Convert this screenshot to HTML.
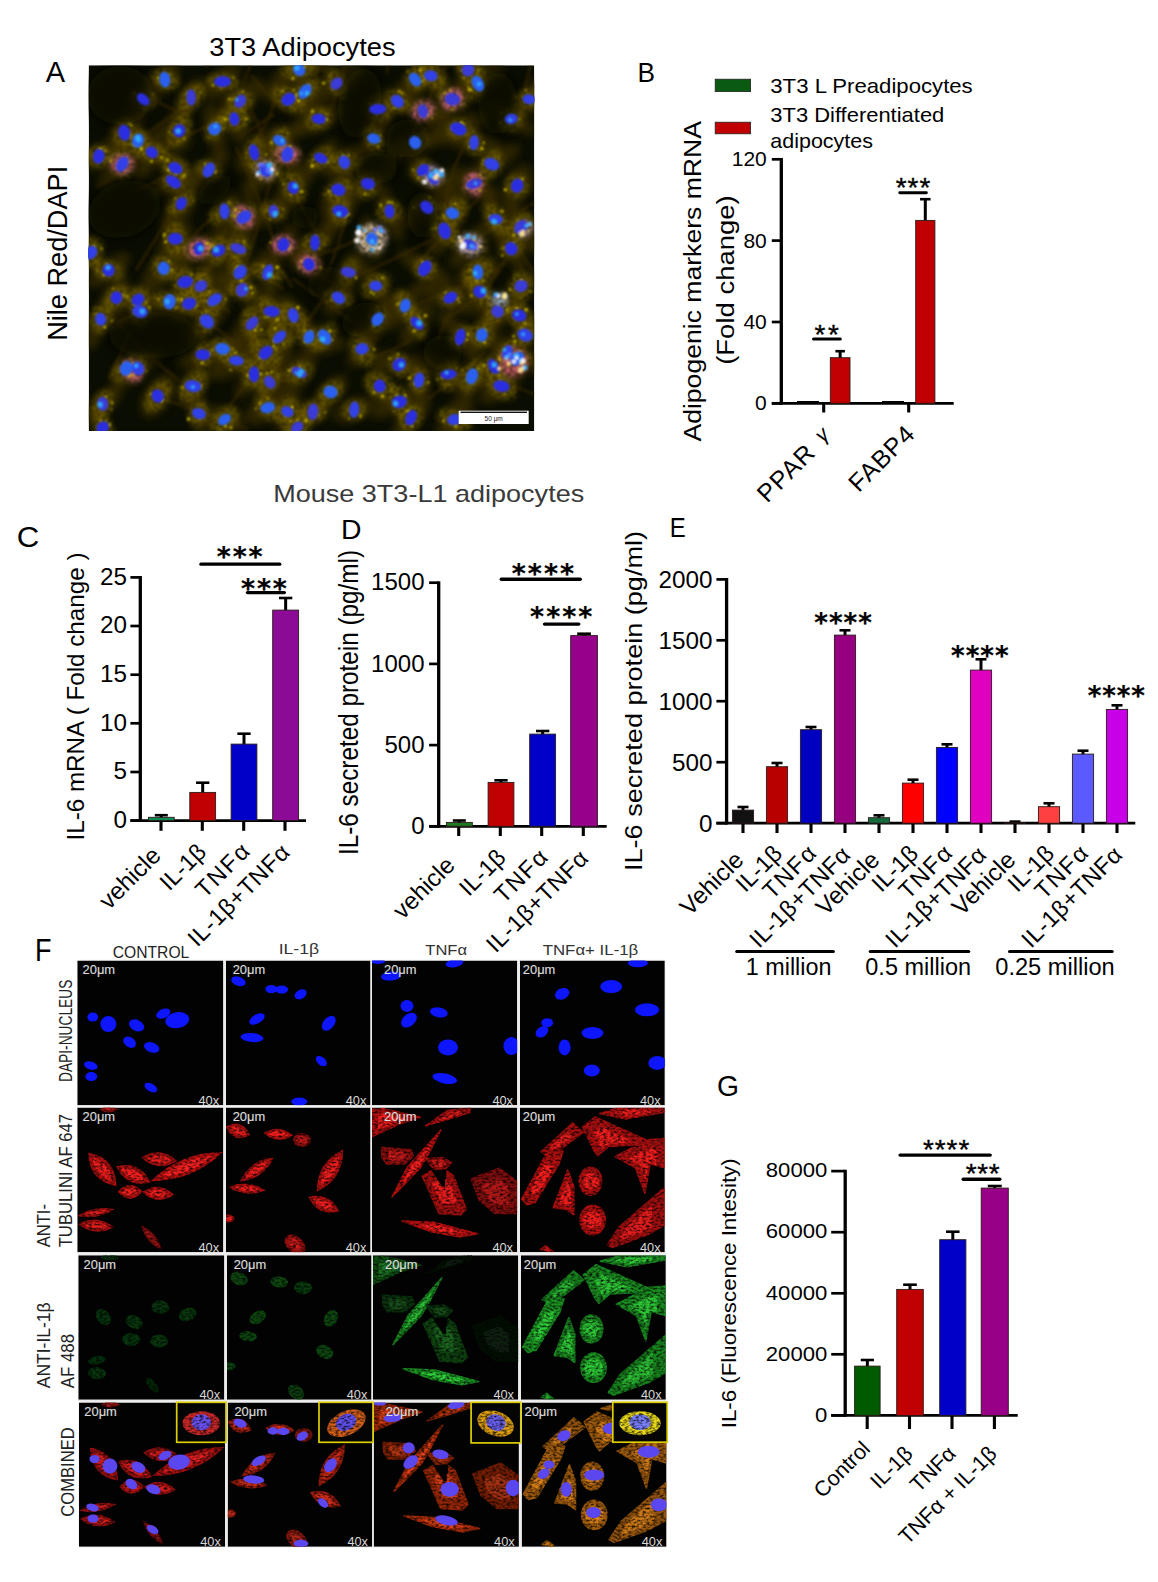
<!DOCTYPE html>
<html><head><meta charset="utf-8"><title>Figure</title>
<style>html,body{margin:0;padding:0;background:#fff}svg{display:block}text{font-family:'Liberation Sans', Arial, sans-serif}</style>
</head><body>
<svg width="1158" height="1582" viewBox="0 0 1158 1582">
<rect width="1158" height="1582" fill="#fff"/>
<text x="45.70" y="81.70" font-size="29">A</text>
<text x="209.30" y="55.70" font-size="26" textLength="186.3" lengthAdjust="spacingAndGlyphs">3T3 Adipocytes</text>
<text x="67.00" y="340.80" font-size="27" transform="rotate(-90 67.00 340.80)" textLength="175.0" lengthAdjust="spacingAndGlyphs">Nile Red/DAPI</text>
<defs><clipPath id="cpA"><rect x="88.7" y="65.3" width="445.59999999999997" height="365.7"/></clipPath><filter id="bA1" x="-20%" y="-20%" width="140%" height="140%"><feGaussianBlur stdDeviation="4"/></filter><filter id="bA5" x="-40%" y="-40%" width="180%" height="180%"><feGaussianBlur stdDeviation="7"/></filter><filter id="bA2" x="-20%" y="-20%" width="140%" height="140%"><feGaussianBlur stdDeviation="1.6"/></filter><filter id="bA4" x="-5%" y="-5%" width="110%" height="110%"><feGaussianBlur stdDeviation="2.4" result="b"/><feTurbulence type="fractalNoise" baseFrequency="0.3" numOctaves="2" seed="11" result="n"/><feColorMatrix in="n" type="matrix" values="0 0 0 0 0 0 0 0 0 0 0 0 0 0 0 2.4 0 0 0 -0.5" result="a"/><feComposite in="b" in2="a" operator="in"/><feGaussianBlur stdDeviation="1.0"/></filter><filter id="bA3" x="-20%" y="-20%" width="140%" height="140%"><feGaussianBlur stdDeviation="1.0"/></filter></defs>
<g clip-path="url(#cpA)">
<rect x="88.70" y="65.30" width="445.60" height="365.70" fill="#0a0d01"/>
<g stroke="#4a3006" stroke-width="2.2" fill="none" opacity="0.6" filter="url(#bA2)">
<path d="M233.0 120.5Q243.4 75.1 259.1 47.5"/>
<path d="M314.8 79.0Q321.0 63.7 330.3 35.3"/>
<path d="M143.9 146.9Q179.5 142.6 219.3 119.2"/>
<path d="M109.5 379.2Q115.4 363.5 128.9 335.1"/>
<path d="M169.2 278.0Q184.0 237.8 216.2 215.3"/>
<path d="M180.5 314.1Q201.9 276.4 225.2 246.6"/>
<path d="M442.7 320.9Q478.9 300.0 500.1 270.0"/>
<path d="M217.0 423.7Q239.6 387.6 276.1 352.0"/>
<path d="M106.2 309.7Q138.7 348.9 178.7 380.4"/>
<path d="M353.6 277.4Q400.6 257.1 448.6 230.2"/>
<path d="M115.7 321.8Q157.9 304.8 208.7 292.4"/>
<path d="M386.7 73.6Q388.1 57.1 407.1 29.9"/>
<path d="M146.3 155.9Q166.1 147.4 187.8 136.9"/>
<path d="M482.3 364.9Q510.2 388.5 543.7 396.7"/>
<path d="M515.5 120.5Q528.7 97.6 542.6 71.1"/>
<path d="M205.8 66.8Q238.6 38.7 253.3 2.9"/>
<path d="M318.4 291.2Q340.4 249.9 351.3 193.6"/>
<path d="M444.2 208.8Q450.9 160.9 475.1 130.2"/>
<path d="M181.7 124.7Q181.1 97.7 194.4 86.7"/>
<path d="M250.7 74.6Q263.1 89.9 285.3 111.3"/>
<path d="M251.0 110.2Q264.0 135.7 277.8 177.7"/>
<path d="M134.2 190.6Q147.6 188.0 179.9 167.3"/>
<path d="M324.1 118.9Q345.0 89.4 346.7 45.3"/>
<path d="M398.9 160.8Q419.5 123.8 438.8 75.6"/>
<path d="M235.6 146.9Q260.5 199.4 273.1 239.2"/>
<path d="M418.4 148.2Q421.3 126.8 443.0 114.2"/>
<path d="M204.2 318.6Q256.1 359.5 288.4 382.2"/>
<path d="M251.2 145.9Q265.9 129.7 275.7 97.4"/>
<path d="M463.2 240.6Q486.6 237.8 503.5 218.6"/>
<path d="M437.3 339.6Q454.6 302.7 478.7 253.8"/>
<path d="M521.7 210.1Q557.6 186.9 606.8 178.7"/>
<path d="M156.1 396.2Q211.7 416.0 248.1 429.4"/>
<path d="M244.8 265.9Q263.0 214.7 275.2 162.3"/>
<path d="M504.7 223.9Q513.9 243.2 533.1 270.8"/>
<path d="M195.9 279.8Q219.7 257.9 227.2 241.8"/>
<path d="M292.9 278.6Q335.3 309.6 377.7 339.3"/>
<path d="M322.0 72.1Q336.8 47.5 339.6 35.9"/>
<path d="M299.7 330.5Q322.2 304.6 342.6 267.4"/>
<path d="M136.0 270.2Q160.6 231.3 185.0 189.9"/>
<path d="M427.4 399.0Q456.7 378.9 485.6 351.2"/>
<path d="M290.3 260.3Q339.4 253.6 373.6 229.1"/>
<path d="M204.4 269.9Q209.4 290.1 229.5 312.7"/>
<path d="M121.0 153.3Q167.3 118.4 197.7 97.4"/>
<path d="M407.8 306.8Q451.4 294.0 506.3 263.1"/>
<path d="M266.2 243.5Q277.9 265.8 292.5 287.5"/>
<path d="M239.8 136.9Q258.2 124.4 274.5 114.3"/>
<path d="M96.8 186.5Q122.2 176.5 128.2 155.0"/>
<path d="M521.7 103.6Q531.5 51.2 550.6 13.6"/>
<path d="M276.9 398.6Q307.9 411.2 322.1 420.9"/>
<path d="M400.8 98.0Q420.8 86.7 457.9 57.9"/>
<path d="M371.4 358.5Q398.8 347.9 411.7 339.3"/>
<path d="M239.8 267.6Q262.3 273.4 283.6 289.7"/>
<path d="M137.5 124.3Q147.6 102.0 165.6 69.3"/>
<path d="M217.9 248.2Q224.9 221.7 241.8 214.5"/>
<path d="M415.4 266.8Q443.2 234.5 486.9 189.4"/>
<path d="M281.3 246.3Q316.3 277.1 343.9 288.5"/>
<path d="M241.4 369.7Q261.3 386.1 287.2 420.4"/>
<path d="M146.5 91.2Q161.3 109.3 192.7 113.8"/>
<path d="M476.6 310.5Q490.7 277.3 506.3 257.8"/>
<path d="M287.4 161.6Q297.4 207.0 317.7 233.7"/>
</g>
<g filter="url(#bA1)">
<ellipse cx="164.8" cy="79.6" rx="20.0" ry="9.9" transform="rotate(-52 164.8 79.6)" fill="#3a2d00" opacity="0.7"/>
<ellipse cx="222.5" cy="81.6" rx="22.8" ry="10.5" transform="rotate(-45 222.5 81.6)" fill="#3a2d00" opacity="0.7"/>
<ellipse cx="191.1" cy="97.3" rx="21.3" ry="10.0" transform="rotate(-57 191.1 97.3)" fill="#3a2d00" opacity="0.7"/>
<ellipse cx="143.2" cy="99.3" rx="24.3" ry="9.2" transform="rotate(-69 143.2 99.3)" fill="#3a2d00" opacity="0.7"/>
<ellipse cx="240.2" cy="101.3" rx="30.5" ry="11.3" transform="rotate(-44 240.2 101.3)" fill="#3a2d00" opacity="0.7"/>
<ellipse cx="234.3" cy="118.9" rx="25.5" ry="9.6" transform="rotate(72 234.3 118.9)" fill="#3a2d00" opacity="0.7"/>
<ellipse cx="288.5" cy="99.3" rx="30.1" ry="11.2" transform="rotate(20 288.5 99.3)" fill="#3a2d00" opacity="0.7"/>
<ellipse cx="299.1" cy="69.8" rx="32.5" ry="11.1" transform="rotate(-28 299.1 69.8)" fill="#3a2d00" opacity="0.7"/>
<ellipse cx="305.0" cy="91.4" rx="22.0" ry="10.6" transform="rotate(67 305.0 91.4)" fill="#3a2d00" opacity="0.7"/>
<ellipse cx="336.5" cy="83.6" rx="31.3" ry="12.1" transform="rotate(-28 336.5 83.6)" fill="#3a2d00" opacity="0.7"/>
<ellipse cx="318.8" cy="118.9" rx="29.6" ry="11.5" transform="rotate(-25 318.8 118.9)" fill="#3a2d00" opacity="0.7"/>
<ellipse cx="377.7" cy="109.1" rx="21.9" ry="9.8" transform="rotate(-68 377.7 109.1)" fill="#3a2d00" opacity="0.7"/>
<ellipse cx="397.4" cy="101.3" rx="27.8" ry="11.1" transform="rotate(-28 397.4 101.3)" fill="#3a2d00" opacity="0.7"/>
<ellipse cx="415.1" cy="79.6" rx="26.9" ry="8.0" transform="rotate(-36 415.1 79.6)" fill="#3a2d00" opacity="0.7"/>
<ellipse cx="430.8" cy="75.7" rx="27.0" ry="10.7" transform="rotate(62 430.8 75.7)" fill="#3a2d00" opacity="0.7"/>
<ellipse cx="422.9" cy="111.1" rx="30.3" ry="9.3" transform="rotate(15 422.9 111.1)" fill="#3a2d00" opacity="0.7"/>
<ellipse cx="452.4" cy="99.3" rx="30.2" ry="9.0" transform="rotate(-57 452.4 99.3)" fill="#3a2d00" opacity="0.7"/>
<ellipse cx="468.1" cy="69.8" rx="26.9" ry="9.9" transform="rotate(78 468.1 69.8)" fill="#3a2d00" opacity="0.7"/>
<ellipse cx="477.9" cy="83.6" rx="30.7" ry="11.1" transform="rotate(-36 477.9 83.6)" fill="#3a2d00" opacity="0.7"/>
<ellipse cx="529.0" cy="99.3" rx="22.1" ry="9.3" transform="rotate(-66 529.0 99.3)" fill="#3a2d00" opacity="0.7"/>
<ellipse cx="511.3" cy="118.9" rx="27.9" ry="8.1" transform="rotate(31 511.3 118.9)" fill="#3a2d00" opacity="0.7"/>
<ellipse cx="124.3" cy="132.7" rx="29.4" ry="11.5" transform="rotate(-57 124.3 132.7)" fill="#3a2d00" opacity="0.7"/>
<ellipse cx="138.0" cy="140.6" rx="27.2" ry="10.3" transform="rotate(30 138.0 140.6)" fill="#3a2d00" opacity="0.7"/>
<ellipse cx="151.8" cy="152.3" rx="32.5" ry="9.0" transform="rotate(-64 151.8 152.3)" fill="#3a2d00" opacity="0.7"/>
<ellipse cx="179.3" cy="130.7" rx="20.2" ry="10.3" transform="rotate(76 179.3 130.7)" fill="#3a2d00" opacity="0.7"/>
<ellipse cx="214.7" cy="128.8" rx="26.3" ry="9.3" transform="rotate(78 214.7 128.8)" fill="#3a2d00" opacity="0.7"/>
<ellipse cx="98.8" cy="156.3" rx="22.9" ry="10.9" transform="rotate(-23 98.8 156.3)" fill="#3a2d00" opacity="0.7"/>
<ellipse cx="122.3" cy="164.1" rx="33.3" ry="8.7" transform="rotate(-44 122.3 164.1)" fill="#3a2d00" opacity="0.7"/>
<ellipse cx="175.4" cy="168.1" rx="32.4" ry="11.5" transform="rotate(46 175.4 168.1)" fill="#3a2d00" opacity="0.7"/>
<ellipse cx="173.4" cy="181.8" rx="26.8" ry="8.1" transform="rotate(-25 173.4 181.8)" fill="#3a2d00" opacity="0.7"/>
<ellipse cx="208.8" cy="170.0" rx="26.3" ry="9.5" transform="rotate(-45 208.8 170.0)" fill="#3a2d00" opacity="0.7"/>
<ellipse cx="254.0" cy="152.3" rx="24.4" ry="12.2" transform="rotate(-53 254.0 152.3)" fill="#3a2d00" opacity="0.7"/>
<ellipse cx="279.5" cy="140.6" rx="31.7" ry="8.6" transform="rotate(-32 279.5 140.6)" fill="#3a2d00" opacity="0.7"/>
<ellipse cx="287.4" cy="154.3" rx="32.6" ry="9.4" transform="rotate(60 287.4 154.3)" fill="#3a2d00" opacity="0.7"/>
<ellipse cx="265.7" cy="170.0" rx="34.0" ry="10.9" transform="rotate(-50 265.7 170.0)" fill="#3a2d00" opacity="0.7"/>
<ellipse cx="320.8" cy="158.2" rx="23.9" ry="8.2" transform="rotate(-49 320.8 158.2)" fill="#3a2d00" opacity="0.7"/>
<ellipse cx="344.3" cy="162.2" rx="24.0" ry="12.7" transform="rotate(-28 344.3 162.2)" fill="#3a2d00" opacity="0.7"/>
<ellipse cx="373.8" cy="138.6" rx="27.2" ry="8.9" transform="rotate(-57 373.8 138.6)" fill="#3a2d00" opacity="0.7"/>
<ellipse cx="415.1" cy="142.5" rx="32.4" ry="12.1" transform="rotate(-22 415.1 142.5)" fill="#3a2d00" opacity="0.7"/>
<ellipse cx="458.3" cy="128.8" rx="33.2" ry="10.7" transform="rotate(-24 458.3 128.8)" fill="#3a2d00" opacity="0.7"/>
<ellipse cx="474.0" cy="142.5" rx="30.3" ry="10.3" transform="rotate(13 474.0 142.5)" fill="#3a2d00" opacity="0.7"/>
<ellipse cx="422.9" cy="170.0" rx="24.0" ry="8.2" transform="rotate(55 422.9 170.0)" fill="#3a2d00" opacity="0.7"/>
<ellipse cx="432.7" cy="177.9" rx="26.6" ry="9.7" transform="rotate(19 432.7 177.9)" fill="#3a2d00" opacity="0.7"/>
<ellipse cx="491.7" cy="164.1" rx="33.7" ry="9.3" transform="rotate(-33 491.7 164.1)" fill="#3a2d00" opacity="0.7"/>
<ellipse cx="474.0" cy="183.8" rx="27.8" ry="10.0" transform="rotate(31 474.0 183.8)" fill="#3a2d00" opacity="0.7"/>
<ellipse cx="517.2" cy="185.7" rx="22.9" ry="12.5" transform="rotate(-62 517.2 185.7)" fill="#3a2d00" opacity="0.7"/>
<ellipse cx="181.3" cy="203.4" rx="32.7" ry="13.0" transform="rotate(-59 181.3 203.4)" fill="#3a2d00" opacity="0.7"/>
<ellipse cx="224.5" cy="211.3" rx="22.7" ry="8.5" transform="rotate(-63 224.5 211.3)" fill="#3a2d00" opacity="0.7"/>
<ellipse cx="244.1" cy="217.2" rx="23.3" ry="9.3" transform="rotate(-65 244.1 217.2)" fill="#3a2d00" opacity="0.7"/>
<ellipse cx="273.6" cy="211.3" rx="30.5" ry="10.1" transform="rotate(-26 273.6 211.3)" fill="#3a2d00" opacity="0.7"/>
<ellipse cx="293.3" cy="187.7" rx="25.3" ry="9.7" transform="rotate(-44 293.3 187.7)" fill="#3a2d00" opacity="0.7"/>
<ellipse cx="338.4" cy="189.7" rx="33.5" ry="8.6" transform="rotate(-56 338.4 189.7)" fill="#3a2d00" opacity="0.7"/>
<ellipse cx="367.9" cy="183.8" rx="32.1" ry="9.1" transform="rotate(-39 367.9 183.8)" fill="#3a2d00" opacity="0.7"/>
<ellipse cx="340.4" cy="211.3" rx="25.6" ry="10.2" transform="rotate(-58 340.4 211.3)" fill="#3a2d00" opacity="0.7"/>
<ellipse cx="389.5" cy="211.3" rx="32.2" ry="8.1" transform="rotate(69 389.5 211.3)" fill="#3a2d00" opacity="0.7"/>
<ellipse cx="426.8" cy="207.3" rx="32.5" ry="10.4" transform="rotate(-35 426.8 207.3)" fill="#3a2d00" opacity="0.7"/>
<ellipse cx="452.4" cy="213.2" rx="25.5" ry="12.6" transform="rotate(-70 452.4 213.2)" fill="#3a2d00" opacity="0.7"/>
<ellipse cx="495.6" cy="219.1" rx="33.6" ry="9.2" transform="rotate(70 495.6 219.1)" fill="#3a2d00" opacity="0.7"/>
<ellipse cx="444.5" cy="230.9" rx="27.3" ry="11.4" transform="rotate(-62 444.5 230.9)" fill="#3a2d00" opacity="0.7"/>
<ellipse cx="521.1" cy="227.0" rx="29.1" ry="11.8" transform="rotate(61 521.1 227.0)" fill="#3a2d00" opacity="0.7"/>
<ellipse cx="175.4" cy="238.8" rx="20.6" ry="11.9" transform="rotate(-42 175.4 238.8)" fill="#3a2d00" opacity="0.7"/>
<ellipse cx="198.9" cy="248.6" rx="29.0" ry="9.5" transform="rotate(-24 198.9 248.6)" fill="#3a2d00" opacity="0.7"/>
<ellipse cx="218.6" cy="250.6" rx="28.9" ry="11.5" transform="rotate(-57 218.6 250.6)" fill="#3a2d00" opacity="0.7"/>
<ellipse cx="238.2" cy="248.6" rx="27.3" ry="10.9" transform="rotate(-66 238.2 248.6)" fill="#3a2d00" opacity="0.7"/>
<ellipse cx="283.4" cy="244.7" rx="28.4" ry="8.1" transform="rotate(-59 283.4 244.7)" fill="#3a2d00" opacity="0.7"/>
<ellipse cx="314.9" cy="242.7" rx="33.4" ry="11.2" transform="rotate(-47 314.9 242.7)" fill="#3a2d00" opacity="0.7"/>
<ellipse cx="309.0" cy="264.3" rx="23.3" ry="9.2" transform="rotate(43 309.0 264.3)" fill="#3a2d00" opacity="0.7"/>
<ellipse cx="90.9" cy="252.5" rx="24.3" ry="8.1" transform="rotate(59 90.9 252.5)" fill="#3a2d00" opacity="0.7"/>
<ellipse cx="108.6" cy="270.2" rx="25.9" ry="9.3" transform="rotate(-36 108.6 270.2)" fill="#3a2d00" opacity="0.7"/>
<ellipse cx="371.8" cy="238.8" rx="23.2" ry="8.2" transform="rotate(75 371.8 238.8)" fill="#3a2d00" opacity="0.7"/>
<ellipse cx="470.1" cy="244.7" rx="29.6" ry="9.0" transform="rotate(-49 470.1 244.7)" fill="#3a2d00" opacity="0.7"/>
<ellipse cx="511.3" cy="248.6" rx="27.1" ry="9.0" transform="rotate(62 511.3 248.6)" fill="#3a2d00" opacity="0.7"/>
<ellipse cx="424.9" cy="268.3" rx="31.5" ry="9.2" transform="rotate(32 424.9 268.3)" fill="#3a2d00" opacity="0.7"/>
<ellipse cx="477.9" cy="272.2" rx="24.1" ry="12.8" transform="rotate(-32 477.9 272.2)" fill="#3a2d00" opacity="0.7"/>
<ellipse cx="348.3" cy="272.2" rx="23.1" ry="10.1" transform="rotate(-61 348.3 272.2)" fill="#3a2d00" opacity="0.7"/>
<ellipse cx="267.7" cy="272.2" rx="22.0" ry="10.0" transform="rotate(76 267.7 272.2)" fill="#3a2d00" opacity="0.7"/>
<ellipse cx="240.2" cy="272.2" rx="22.0" ry="8.3" transform="rotate(-21 240.2 272.2)" fill="#3a2d00" opacity="0.7"/>
<ellipse cx="163.6" cy="268.3" rx="32.6" ry="12.4" transform="rotate(-50 163.6 268.3)" fill="#3a2d00" opacity="0.7"/>
<ellipse cx="185.2" cy="282.0" rx="33.0" ry="9.6" transform="rotate(80 185.2 282.0)" fill="#3a2d00" opacity="0.7"/>
<ellipse cx="200.9" cy="285.9" rx="30.4" ry="8.2" transform="rotate(-23 200.9 285.9)" fill="#3a2d00" opacity="0.7"/>
<ellipse cx="242.2" cy="289.9" rx="25.2" ry="9.7" transform="rotate(37 242.2 289.9)" fill="#3a2d00" opacity="0.7"/>
<ellipse cx="116.4" cy="297.7" rx="23.9" ry="9.8" transform="rotate(-70 116.4 297.7)" fill="#3a2d00" opacity="0.7"/>
<ellipse cx="138.0" cy="299.7" rx="33.5" ry="9.0" transform="rotate(19 138.0 299.7)" fill="#3a2d00" opacity="0.7"/>
<ellipse cx="169.5" cy="301.7" rx="31.5" ry="10.2" transform="rotate(-29 169.5 301.7)" fill="#3a2d00" opacity="0.7"/>
<ellipse cx="189.1" cy="303.6" rx="25.2" ry="12.6" transform="rotate(-46 189.1 303.6)" fill="#3a2d00" opacity="0.7"/>
<ellipse cx="214.7" cy="299.7" rx="32.6" ry="8.2" transform="rotate(-52 214.7 299.7)" fill="#3a2d00" opacity="0.7"/>
<ellipse cx="140.0" cy="311.5" rx="30.7" ry="8.2" transform="rotate(-29 140.0 311.5)" fill="#3a2d00" opacity="0.7"/>
<ellipse cx="100.7" cy="319.3" rx="32.9" ry="9.3" transform="rotate(-67 100.7 319.3)" fill="#3a2d00" opacity="0.7"/>
<ellipse cx="271.6" cy="311.5" rx="24.7" ry="9.4" transform="rotate(73 271.6 311.5)" fill="#3a2d00" opacity="0.7"/>
<ellipse cx="293.3" cy="315.4" rx="23.7" ry="11.6" transform="rotate(53 293.3 315.4)" fill="#3a2d00" opacity="0.7"/>
<ellipse cx="338.4" cy="297.7" rx="20.1" ry="11.8" transform="rotate(-56 338.4 297.7)" fill="#3a2d00" opacity="0.7"/>
<ellipse cx="375.8" cy="285.9" rx="33.2" ry="8.1" transform="rotate(54 375.8 285.9)" fill="#3a2d00" opacity="0.7"/>
<ellipse cx="377.7" cy="319.3" rx="33.4" ry="12.8" transform="rotate(-46 377.7 319.3)" fill="#3a2d00" opacity="0.7"/>
<ellipse cx="417.0" cy="323.3" rx="26.0" ry="10.5" transform="rotate(-57 417.0 323.3)" fill="#3a2d00" opacity="0.7"/>
<ellipse cx="450.4" cy="297.7" rx="31.2" ry="11.7" transform="rotate(23 450.4 297.7)" fill="#3a2d00" opacity="0.7"/>
<ellipse cx="479.9" cy="291.8" rx="28.5" ry="9.6" transform="rotate(64 479.9 291.8)" fill="#3a2d00" opacity="0.7"/>
<ellipse cx="405.2" cy="305.6" rx="31.0" ry="8.4" transform="rotate(-52 405.2 305.6)" fill="#3a2d00" opacity="0.7"/>
<ellipse cx="521.1" cy="285.9" rx="23.5" ry="8.3" transform="rotate(-32 521.1 285.9)" fill="#3a2d00" opacity="0.7"/>
<ellipse cx="497.6" cy="311.5" rx="24.6" ry="12.9" transform="rotate(-42 497.6 311.5)" fill="#3a2d00" opacity="0.7"/>
<ellipse cx="519.2" cy="315.4" rx="23.7" ry="8.4" transform="rotate(79 519.2 315.4)" fill="#3a2d00" opacity="0.7"/>
<ellipse cx="206.8" cy="321.3" rx="29.9" ry="10.2" transform="rotate(-45 206.8 321.3)" fill="#3a2d00" opacity="0.7"/>
<ellipse cx="252.0" cy="323.3" rx="28.7" ry="11.4" transform="rotate(-49 252.0 323.3)" fill="#3a2d00" opacity="0.7"/>
<ellipse cx="279.5" cy="337.0" rx="29.3" ry="8.6" transform="rotate(69 279.5 337.0)" fill="#3a2d00" opacity="0.7"/>
<ellipse cx="309.0" cy="337.0" rx="27.9" ry="9.9" transform="rotate(31 309.0 337.0)" fill="#3a2d00" opacity="0.7"/>
<ellipse cx="324.7" cy="337.0" rx="23.5" ry="9.2" transform="rotate(24 324.7 337.0)" fill="#3a2d00" opacity="0.7"/>
<ellipse cx="222.5" cy="348.8" rx="28.1" ry="9.6" transform="rotate(-26 222.5 348.8)" fill="#3a2d00" opacity="0.7"/>
<ellipse cx="202.9" cy="354.7" rx="27.1" ry="9.2" transform="rotate(-20 202.9 354.7)" fill="#3a2d00" opacity="0.7"/>
<ellipse cx="265.7" cy="352.7" rx="33.9" ry="8.5" transform="rotate(56 265.7 352.7)" fill="#3a2d00" opacity="0.7"/>
<ellipse cx="236.3" cy="360.6" rx="31.8" ry="12.6" transform="rotate(-29 236.3 360.6)" fill="#3a2d00" opacity="0.7"/>
<ellipse cx="362.0" cy="348.8" rx="21.7" ry="8.9" transform="rotate(-55 362.0 348.8)" fill="#3a2d00" opacity="0.7"/>
<ellipse cx="460.2" cy="337.0" rx="33.0" ry="9.9" transform="rotate(51 460.2 337.0)" fill="#3a2d00" opacity="0.7"/>
<ellipse cx="507.4" cy="352.7" rx="23.6" ry="11.9" transform="rotate(41 507.4 352.7)" fill="#3a2d00" opacity="0.7"/>
<ellipse cx="399.3" cy="364.5" rx="28.3" ry="11.1" transform="rotate(17 399.3 364.5)" fill="#3a2d00" opacity="0.7"/>
<ellipse cx="126.3" cy="368.4" rx="22.0" ry="9.0" transform="rotate(-52 126.3 368.4)" fill="#3a2d00" opacity="0.7"/>
<ellipse cx="138.0" cy="368.4" rx="29.1" ry="9.0" transform="rotate(-40 138.0 368.4)" fill="#3a2d00" opacity="0.7"/>
<ellipse cx="254.0" cy="374.3" rx="29.5" ry="8.9" transform="rotate(-54 254.0 374.3)" fill="#3a2d00" opacity="0.7"/>
<ellipse cx="299.1" cy="372.4" rx="31.1" ry="10.7" transform="rotate(-60 299.1 372.4)" fill="#3a2d00" opacity="0.7"/>
<ellipse cx="269.7" cy="382.2" rx="25.5" ry="10.8" transform="rotate(-65 269.7 382.2)" fill="#3a2d00" opacity="0.7"/>
<ellipse cx="193.1" cy="386.1" rx="22.3" ry="11.5" transform="rotate(-65 193.1 386.1)" fill="#3a2d00" opacity="0.7"/>
<ellipse cx="157.7" cy="396.0" rx="24.3" ry="12.8" transform="rotate(-56 157.7 396.0)" fill="#3a2d00" opacity="0.7"/>
<ellipse cx="102.7" cy="403.8" rx="25.0" ry="10.1" transform="rotate(-42 102.7 403.8)" fill="#3a2d00" opacity="0.7"/>
<ellipse cx="198.9" cy="413.6" rx="25.1" ry="9.0" transform="rotate(80 198.9 413.6)" fill="#3a2d00" opacity="0.7"/>
<ellipse cx="224.5" cy="419.5" rx="20.1" ry="12.5" transform="rotate(24 224.5 419.5)" fill="#3a2d00" opacity="0.7"/>
<ellipse cx="267.7" cy="407.7" rx="25.7" ry="12.4" transform="rotate(-29 267.7 407.7)" fill="#3a2d00" opacity="0.7"/>
<ellipse cx="287.4" cy="411.7" rx="20.2" ry="10.8" transform="rotate(-62 287.4 411.7)" fill="#3a2d00" opacity="0.7"/>
<ellipse cx="312.9" cy="411.7" rx="21.2" ry="11.1" transform="rotate(-25 312.9 411.7)" fill="#3a2d00" opacity="0.7"/>
<ellipse cx="330.6" cy="392.0" rx="22.0" ry="9.4" transform="rotate(-45 330.6 392.0)" fill="#3a2d00" opacity="0.7"/>
<ellipse cx="354.2" cy="409.7" rx="21.5" ry="10.5" transform="rotate(-24 354.2 409.7)" fill="#3a2d00" opacity="0.7"/>
<ellipse cx="379.7" cy="386.1" rx="22.8" ry="8.6" transform="rotate(78 379.7 386.1)" fill="#3a2d00" opacity="0.7"/>
<ellipse cx="419.0" cy="380.2" rx="26.8" ry="8.3" transform="rotate(78 419.0 380.2)" fill="#3a2d00" opacity="0.7"/>
<ellipse cx="448.5" cy="374.3" rx="32.7" ry="11.1" transform="rotate(37 448.5 374.3)" fill="#3a2d00" opacity="0.7"/>
<ellipse cx="472.0" cy="376.3" rx="31.0" ry="9.1" transform="rotate(21 472.0 376.3)" fill="#3a2d00" opacity="0.7"/>
<ellipse cx="399.3" cy="401.8" rx="31.6" ry="8.9" transform="rotate(-28 399.3 401.8)" fill="#3a2d00" opacity="0.7"/>
<ellipse cx="411.1" cy="417.6" rx="27.3" ry="9.9" transform="rotate(-50 411.1 417.6)" fill="#3a2d00" opacity="0.7"/>
<ellipse cx="454.4" cy="419.5" rx="30.1" ry="12.5" transform="rotate(-58 454.4 419.5)" fill="#3a2d00" opacity="0.7"/>
<ellipse cx="493.6" cy="366.5" rx="30.6" ry="8.2" transform="rotate(-42 493.6 366.5)" fill="#3a2d00" opacity="0.7"/>
<ellipse cx="517.2" cy="358.6" rx="28.4" ry="10.8" transform="rotate(18 517.2 358.6)" fill="#3a2d00" opacity="0.7"/>
<ellipse cx="525.1" cy="335.0" rx="25.9" ry="10.9" transform="rotate(-55 525.1 335.0)" fill="#3a2d00" opacity="0.7"/>
<ellipse cx="501.5" cy="386.1" rx="26.3" ry="10.2" transform="rotate(-37 501.5 386.1)" fill="#3a2d00" opacity="0.7"/>
<ellipse cx="481.9" cy="335.0" rx="26.9" ry="9.2" transform="rotate(-39 481.9 335.0)" fill="#3a2d00" opacity="0.7"/>
<ellipse cx="102.7" cy="427.4" rx="26.4" ry="8.9" transform="rotate(65 102.7 427.4)" fill="#3a2d00" opacity="0.7"/>
<ellipse cx="297.2" cy="427.4" rx="21.8" ry="10.2" transform="rotate(-65 297.2 427.4)" fill="#3a2d00" opacity="0.7"/>
</g>
<g filter="url(#bA4)">
<ellipse cx="164.8" cy="79.6" rx="15.1" ry="10.0" transform="rotate(17 164.8 79.6)" fill="#8a7400" opacity="0.6"/>
<ellipse cx="222.5" cy="81.6" rx="16.5" ry="8.3" transform="rotate(7 222.5 81.6)" fill="#8a7400" opacity="0.6"/>
<ellipse cx="191.1" cy="97.3" rx="17.4" ry="10.0" transform="rotate(132 191.1 97.3)" fill="#8a7400" opacity="0.6"/>
<ellipse cx="143.2" cy="99.3" rx="15.5" ry="9.5" transform="rotate(10 143.2 99.3)" fill="#8a7400" opacity="0.6"/>
<ellipse cx="240.2" cy="101.3" rx="13.0" ry="11.4" transform="rotate(171 240.2 101.3)" fill="#8a7400" opacity="0.6"/>
<ellipse cx="234.3" cy="118.9" rx="17.1" ry="11.3" transform="rotate(179 234.3 118.9)" fill="#8a7400" opacity="0.6"/>
<ellipse cx="288.5" cy="99.3" rx="18.9" ry="10.0" transform="rotate(35 288.5 99.3)" fill="#8a7400" opacity="0.6"/>
<ellipse cx="299.1" cy="69.8" rx="18.4" ry="8.7" transform="rotate(172 299.1 69.8)" fill="#8a7400" opacity="0.6"/>
<ellipse cx="305.0" cy="91.4" rx="18.5" ry="8.3" transform="rotate(142 305.0 91.4)" fill="#8a7400" opacity="0.6"/>
<ellipse cx="336.5" cy="83.6" rx="17.3" ry="8.6" transform="rotate(63 336.5 83.6)" fill="#8a7400" opacity="0.6"/>
<ellipse cx="318.8" cy="118.9" rx="13.9" ry="11.3" transform="rotate(161 318.8 118.9)" fill="#8a7400" opacity="0.6"/>
<ellipse cx="377.7" cy="109.1" rx="15.5" ry="11.7" transform="rotate(26 377.7 109.1)" fill="#8a7400" opacity="0.6"/>
<ellipse cx="397.4" cy="101.3" rx="13.8" ry="10.0" transform="rotate(37 397.4 101.3)" fill="#8a7400" opacity="0.6"/>
<ellipse cx="415.1" cy="79.6" rx="12.3" ry="8.7" transform="rotate(57 415.1 79.6)" fill="#8a7400" opacity="0.6"/>
<ellipse cx="430.8" cy="75.7" rx="18.6" ry="10.7" transform="rotate(29 430.8 75.7)" fill="#8a7400" opacity="0.6"/>
<ellipse cx="422.9" cy="111.1" rx="13.2" ry="11.1" transform="rotate(161 422.9 111.1)" fill="#8a7400" opacity="0.6"/>
<ellipse cx="452.4" cy="99.3" rx="15.7" ry="10.5" transform="rotate(21 452.4 99.3)" fill="#8a7400" opacity="0.6"/>
<ellipse cx="468.1" cy="69.8" rx="18.1" ry="10.2" transform="rotate(65 468.1 69.8)" fill="#8a7400" opacity="0.6"/>
<ellipse cx="477.9" cy="83.6" rx="18.2" ry="8.4" transform="rotate(104 477.9 83.6)" fill="#8a7400" opacity="0.6"/>
<ellipse cx="529.0" cy="99.3" rx="16.4" ry="9.6" transform="rotate(179 529.0 99.3)" fill="#8a7400" opacity="0.6"/>
<ellipse cx="511.3" cy="118.9" rx="13.9" ry="12.0" transform="rotate(144 511.3 118.9)" fill="#8a7400" opacity="0.6"/>
<ellipse cx="124.3" cy="132.7" rx="14.5" ry="11.1" transform="rotate(104 124.3 132.7)" fill="#8a7400" opacity="0.6"/>
<ellipse cx="138.0" cy="140.6" rx="13.2" ry="11.0" transform="rotate(80 138.0 140.6)" fill="#8a7400" opacity="0.6"/>
<ellipse cx="151.8" cy="152.3" rx="17.7" ry="9.0" transform="rotate(9 151.8 152.3)" fill="#8a7400" opacity="0.6"/>
<ellipse cx="179.3" cy="130.7" rx="18.9" ry="10.3" transform="rotate(115 179.3 130.7)" fill="#8a7400" opacity="0.6"/>
<ellipse cx="214.7" cy="128.8" rx="14.2" ry="8.0" transform="rotate(119 214.7 128.8)" fill="#8a7400" opacity="0.6"/>
<ellipse cx="98.8" cy="156.3" rx="13.0" ry="10.5" transform="rotate(6 98.8 156.3)" fill="#8a7400" opacity="0.6"/>
<ellipse cx="122.3" cy="164.1" rx="15.6" ry="11.6" transform="rotate(78 122.3 164.1)" fill="#8a7400" opacity="0.6"/>
<ellipse cx="175.4" cy="168.1" rx="13.6" ry="10.6" transform="rotate(24 175.4 168.1)" fill="#8a7400" opacity="0.6"/>
<ellipse cx="173.4" cy="181.8" rx="12.0" ry="9.4" transform="rotate(4 173.4 181.8)" fill="#8a7400" opacity="0.6"/>
<ellipse cx="208.8" cy="170.0" rx="14.5" ry="8.9" transform="rotate(19 208.8 170.0)" fill="#8a7400" opacity="0.6"/>
<ellipse cx="254.0" cy="152.3" rx="16.1" ry="8.8" transform="rotate(105 254.0 152.3)" fill="#8a7400" opacity="0.6"/>
<ellipse cx="279.5" cy="140.6" rx="15.3" ry="8.5" transform="rotate(112 279.5 140.6)" fill="#8a7400" opacity="0.6"/>
<ellipse cx="287.4" cy="154.3" rx="13.7" ry="8.6" transform="rotate(169 287.4 154.3)" fill="#8a7400" opacity="0.6"/>
<ellipse cx="265.7" cy="170.0" rx="16.5" ry="11.5" transform="rotate(17 265.7 170.0)" fill="#8a7400" opacity="0.6"/>
<ellipse cx="320.8" cy="158.2" rx="14.8" ry="9.1" transform="rotate(141 320.8 158.2)" fill="#8a7400" opacity="0.6"/>
<ellipse cx="344.3" cy="162.2" rx="16.5" ry="10.2" transform="rotate(2 344.3 162.2)" fill="#8a7400" opacity="0.6"/>
<ellipse cx="373.8" cy="138.6" rx="16.5" ry="9.8" transform="rotate(63 373.8 138.6)" fill="#8a7400" opacity="0.6"/>
<ellipse cx="415.1" cy="142.5" rx="17.1" ry="9.0" transform="rotate(169 415.1 142.5)" fill="#8a7400" opacity="0.6"/>
<ellipse cx="458.3" cy="128.8" rx="12.3" ry="10.1" transform="rotate(163 458.3 128.8)" fill="#8a7400" opacity="0.6"/>
<ellipse cx="474.0" cy="142.5" rx="13.7" ry="8.2" transform="rotate(73 474.0 142.5)" fill="#8a7400" opacity="0.6"/>
<ellipse cx="422.9" cy="170.0" rx="12.1" ry="10.2" transform="rotate(140 422.9 170.0)" fill="#8a7400" opacity="0.6"/>
<ellipse cx="432.7" cy="177.9" rx="13.0" ry="8.8" transform="rotate(169 432.7 177.9)" fill="#8a7400" opacity="0.6"/>
<ellipse cx="491.7" cy="164.1" rx="15.5" ry="10.6" transform="rotate(109 491.7 164.1)" fill="#8a7400" opacity="0.6"/>
<ellipse cx="474.0" cy="183.8" rx="13.2" ry="9.2" transform="rotate(146 474.0 183.8)" fill="#8a7400" opacity="0.6"/>
<ellipse cx="517.2" cy="185.7" rx="12.3" ry="11.6" transform="rotate(54 517.2 185.7)" fill="#8a7400" opacity="0.6"/>
<ellipse cx="181.3" cy="203.4" rx="17.0" ry="8.0" transform="rotate(141 181.3 203.4)" fill="#8a7400" opacity="0.6"/>
<ellipse cx="224.5" cy="211.3" rx="17.2" ry="9.9" transform="rotate(152 224.5 211.3)" fill="#8a7400" opacity="0.6"/>
<ellipse cx="244.1" cy="217.2" rx="15.2" ry="8.9" transform="rotate(134 244.1 217.2)" fill="#8a7400" opacity="0.6"/>
<ellipse cx="273.6" cy="211.3" rx="13.6" ry="8.2" transform="rotate(19 273.6 211.3)" fill="#8a7400" opacity="0.6"/>
<ellipse cx="293.3" cy="187.7" rx="17.2" ry="10.8" transform="rotate(60 293.3 187.7)" fill="#8a7400" opacity="0.6"/>
<ellipse cx="338.4" cy="189.7" rx="17.0" ry="9.1" transform="rotate(152 338.4 189.7)" fill="#8a7400" opacity="0.6"/>
<ellipse cx="367.9" cy="183.8" rx="15.1" ry="11.2" transform="rotate(100 367.9 183.8)" fill="#8a7400" opacity="0.6"/>
<ellipse cx="340.4" cy="211.3" rx="13.9" ry="10.6" transform="rotate(94 340.4 211.3)" fill="#8a7400" opacity="0.6"/>
<ellipse cx="389.5" cy="211.3" rx="13.5" ry="11.5" transform="rotate(174 389.5 211.3)" fill="#8a7400" opacity="0.6"/>
<ellipse cx="426.8" cy="207.3" rx="13.8" ry="8.9" transform="rotate(3 426.8 207.3)" fill="#8a7400" opacity="0.6"/>
<ellipse cx="452.4" cy="213.2" rx="18.6" ry="11.0" transform="rotate(134 452.4 213.2)" fill="#8a7400" opacity="0.6"/>
<ellipse cx="495.6" cy="219.1" rx="18.2" ry="9.3" transform="rotate(59 495.6 219.1)" fill="#8a7400" opacity="0.6"/>
<ellipse cx="444.5" cy="230.9" rx="18.4" ry="10.5" transform="rotate(43 444.5 230.9)" fill="#8a7400" opacity="0.6"/>
<ellipse cx="521.1" cy="227.0" rx="16.7" ry="11.9" transform="rotate(125 521.1 227.0)" fill="#8a7400" opacity="0.6"/>
<ellipse cx="175.4" cy="238.8" rx="17.9" ry="10.8" transform="rotate(85 175.4 238.8)" fill="#8a7400" opacity="0.6"/>
<ellipse cx="198.9" cy="248.6" rx="15.1" ry="10.9" transform="rotate(154 198.9 248.6)" fill="#8a7400" opacity="0.6"/>
<ellipse cx="218.6" cy="250.6" rx="14.2" ry="8.8" transform="rotate(103 218.6 250.6)" fill="#8a7400" opacity="0.6"/>
<ellipse cx="238.2" cy="248.6" rx="12.5" ry="11.6" transform="rotate(112 238.2 248.6)" fill="#8a7400" opacity="0.6"/>
<ellipse cx="283.4" cy="244.7" rx="12.2" ry="8.4" transform="rotate(26 283.4 244.7)" fill="#8a7400" opacity="0.6"/>
<ellipse cx="314.9" cy="242.7" rx="14.4" ry="8.6" transform="rotate(167 314.9 242.7)" fill="#8a7400" opacity="0.6"/>
<ellipse cx="309.0" cy="264.3" rx="12.3" ry="10.8" transform="rotate(5 309.0 264.3)" fill="#8a7400" opacity="0.6"/>
<ellipse cx="90.9" cy="252.5" rx="16.9" ry="10.9" transform="rotate(114 90.9 252.5)" fill="#8a7400" opacity="0.6"/>
<ellipse cx="108.6" cy="270.2" rx="16.1" ry="9.5" transform="rotate(12 108.6 270.2)" fill="#8a7400" opacity="0.6"/>
<ellipse cx="371.8" cy="238.8" rx="17.7" ry="11.6" transform="rotate(147 371.8 238.8)" fill="#8a7400" opacity="0.6"/>
<ellipse cx="470.1" cy="244.7" rx="18.1" ry="11.7" transform="rotate(12 470.1 244.7)" fill="#8a7400" opacity="0.6"/>
<ellipse cx="511.3" cy="248.6" rx="12.7" ry="8.8" transform="rotate(170 511.3 248.6)" fill="#8a7400" opacity="0.6"/>
<ellipse cx="424.9" cy="268.3" rx="12.2" ry="11.4" transform="rotate(20 424.9 268.3)" fill="#8a7400" opacity="0.6"/>
<ellipse cx="477.9" cy="272.2" rx="16.4" ry="11.3" transform="rotate(146 477.9 272.2)" fill="#8a7400" opacity="0.6"/>
<ellipse cx="348.3" cy="272.2" rx="14.0" ry="8.4" transform="rotate(114 348.3 272.2)" fill="#8a7400" opacity="0.6"/>
<ellipse cx="267.7" cy="272.2" rx="17.3" ry="8.8" transform="rotate(18 267.7 272.2)" fill="#8a7400" opacity="0.6"/>
<ellipse cx="240.2" cy="272.2" rx="15.0" ry="8.1" transform="rotate(57 240.2 272.2)" fill="#8a7400" opacity="0.6"/>
<ellipse cx="163.6" cy="268.3" rx="14.0" ry="10.9" transform="rotate(46 163.6 268.3)" fill="#8a7400" opacity="0.6"/>
<ellipse cx="185.2" cy="282.0" rx="14.2" ry="11.9" transform="rotate(66 185.2 282.0)" fill="#8a7400" opacity="0.6"/>
<ellipse cx="200.9" cy="285.9" rx="18.0" ry="10.5" transform="rotate(91 200.9 285.9)" fill="#8a7400" opacity="0.6"/>
<ellipse cx="242.2" cy="289.9" rx="14.9" ry="9.7" transform="rotate(6 242.2 289.9)" fill="#8a7400" opacity="0.6"/>
<ellipse cx="116.4" cy="297.7" rx="14.4" ry="10.8" transform="rotate(139 116.4 297.7)" fill="#8a7400" opacity="0.6"/>
<ellipse cx="138.0" cy="299.7" rx="13.5" ry="11.4" transform="rotate(97 138.0 299.7)" fill="#8a7400" opacity="0.6"/>
<ellipse cx="169.5" cy="301.7" rx="17.7" ry="8.7" transform="rotate(16 169.5 301.7)" fill="#8a7400" opacity="0.6"/>
<ellipse cx="189.1" cy="303.6" rx="13.4" ry="11.0" transform="rotate(0 189.1 303.6)" fill="#8a7400" opacity="0.6"/>
<ellipse cx="214.7" cy="299.7" rx="12.0" ry="10.0" transform="rotate(176 214.7 299.7)" fill="#8a7400" opacity="0.6"/>
<ellipse cx="140.0" cy="311.5" rx="17.6" ry="8.7" transform="rotate(88 140.0 311.5)" fill="#8a7400" opacity="0.6"/>
<ellipse cx="100.7" cy="319.3" rx="14.4" ry="11.3" transform="rotate(89 100.7 319.3)" fill="#8a7400" opacity="0.6"/>
<ellipse cx="271.6" cy="311.5" rx="18.6" ry="9.1" transform="rotate(47 271.6 311.5)" fill="#8a7400" opacity="0.6"/>
<ellipse cx="293.3" cy="315.4" rx="16.9" ry="10.0" transform="rotate(39 293.3 315.4)" fill="#8a7400" opacity="0.6"/>
<ellipse cx="338.4" cy="297.7" rx="16.5" ry="8.3" transform="rotate(20 338.4 297.7)" fill="#8a7400" opacity="0.6"/>
<ellipse cx="375.8" cy="285.9" rx="16.9" ry="11.1" transform="rotate(142 375.8 285.9)" fill="#8a7400" opacity="0.6"/>
<ellipse cx="377.7" cy="319.3" rx="14.5" ry="9.6" transform="rotate(113 377.7 319.3)" fill="#8a7400" opacity="0.6"/>
<ellipse cx="417.0" cy="323.3" rx="18.2" ry="8.3" transform="rotate(71 417.0 323.3)" fill="#8a7400" opacity="0.6"/>
<ellipse cx="450.4" cy="297.7" rx="12.2" ry="8.8" transform="rotate(160 450.4 297.7)" fill="#8a7400" opacity="0.6"/>
<ellipse cx="479.9" cy="291.8" rx="18.3" ry="10.0" transform="rotate(47 479.9 291.8)" fill="#8a7400" opacity="0.6"/>
<ellipse cx="405.2" cy="305.6" rx="18.2" ry="8.9" transform="rotate(68 405.2 305.6)" fill="#8a7400" opacity="0.6"/>
<ellipse cx="521.1" cy="285.9" rx="15.7" ry="11.0" transform="rotate(83 521.1 285.9)" fill="#8a7400" opacity="0.6"/>
<ellipse cx="497.6" cy="311.5" rx="16.5" ry="9.4" transform="rotate(136 497.6 311.5)" fill="#8a7400" opacity="0.6"/>
<ellipse cx="519.2" cy="315.4" rx="13.1" ry="11.4" transform="rotate(59 519.2 315.4)" fill="#8a7400" opacity="0.6"/>
<ellipse cx="206.8" cy="321.3" rx="17.2" ry="8.7" transform="rotate(119 206.8 321.3)" fill="#8a7400" opacity="0.6"/>
<ellipse cx="252.0" cy="323.3" rx="17.4" ry="10.3" transform="rotate(79 252.0 323.3)" fill="#8a7400" opacity="0.6"/>
<ellipse cx="279.5" cy="337.0" rx="15.2" ry="11.5" transform="rotate(23 279.5 337.0)" fill="#8a7400" opacity="0.6"/>
<ellipse cx="309.0" cy="337.0" rx="13.3" ry="9.2" transform="rotate(43 309.0 337.0)" fill="#8a7400" opacity="0.6"/>
<ellipse cx="324.7" cy="337.0" rx="17.9" ry="8.6" transform="rotate(127 324.7 337.0)" fill="#8a7400" opacity="0.6"/>
<ellipse cx="222.5" cy="348.8" rx="13.7" ry="9.3" transform="rotate(28 222.5 348.8)" fill="#8a7400" opacity="0.6"/>
<ellipse cx="202.9" cy="354.7" rx="13.1" ry="9.3" transform="rotate(94 202.9 354.7)" fill="#8a7400" opacity="0.6"/>
<ellipse cx="265.7" cy="352.7" rx="18.8" ry="10.9" transform="rotate(34 265.7 352.7)" fill="#8a7400" opacity="0.6"/>
<ellipse cx="236.3" cy="360.6" rx="18.7" ry="8.4" transform="rotate(18 236.3 360.6)" fill="#8a7400" opacity="0.6"/>
<ellipse cx="362.0" cy="348.8" rx="18.9" ry="11.2" transform="rotate(69 362.0 348.8)" fill="#8a7400" opacity="0.6"/>
<ellipse cx="460.2" cy="337.0" rx="15.0" ry="8.8" transform="rotate(132 460.2 337.0)" fill="#8a7400" opacity="0.6"/>
<ellipse cx="507.4" cy="352.7" rx="12.7" ry="8.8" transform="rotate(115 507.4 352.7)" fill="#8a7400" opacity="0.6"/>
<ellipse cx="399.3" cy="364.5" rx="12.2" ry="9.6" transform="rotate(70 399.3 364.5)" fill="#8a7400" opacity="0.6"/>
<ellipse cx="126.3" cy="368.4" rx="16.9" ry="10.0" transform="rotate(142 126.3 368.4)" fill="#8a7400" opacity="0.6"/>
<ellipse cx="138.0" cy="368.4" rx="15.2" ry="8.6" transform="rotate(114 138.0 368.4)" fill="#8a7400" opacity="0.6"/>
<ellipse cx="254.0" cy="374.3" rx="14.8" ry="11.0" transform="rotate(109 254.0 374.3)" fill="#8a7400" opacity="0.6"/>
<ellipse cx="299.1" cy="372.4" rx="15.0" ry="10.3" transform="rotate(163 299.1 372.4)" fill="#8a7400" opacity="0.6"/>
<ellipse cx="269.7" cy="382.2" rx="14.9" ry="8.9" transform="rotate(135 269.7 382.2)" fill="#8a7400" opacity="0.6"/>
<ellipse cx="193.1" cy="386.1" rx="18.2" ry="11.1" transform="rotate(130 193.1 386.1)" fill="#8a7400" opacity="0.6"/>
<ellipse cx="157.7" cy="396.0" rx="18.0" ry="10.7" transform="rotate(126 157.7 396.0)" fill="#8a7400" opacity="0.6"/>
<ellipse cx="102.7" cy="403.8" rx="15.2" ry="9.3" transform="rotate(115 102.7 403.8)" fill="#8a7400" opacity="0.6"/>
<ellipse cx="198.9" cy="413.6" rx="12.7" ry="9.7" transform="rotate(113 198.9 413.6)" fill="#8a7400" opacity="0.6"/>
<ellipse cx="224.5" cy="419.5" rx="17.0" ry="10.5" transform="rotate(141 224.5 419.5)" fill="#8a7400" opacity="0.6"/>
<ellipse cx="267.7" cy="407.7" rx="15.0" ry="9.8" transform="rotate(45 267.7 407.7)" fill="#8a7400" opacity="0.6"/>
<ellipse cx="287.4" cy="411.7" rx="14.9" ry="10.7" transform="rotate(112 287.4 411.7)" fill="#8a7400" opacity="0.6"/>
<ellipse cx="312.9" cy="411.7" rx="13.3" ry="10.6" transform="rotate(167 312.9 411.7)" fill="#8a7400" opacity="0.6"/>
<ellipse cx="330.6" cy="392.0" rx="14.7" ry="10.0" transform="rotate(140 330.6 392.0)" fill="#8a7400" opacity="0.6"/>
<ellipse cx="354.2" cy="409.7" rx="12.3" ry="10.2" transform="rotate(175 354.2 409.7)" fill="#8a7400" opacity="0.6"/>
<ellipse cx="379.7" cy="386.1" rx="17.5" ry="11.8" transform="rotate(29 379.7 386.1)" fill="#8a7400" opacity="0.6"/>
<ellipse cx="419.0" cy="380.2" rx="12.7" ry="10.3" transform="rotate(93 419.0 380.2)" fill="#8a7400" opacity="0.6"/>
<ellipse cx="448.5" cy="374.3" rx="17.0" ry="10.0" transform="rotate(97 448.5 374.3)" fill="#8a7400" opacity="0.6"/>
<ellipse cx="472.0" cy="376.3" rx="17.8" ry="10.1" transform="rotate(115 472.0 376.3)" fill="#8a7400" opacity="0.6"/>
<ellipse cx="399.3" cy="401.8" rx="18.6" ry="8.8" transform="rotate(74 399.3 401.8)" fill="#8a7400" opacity="0.6"/>
<ellipse cx="411.1" cy="417.6" rx="14.7" ry="11.1" transform="rotate(123 411.1 417.6)" fill="#8a7400" opacity="0.6"/>
<ellipse cx="454.4" cy="419.5" rx="18.9" ry="9.4" transform="rotate(22 454.4 419.5)" fill="#8a7400" opacity="0.6"/>
<ellipse cx="493.6" cy="366.5" rx="13.9" ry="9.6" transform="rotate(10 493.6 366.5)" fill="#8a7400" opacity="0.6"/>
<ellipse cx="517.2" cy="358.6" rx="14.9" ry="9.7" transform="rotate(2 517.2 358.6)" fill="#8a7400" opacity="0.6"/>
<ellipse cx="525.1" cy="335.0" rx="14.5" ry="9.1" transform="rotate(126 525.1 335.0)" fill="#8a7400" opacity="0.6"/>
<ellipse cx="501.5" cy="386.1" rx="17.2" ry="11.8" transform="rotate(40 501.5 386.1)" fill="#8a7400" opacity="0.6"/>
<ellipse cx="481.9" cy="335.0" rx="13.5" ry="11.2" transform="rotate(95 481.9 335.0)" fill="#8a7400" opacity="0.6"/>
<ellipse cx="102.7" cy="427.4" rx="13.5" ry="8.5" transform="rotate(71 102.7 427.4)" fill="#8a7400" opacity="0.6"/>
<ellipse cx="297.2" cy="427.4" rx="17.7" ry="10.5" transform="rotate(140 297.2 427.4)" fill="#8a7400" opacity="0.6"/>
<ellipse cx="122.3" cy="164.1" rx="9" ry="12" transform="rotate(84 122.3 164.1)" fill="#d86a88" opacity="0.95"/>
<ellipse cx="287.4" cy="154.3" rx="9" ry="12" transform="rotate(101 287.4 154.3)" fill="#d86a88" opacity="0.95"/>
<ellipse cx="452.4" cy="99.3" rx="9" ry="12" transform="rotate(41 452.4 99.3)" fill="#d86a88" opacity="0.95"/>
<ellipse cx="474.0" cy="183.8" rx="9" ry="12" transform="rotate(173 474.0 183.8)" fill="#d86a88" opacity="0.95"/>
<ellipse cx="198.9" cy="248.6" rx="9" ry="12" transform="rotate(64 198.9 248.6)" fill="#d86a88" opacity="0.95"/>
<ellipse cx="309.0" cy="264.3" rx="9" ry="12" transform="rotate(115 309.0 264.3)" fill="#d86a88" opacity="0.95"/>
<ellipse cx="132.2" cy="370.4" rx="9" ry="12" transform="rotate(147 132.2 370.4)" fill="#d86a88" opacity="0.95"/>
<ellipse cx="244.1" cy="217.2" rx="9" ry="12" transform="rotate(147 244.1 217.2)" fill="#d86a88" opacity="0.95"/>
<ellipse cx="283.4" cy="244.7" rx="9" ry="12" transform="rotate(84 283.4 244.7)" fill="#d86a88" opacity="0.95"/>
<ellipse cx="422.9" cy="111.1" rx="9" ry="12" transform="rotate(53 422.9 111.1)" fill="#d86a88" opacity="0.95"/>
<circle cx="371.8" cy="238.8" r="15" fill="#f4d8c8" opacity="0.85"/>
<circle cx="470.1" cy="244.7" r="11" fill="#c8b0e0" opacity="0.85"/>
<circle cx="513.3" cy="362.6" r="14" fill="#e06080" opacity="0.85"/>
<circle cx="432.7" cy="175.9" r="10" fill="#c0a0d8" opacity="0.85"/>
<circle cx="265.7" cy="170.0" r="9" fill="#e0b0d0" opacity="0.85"/>
<circle cx="525.1" cy="229.0" r="7" fill="#c8a8e0" opacity="0.85"/>
<circle cx="499.5" cy="299.7" r="7" fill="#a0c0f0" opacity="0.85"/>
</g>
<g filter="url(#bA3)">
<circle cx="158.2" cy="78.0" r="1.6" fill="#e8d400" opacity="0.66"/>
<circle cx="169.4" cy="74.6" r="1.1" fill="#e8d400" opacity="0.61"/>
<circle cx="158.2" cy="82.3" r="0.8" fill="#e8d400" opacity="0.82"/>
<circle cx="221.0" cy="87.7" r="1.1" fill="#e8d400" opacity="0.72"/>
<circle cx="213.1" cy="85.2" r="1.4" fill="#e8d400" opacity="0.66"/>
<circle cx="233.3" cy="77.5" r="0.9" fill="#e8d400" opacity="0.87"/>
<circle cx="200.6" cy="92.2" r="0.9" fill="#e8d400" opacity="0.87"/>
<circle cx="187.0" cy="93.7" r="0.8" fill="#e8d400" opacity="0.93"/>
<circle cx="186.8" cy="92.2" r="0.9" fill="#e8d400" opacity="0.56"/>
<circle cx="144.3" cy="108.4" r="1.1" fill="#e8d400" opacity="0.57"/>
<circle cx="152.7" cy="94.1" r="1.0" fill="#e8d400" opacity="0.90"/>
<circle cx="134.2" cy="93.5" r="1.4" fill="#e8d400" opacity="0.90"/>
<circle cx="243.0" cy="92.0" r="1.0" fill="#e8d400" opacity="0.81"/>
<circle cx="229.2" cy="99.5" r="1.2" fill="#e8d400" opacity="0.90"/>
<circle cx="232.8" cy="99.1" r="1.0" fill="#e8d400" opacity="0.56"/>
<circle cx="227.9" cy="119.2" r="1.2" fill="#e8d400" opacity="0.56"/>
<circle cx="224.8" cy="119.4" r="1.3" fill="#e8d400" opacity="0.89"/>
<circle cx="246.2" cy="119.3" r="1.2" fill="#e8d400" opacity="0.75"/>
<circle cx="282.5" cy="91.1" r="1.1" fill="#e8d400" opacity="0.69"/>
<circle cx="294.9" cy="98.0" r="1.4" fill="#e8d400" opacity="0.79"/>
<circle cx="298.6" cy="100.8" r="1.4" fill="#e8d400" opacity="0.92"/>
<circle cx="292.9" cy="78.8" r="1.3" fill="#e8d400" opacity="0.72"/>
<circle cx="304.1" cy="66.8" r="1.4" fill="#e8d400" opacity="0.78"/>
<circle cx="292.8" cy="78.0" r="1.1" fill="#e8d400" opacity="0.71"/>
<circle cx="293.8" cy="90.0" r="1.0" fill="#e8d400" opacity="0.70"/>
<circle cx="296.3" cy="95.1" r="1.5" fill="#e8d400" opacity="0.63"/>
<circle cx="309.2" cy="85.2" r="1.3" fill="#e8d400" opacity="0.62"/>
<circle cx="323.7" cy="83.2" r="1.4" fill="#e8d400" opacity="0.86"/>
<circle cx="332.5" cy="89.3" r="1.1" fill="#e8d400" opacity="0.76"/>
<circle cx="328.9" cy="76.7" r="0.8" fill="#e8d400" opacity="0.83"/>
<circle cx="326.2" cy="113.8" r="0.8" fill="#e8d400" opacity="0.64"/>
<circle cx="326.1" cy="119.2" r="1.6" fill="#e8d400" opacity="0.77"/>
<circle cx="312.5" cy="111.2" r="1.6" fill="#e8d400" opacity="0.78"/>
<circle cx="370.0" cy="103.6" r="1.4" fill="#e8d400" opacity="0.77"/>
<circle cx="374.6" cy="103.7" r="1.4" fill="#e8d400" opacity="0.71"/>
<circle cx="378.3" cy="103.8" r="1.0" fill="#e8d400" opacity="0.52"/>
<circle cx="399.3" cy="91.5" r="1.4" fill="#e8d400" opacity="0.67"/>
<circle cx="402.4" cy="93.0" r="1.3" fill="#e8d400" opacity="0.62"/>
<circle cx="394.5" cy="108.0" r="1.1" fill="#e8d400" opacity="0.69"/>
<circle cx="407.2" cy="71.8" r="0.8" fill="#e8d400" opacity="0.76"/>
<circle cx="421.7" cy="81.0" r="1.5" fill="#e8d400" opacity="0.76"/>
<circle cx="423.0" cy="76.1" r="0.8" fill="#e8d400" opacity="0.67"/>
<circle cx="420.3" cy="70.2" r="1.7" fill="#e8d400" opacity="0.71"/>
<circle cx="425.1" cy="78.5" r="1.4" fill="#e8d400" opacity="0.60"/>
<circle cx="434.3" cy="79.7" r="0.8" fill="#e8d400" opacity="0.81"/>
<circle cx="432.1" cy="118.1" r="0.9" fill="#e8d400" opacity="0.89"/>
<circle cx="427.1" cy="114.6" r="1.4" fill="#e8d400" opacity="0.61"/>
<circle cx="422.2" cy="105.3" r="0.8" fill="#e8d400" opacity="0.85"/>
<circle cx="449.7" cy="90.0" r="1.5" fill="#e8d400" opacity="0.54"/>
<circle cx="444.8" cy="93.0" r="1.2" fill="#e8d400" opacity="0.92"/>
<circle cx="452.1" cy="109.5" r="1.4" fill="#e8d400" opacity="0.51"/>
<circle cx="478.6" cy="70.6" r="1.5" fill="#e8d400" opacity="0.54"/>
<circle cx="463.9" cy="78.1" r="0.9" fill="#e8d400" opacity="0.89"/>
<circle cx="461.7" cy="70.3" r="1.1" fill="#e8d400" opacity="0.76"/>
<circle cx="468.0" cy="86.8" r="0.9" fill="#e8d400" opacity="0.86"/>
<circle cx="471.1" cy="89.9" r="1.4" fill="#e8d400" opacity="0.69"/>
<circle cx="469.3" cy="89.6" r="1.7" fill="#e8d400" opacity="0.85"/>
<circle cx="521.7" cy="96.7" r="0.9" fill="#e8d400" opacity="0.94"/>
<circle cx="525.6" cy="90.3" r="1.1" fill="#e8d400" opacity="0.77"/>
<circle cx="540.7" cy="98.0" r="1.3" fill="#e8d400" opacity="0.64"/>
<circle cx="500.3" cy="123.2" r="1.1" fill="#e8d400" opacity="0.81"/>
<circle cx="501.5" cy="113.1" r="1.5" fill="#e8d400" opacity="0.63"/>
<circle cx="519.2" cy="119.0" r="1.2" fill="#e8d400" opacity="0.76"/>
<circle cx="129.2" cy="123.7" r="0.8" fill="#e8d400" opacity="0.87"/>
<circle cx="128.9" cy="123.8" r="1.3" fill="#e8d400" opacity="0.62"/>
<circle cx="131.2" cy="125.2" r="1.4" fill="#e8d400" opacity="0.91"/>
<circle cx="134.3" cy="144.9" r="1.3" fill="#e8d400" opacity="0.86"/>
<circle cx="141.5" cy="149.1" r="1.6" fill="#e8d400" opacity="0.61"/>
<circle cx="129.6" cy="135.2" r="1.2" fill="#e8d400" opacity="0.59"/>
<circle cx="151.5" cy="161.3" r="1.5" fill="#e8d400" opacity="0.71"/>
<circle cx="161.7" cy="157.2" r="1.5" fill="#e8d400" opacity="0.60"/>
<circle cx="141.0" cy="147.6" r="1.6" fill="#e8d400" opacity="0.73"/>
<circle cx="169.3" cy="131.9" r="1.0" fill="#e8d400" opacity="0.59"/>
<circle cx="183.9" cy="138.6" r="1.1" fill="#e8d400" opacity="0.75"/>
<circle cx="171.4" cy="135.2" r="0.9" fill="#e8d400" opacity="0.52"/>
<circle cx="223.3" cy="128.6" r="0.9" fill="#e8d400" opacity="0.78"/>
<circle cx="216.3" cy="123.2" r="1.3" fill="#e8d400" opacity="0.66"/>
<circle cx="208.6" cy="128.2" r="0.8" fill="#e8d400" opacity="0.95"/>
<circle cx="105.0" cy="150.7" r="1.3" fill="#e8d400" opacity="0.62"/>
<circle cx="100.4" cy="149.2" r="1.7" fill="#e8d400" opacity="0.85"/>
<circle cx="104.1" cy="147.0" r="1.0" fill="#e8d400" opacity="0.52"/>
<circle cx="124.5" cy="169.7" r="0.9" fill="#e8d400" opacity="0.52"/>
<circle cx="111.0" cy="160.7" r="1.2" fill="#e8d400" opacity="0.93"/>
<circle cx="127.8" cy="161.4" r="1.3" fill="#e8d400" opacity="0.68"/>
<circle cx="184.6" cy="175.0" r="1.0" fill="#e8d400" opacity="0.75"/>
<circle cx="167.3" cy="160.2" r="1.4" fill="#e8d400" opacity="0.68"/>
<circle cx="168.6" cy="169.9" r="1.7" fill="#e8d400" opacity="0.95"/>
<circle cx="174.5" cy="186.7" r="1.0" fill="#e8d400" opacity="0.66"/>
<circle cx="183.5" cy="176.1" r="1.6" fill="#e8d400" opacity="0.52"/>
<circle cx="175.9" cy="173.3" r="1.4" fill="#e8d400" opacity="0.94"/>
<circle cx="215.4" cy="171.9" r="1.5" fill="#e8d400" opacity="0.92"/>
<circle cx="205.2" cy="164.2" r="1.3" fill="#e8d400" opacity="0.84"/>
<circle cx="215.3" cy="174.1" r="1.0" fill="#e8d400" opacity="0.56"/>
<circle cx="246.8" cy="153.0" r="1.0" fill="#e8d400" opacity="0.56"/>
<circle cx="251.3" cy="148.0" r="1.4" fill="#e8d400" opacity="0.59"/>
<circle cx="266.1" cy="154.6" r="1.0" fill="#e8d400" opacity="0.92"/>
<circle cx="287.7" cy="133.3" r="0.9" fill="#e8d400" opacity="0.70"/>
<circle cx="289.8" cy="146.3" r="1.6" fill="#e8d400" opacity="0.78"/>
<circle cx="271.5" cy="142.5" r="1.5" fill="#e8d400" opacity="0.71"/>
<circle cx="282.5" cy="150.3" r="1.0" fill="#e8d400" opacity="0.53"/>
<circle cx="285.1" cy="146.6" r="0.9" fill="#e8d400" opacity="0.89"/>
<circle cx="286.4" cy="161.4" r="0.9" fill="#e8d400" opacity="0.62"/>
<circle cx="270.2" cy="164.4" r="1.0" fill="#e8d400" opacity="0.72"/>
<circle cx="260.6" cy="179.0" r="0.9" fill="#e8d400" opacity="0.94"/>
<circle cx="277.2" cy="173.5" r="1.4" fill="#e8d400" opacity="0.60"/>
<circle cx="312.8" cy="159.1" r="1.0" fill="#e8d400" opacity="0.59"/>
<circle cx="312.2" cy="166.0" r="1.7" fill="#e8d400" opacity="0.92"/>
<circle cx="327.3" cy="161.9" r="1.6" fill="#e8d400" opacity="0.53"/>
<circle cx="343.1" cy="155.8" r="1.7" fill="#e8d400" opacity="0.51"/>
<circle cx="347.3" cy="155.9" r="0.9" fill="#e8d400" opacity="0.50"/>
<circle cx="349.1" cy="155.4" r="1.0" fill="#e8d400" opacity="0.70"/>
<circle cx="380.2" cy="135.4" r="1.3" fill="#e8d400" opacity="0.56"/>
<circle cx="378.6" cy="146.8" r="1.4" fill="#e8d400" opacity="0.59"/>
<circle cx="379.6" cy="141.1" r="1.3" fill="#e8d400" opacity="0.72"/>
<circle cx="413.9" cy="148.4" r="1.4" fill="#e8d400" opacity="0.82"/>
<circle cx="418.9" cy="135.0" r="1.0" fill="#e8d400" opacity="0.53"/>
<circle cx="414.1" cy="135.5" r="1.4" fill="#e8d400" opacity="0.52"/>
<circle cx="461.4" cy="122.6" r="1.6" fill="#e8d400" opacity="0.89"/>
<circle cx="452.2" cy="129.0" r="1.6" fill="#e8d400" opacity="0.71"/>
<circle cx="463.7" cy="124.2" r="1.0" fill="#e8d400" opacity="0.87"/>
<circle cx="469.2" cy="146.8" r="1.1" fill="#e8d400" opacity="0.77"/>
<circle cx="483.6" cy="142.7" r="1.2" fill="#e8d400" opacity="0.73"/>
<circle cx="482.0" cy="148.6" r="1.5" fill="#e8d400" opacity="0.89"/>
<circle cx="418.2" cy="177.9" r="1.1" fill="#e8d400" opacity="0.84"/>
<circle cx="434.1" cy="173.7" r="1.7" fill="#e8d400" opacity="0.72"/>
<circle cx="413.2" cy="169.4" r="1.3" fill="#e8d400" opacity="0.51"/>
<circle cx="440.1" cy="176.6" r="1.0" fill="#e8d400" opacity="0.55"/>
<circle cx="432.7" cy="187.3" r="0.8" fill="#e8d400" opacity="0.54"/>
<circle cx="430.4" cy="172.3" r="0.8" fill="#e8d400" opacity="0.77"/>
<circle cx="483.1" cy="160.6" r="1.4" fill="#e8d400" opacity="0.55"/>
<circle cx="499.2" cy="157.7" r="0.8" fill="#e8d400" opacity="0.56"/>
<circle cx="482.2" cy="164.4" r="1.1" fill="#e8d400" opacity="0.55"/>
<circle cx="468.2" cy="186.9" r="1.3" fill="#e8d400" opacity="0.89"/>
<circle cx="480.0" cy="190.2" r="1.5" fill="#e8d400" opacity="0.57"/>
<circle cx="479.8" cy="174.8" r="1.1" fill="#e8d400" opacity="0.69"/>
<circle cx="522.4" cy="179.2" r="1.2" fill="#e8d400" opacity="0.92"/>
<circle cx="518.6" cy="179.1" r="1.0" fill="#e8d400" opacity="0.65"/>
<circle cx="505.4" cy="189.8" r="1.5" fill="#e8d400" opacity="0.91"/>
<circle cx="186.0" cy="194.7" r="0.8" fill="#e8d400" opacity="0.73"/>
<circle cx="193.4" cy="200.8" r="1.0" fill="#e8d400" opacity="0.69"/>
<circle cx="175.5" cy="198.4" r="1.3" fill="#e8d400" opacity="0.53"/>
<circle cx="215.8" cy="214.4" r="0.8" fill="#e8d400" opacity="0.56"/>
<circle cx="235.7" cy="209.5" r="1.6" fill="#e8d400" opacity="0.78"/>
<circle cx="228.9" cy="202.2" r="1.6" fill="#e8d400" opacity="0.52"/>
<circle cx="239.2" cy="212.3" r="1.4" fill="#e8d400" opacity="0.62"/>
<circle cx="232.1" cy="214.6" r="1.4" fill="#e8d400" opacity="0.61"/>
<circle cx="235.2" cy="216.3" r="1.7" fill="#e8d400" opacity="0.63"/>
<circle cx="270.0" cy="219.2" r="0.9" fill="#e8d400" opacity="0.77"/>
<circle cx="282.8" cy="209.2" r="1.0" fill="#e8d400" opacity="0.71"/>
<circle cx="266.7" cy="210.1" r="0.9" fill="#e8d400" opacity="0.56"/>
<circle cx="290.9" cy="194.5" r="1.1" fill="#e8d400" opacity="0.61"/>
<circle cx="301.6" cy="191.8" r="1.6" fill="#e8d400" opacity="0.77"/>
<circle cx="283.7" cy="184.1" r="1.0" fill="#e8d400" opacity="0.82"/>
<circle cx="328.9" cy="191.6" r="1.4" fill="#e8d400" opacity="0.71"/>
<circle cx="335.6" cy="195.4" r="1.0" fill="#e8d400" opacity="0.73"/>
<circle cx="330.9" cy="195.1" r="0.8" fill="#e8d400" opacity="0.66"/>
<circle cx="372.9" cy="179.1" r="1.3" fill="#e8d400" opacity="0.72"/>
<circle cx="365.1" cy="193.9" r="1.1" fill="#e8d400" opacity="0.85"/>
<circle cx="371.4" cy="188.1" r="1.6" fill="#e8d400" opacity="0.70"/>
<circle cx="348.5" cy="213.9" r="1.2" fill="#e8d400" opacity="0.83"/>
<circle cx="346.3" cy="215.1" r="1.7" fill="#e8d400" opacity="0.83"/>
<circle cx="345.1" cy="216.8" r="1.1" fill="#e8d400" opacity="0.80"/>
<circle cx="380.6" cy="204.9" r="1.5" fill="#e8d400" opacity="0.73"/>
<circle cx="388.7" cy="202.3" r="1.5" fill="#e8d400" opacity="0.71"/>
<circle cx="391.9" cy="202.7" r="1.6" fill="#e8d400" opacity="0.56"/>
<circle cx="431.0" cy="203.8" r="1.5" fill="#e8d400" opacity="0.76"/>
<circle cx="414.1" cy="207.5" r="1.3" fill="#e8d400" opacity="0.69"/>
<circle cx="429.4" cy="197.9" r="1.3" fill="#e8d400" opacity="0.67"/>
<circle cx="443.6" cy="215.4" r="1.5" fill="#e8d400" opacity="0.63"/>
<circle cx="444.7" cy="218.3" r="1.1" fill="#e8d400" opacity="0.64"/>
<circle cx="455.1" cy="203.9" r="1.2" fill="#e8d400" opacity="0.70"/>
<circle cx="498.9" cy="225.1" r="0.9" fill="#e8d400" opacity="0.76"/>
<circle cx="489.8" cy="216.5" r="1.6" fill="#e8d400" opacity="0.65"/>
<circle cx="502.2" cy="211.2" r="1.7" fill="#e8d400" opacity="0.59"/>
<circle cx="433.5" cy="235.3" r="0.8" fill="#e8d400" opacity="0.52"/>
<circle cx="435.8" cy="227.9" r="1.6" fill="#e8d400" opacity="0.85"/>
<circle cx="431.9" cy="228.4" r="1.3" fill="#e8d400" opacity="0.73"/>
<circle cx="517.7" cy="220.6" r="1.1" fill="#e8d400" opacity="0.77"/>
<circle cx="513.7" cy="235.1" r="1.4" fill="#e8d400" opacity="0.74"/>
<circle cx="528.2" cy="231.0" r="1.2" fill="#e8d400" opacity="0.75"/>
<circle cx="164.5" cy="234.4" r="1.7" fill="#e8d400" opacity="0.72"/>
<circle cx="165.7" cy="241.8" r="1.7" fill="#e8d400" opacity="0.65"/>
<circle cx="163.9" cy="237.0" r="1.0" fill="#e8d400" opacity="0.64"/>
<circle cx="210.6" cy="247.3" r="1.3" fill="#e8d400" opacity="0.55"/>
<circle cx="207.5" cy="243.3" r="1.5" fill="#e8d400" opacity="0.95"/>
<circle cx="205.8" cy="244.0" r="0.9" fill="#e8d400" opacity="0.63"/>
<circle cx="209.1" cy="250.0" r="1.0" fill="#e8d400" opacity="0.58"/>
<circle cx="211.6" cy="244.6" r="1.1" fill="#e8d400" opacity="0.95"/>
<circle cx="214.5" cy="246.8" r="1.2" fill="#e8d400" opacity="0.85"/>
<circle cx="234.5" cy="256.7" r="0.8" fill="#e8d400" opacity="0.64"/>
<circle cx="243.8" cy="241.8" r="1.4" fill="#e8d400" opacity="0.59"/>
<circle cx="228.4" cy="248.7" r="1.0" fill="#e8d400" opacity="0.79"/>
<circle cx="270.7" cy="242.6" r="1.3" fill="#e8d400" opacity="0.68"/>
<circle cx="288.6" cy="248.6" r="1.5" fill="#e8d400" opacity="0.55"/>
<circle cx="289.2" cy="248.1" r="1.3" fill="#e8d400" opacity="0.87"/>
<circle cx="306.0" cy="236.6" r="0.9" fill="#e8d400" opacity="0.51"/>
<circle cx="315.9" cy="236.2" r="1.4" fill="#e8d400" opacity="0.66"/>
<circle cx="318.7" cy="248.2" r="0.9" fill="#e8d400" opacity="0.91"/>
<circle cx="301.6" cy="261.0" r="1.2" fill="#e8d400" opacity="0.67"/>
<circle cx="320.5" cy="267.6" r="1.3" fill="#e8d400" opacity="0.93"/>
<circle cx="299.4" cy="267.4" r="1.0" fill="#e8d400" opacity="0.52"/>
<circle cx="101.8" cy="248.5" r="1.1" fill="#e8d400" opacity="0.90"/>
<circle cx="94.2" cy="246.6" r="1.3" fill="#e8d400" opacity="0.93"/>
<circle cx="78.3" cy="252.8" r="1.0" fill="#e8d400" opacity="0.68"/>
<circle cx="107.1" cy="264.3" r="1.1" fill="#e8d400" opacity="0.89"/>
<circle cx="97.1" cy="271.1" r="1.0" fill="#e8d400" opacity="0.58"/>
<circle cx="104.0" cy="274.8" r="1.7" fill="#e8d400" opacity="0.63"/>
<circle cx="365.5" cy="236.7" r="1.3" fill="#e8d400" opacity="0.67"/>
<circle cx="366.5" cy="241.7" r="0.9" fill="#e8d400" opacity="0.87"/>
<circle cx="367.3" cy="243.7" r="1.0" fill="#e8d400" opacity="0.63"/>
<circle cx="470.6" cy="249.7" r="1.4" fill="#e8d400" opacity="0.65"/>
<circle cx="476.2" cy="251.9" r="0.9" fill="#e8d400" opacity="0.62"/>
<circle cx="473.6" cy="239.9" r="1.2" fill="#e8d400" opacity="0.88"/>
<circle cx="513.7" cy="243.2" r="1.1" fill="#e8d400" opacity="0.83"/>
<circle cx="502.2" cy="255.7" r="1.0" fill="#e8d400" opacity="0.93"/>
<circle cx="503.7" cy="248.4" r="1.2" fill="#e8d400" opacity="0.56"/>
<circle cx="422.8" cy="262.2" r="1.6" fill="#e8d400" opacity="0.76"/>
<circle cx="419.7" cy="272.8" r="1.3" fill="#e8d400" opacity="0.60"/>
<circle cx="429.7" cy="264.3" r="1.3" fill="#e8d400" opacity="0.74"/>
<circle cx="476.5" cy="281.2" r="1.1" fill="#e8d400" opacity="0.80"/>
<circle cx="470.5" cy="269.5" r="1.2" fill="#e8d400" opacity="0.54"/>
<circle cx="483.2" cy="280.8" r="1.1" fill="#e8d400" opacity="0.80"/>
<circle cx="356.0" cy="277.2" r="1.1" fill="#e8d400" opacity="0.73"/>
<circle cx="346.4" cy="277.1" r="1.1" fill="#e8d400" opacity="0.60"/>
<circle cx="356.0" cy="278.5" r="1.1" fill="#e8d400" opacity="0.68"/>
<circle cx="277.3" cy="267.2" r="1.6" fill="#e8d400" opacity="0.89"/>
<circle cx="273.1" cy="276.9" r="0.8" fill="#e8d400" opacity="0.81"/>
<circle cx="263.3" cy="266.4" r="1.2" fill="#e8d400" opacity="0.80"/>
<circle cx="237.8" cy="266.3" r="1.6" fill="#e8d400" opacity="0.66"/>
<circle cx="235.2" cy="268.0" r="0.9" fill="#e8d400" opacity="0.91"/>
<circle cx="239.1" cy="263.4" r="0.8" fill="#e8d400" opacity="0.52"/>
<circle cx="167.5" cy="273.3" r="1.1" fill="#e8d400" opacity="0.67"/>
<circle cx="171.5" cy="269.8" r="1.4" fill="#e8d400" opacity="0.58"/>
<circle cx="168.9" cy="261.5" r="1.4" fill="#e8d400" opacity="0.61"/>
<circle cx="175.3" cy="285.4" r="1.1" fill="#e8d400" opacity="0.50"/>
<circle cx="191.0" cy="274.1" r="1.1" fill="#e8d400" opacity="0.52"/>
<circle cx="191.4" cy="275.5" r="0.8" fill="#e8d400" opacity="0.61"/>
<circle cx="209.8" cy="291.9" r="1.0" fill="#e8d400" opacity="0.91"/>
<circle cx="200.9" cy="280.7" r="1.4" fill="#e8d400" opacity="0.68"/>
<circle cx="200.7" cy="276.5" r="1.1" fill="#e8d400" opacity="0.54"/>
<circle cx="250.6" cy="287.5" r="1.6" fill="#e8d400" opacity="0.81"/>
<circle cx="241.3" cy="280.4" r="1.4" fill="#e8d400" opacity="0.70"/>
<circle cx="252.4" cy="292.8" r="1.2" fill="#e8d400" opacity="0.73"/>
<circle cx="122.6" cy="295.3" r="1.5" fill="#e8d400" opacity="0.52"/>
<circle cx="113.0" cy="288.8" r="1.0" fill="#e8d400" opacity="0.75"/>
<circle cx="126.7" cy="296.1" r="1.3" fill="#e8d400" opacity="0.61"/>
<circle cx="146.0" cy="302.2" r="1.2" fill="#e8d400" opacity="0.59"/>
<circle cx="135.5" cy="304.9" r="1.4" fill="#e8d400" opacity="0.80"/>
<circle cx="138.6" cy="305.8" r="1.3" fill="#e8d400" opacity="0.70"/>
<circle cx="177.3" cy="299.0" r="1.1" fill="#e8d400" opacity="0.90"/>
<circle cx="175.7" cy="307.8" r="1.1" fill="#e8d400" opacity="0.87"/>
<circle cx="158.7" cy="298.9" r="1.0" fill="#e8d400" opacity="0.80"/>
<circle cx="181.6" cy="299.3" r="1.5" fill="#e8d400" opacity="0.87"/>
<circle cx="195.2" cy="307.8" r="1.1" fill="#e8d400" opacity="0.59"/>
<circle cx="196.5" cy="306.0" r="1.0" fill="#e8d400" opacity="0.82"/>
<circle cx="208.2" cy="301.4" r="1.1" fill="#e8d400" opacity="0.71"/>
<circle cx="210.0" cy="304.0" r="0.9" fill="#e8d400" opacity="0.50"/>
<circle cx="225.9" cy="299.2" r="0.9" fill="#e8d400" opacity="0.82"/>
<circle cx="149.9" cy="310.5" r="0.9" fill="#e8d400" opacity="0.72"/>
<circle cx="133.3" cy="313.8" r="1.3" fill="#e8d400" opacity="0.50"/>
<circle cx="149.2" cy="307.4" r="1.4" fill="#e8d400" opacity="0.92"/>
<circle cx="96.3" cy="314.3" r="1.0" fill="#e8d400" opacity="0.56"/>
<circle cx="112.0" cy="320.9" r="1.6" fill="#e8d400" opacity="0.63"/>
<circle cx="104.8" cy="327.0" r="1.6" fill="#e8d400" opacity="0.92"/>
<circle cx="277.3" cy="319.5" r="1.5" fill="#e8d400" opacity="0.83"/>
<circle cx="268.3" cy="316.6" r="1.5" fill="#e8d400" opacity="0.64"/>
<circle cx="265.0" cy="317.3" r="1.1" fill="#e8d400" opacity="0.87"/>
<circle cx="293.7" cy="320.4" r="1.3" fill="#e8d400" opacity="0.78"/>
<circle cx="297.9" cy="307.5" r="1.6" fill="#e8d400" opacity="0.93"/>
<circle cx="283.8" cy="315.7" r="0.9" fill="#e8d400" opacity="0.63"/>
<circle cx="332.7" cy="295.2" r="1.4" fill="#e8d400" opacity="0.57"/>
<circle cx="326.5" cy="301.3" r="0.9" fill="#e8d400" opacity="0.52"/>
<circle cx="331.6" cy="299.9" r="1.5" fill="#e8d400" opacity="0.50"/>
<circle cx="382.2" cy="277.9" r="1.5" fill="#e8d400" opacity="0.69"/>
<circle cx="373.6" cy="294.3" r="1.3" fill="#e8d400" opacity="0.69"/>
<circle cx="371.0" cy="292.1" r="1.4" fill="#e8d400" opacity="0.87"/>
<circle cx="383.6" cy="316.1" r="1.1" fill="#e8d400" opacity="0.70"/>
<circle cx="370.0" cy="316.7" r="1.0" fill="#e8d400" opacity="0.54"/>
<circle cx="373.6" cy="325.9" r="1.7" fill="#e8d400" opacity="0.91"/>
<circle cx="425.5" cy="315.6" r="1.7" fill="#e8d400" opacity="0.78"/>
<circle cx="419.4" cy="318.5" r="1.4" fill="#e8d400" opacity="0.77"/>
<circle cx="414.1" cy="330.9" r="1.7" fill="#e8d400" opacity="0.72"/>
<circle cx="445.6" cy="292.5" r="1.1" fill="#e8d400" opacity="0.90"/>
<circle cx="457.6" cy="298.7" r="1.4" fill="#e8d400" opacity="0.70"/>
<circle cx="459.6" cy="302.1" r="1.1" fill="#e8d400" opacity="0.76"/>
<circle cx="471.5" cy="295.7" r="1.3" fill="#e8d400" opacity="0.68"/>
<circle cx="485.4" cy="295.6" r="1.6" fill="#e8d400" opacity="0.75"/>
<circle cx="489.1" cy="298.1" r="1.0" fill="#e8d400" opacity="0.54"/>
<circle cx="397.6" cy="304.4" r="1.2" fill="#e8d400" opacity="0.75"/>
<circle cx="406.7" cy="313.5" r="0.9" fill="#e8d400" opacity="0.73"/>
<circle cx="399.7" cy="302.8" r="1.2" fill="#e8d400" opacity="0.53"/>
<circle cx="510.0" cy="289.5" r="1.3" fill="#e8d400" opacity="0.82"/>
<circle cx="521.4" cy="280.5" r="1.7" fill="#e8d400" opacity="0.82"/>
<circle cx="530.6" cy="291.6" r="1.2" fill="#e8d400" opacity="0.58"/>
<circle cx="507.2" cy="309.5" r="1.5" fill="#e8d400" opacity="0.56"/>
<circle cx="498.6" cy="306.4" r="1.0" fill="#e8d400" opacity="0.67"/>
<circle cx="507.7" cy="312.2" r="1.0" fill="#e8d400" opacity="0.63"/>
<circle cx="516.8" cy="308.5" r="1.6" fill="#e8d400" opacity="0.78"/>
<circle cx="526.1" cy="309.7" r="1.6" fill="#e8d400" opacity="0.89"/>
<circle cx="524.7" cy="323.2" r="1.1" fill="#e8d400" opacity="0.84"/>
<circle cx="201.8" cy="312.8" r="0.9" fill="#e8d400" opacity="0.67"/>
<circle cx="205.8" cy="311.2" r="1.4" fill="#e8d400" opacity="0.52"/>
<circle cx="201.5" cy="318.0" r="1.3" fill="#e8d400" opacity="0.86"/>
<circle cx="261.5" cy="329.8" r="1.4" fill="#e8d400" opacity="0.61"/>
<circle cx="255.2" cy="330.1" r="1.6" fill="#e8d400" opacity="0.76"/>
<circle cx="256.6" cy="326.5" r="0.9" fill="#e8d400" opacity="0.86"/>
<circle cx="283.4" cy="344.3" r="1.1" fill="#e8d400" opacity="0.81"/>
<circle cx="274.4" cy="340.8" r="1.6" fill="#e8d400" opacity="0.74"/>
<circle cx="275.2" cy="328.4" r="1.7" fill="#e8d400" opacity="0.51"/>
<circle cx="305.1" cy="341.7" r="1.3" fill="#e8d400" opacity="0.89"/>
<circle cx="310.9" cy="332.3" r="1.0" fill="#e8d400" opacity="0.87"/>
<circle cx="305.2" cy="330.7" r="1.2" fill="#e8d400" opacity="0.57"/>
<circle cx="329.6" cy="331.2" r="1.6" fill="#e8d400" opacity="0.77"/>
<circle cx="332.1" cy="340.1" r="1.0" fill="#e8d400" opacity="0.90"/>
<circle cx="319.3" cy="334.3" r="1.0" fill="#e8d400" opacity="0.66"/>
<circle cx="212.7" cy="350.4" r="1.1" fill="#e8d400" opacity="0.66"/>
<circle cx="232.6" cy="349.1" r="1.1" fill="#e8d400" opacity="0.51"/>
<circle cx="210.0" cy="351.4" r="0.8" fill="#e8d400" opacity="0.57"/>
<circle cx="199.1" cy="349.1" r="1.0" fill="#e8d400" opacity="0.73"/>
<circle cx="202.1" cy="362.7" r="1.3" fill="#e8d400" opacity="0.93"/>
<circle cx="209.1" cy="354.4" r="1.3" fill="#e8d400" opacity="0.85"/>
<circle cx="273.7" cy="346.2" r="1.4" fill="#e8d400" opacity="0.79"/>
<circle cx="260.6" cy="357.6" r="1.5" fill="#e8d400" opacity="0.89"/>
<circle cx="275.7" cy="349.5" r="1.1" fill="#e8d400" opacity="0.84"/>
<circle cx="235.6" cy="353.0" r="1.4" fill="#e8d400" opacity="0.66"/>
<circle cx="227.9" cy="358.4" r="0.9" fill="#e8d400" opacity="0.65"/>
<circle cx="230.5" cy="369.9" r="1.2" fill="#e8d400" opacity="0.67"/>
<circle cx="362.3" cy="354.9" r="1.1" fill="#e8d400" opacity="0.56"/>
<circle cx="374.1" cy="349.2" r="1.2" fill="#e8d400" opacity="0.70"/>
<circle cx="354.6" cy="346.1" r="1.0" fill="#e8d400" opacity="0.53"/>
<circle cx="457.7" cy="343.2" r="1.5" fill="#e8d400" opacity="0.75"/>
<circle cx="468.0" cy="334.4" r="1.6" fill="#e8d400" opacity="0.76"/>
<circle cx="466.6" cy="339.8" r="1.3" fill="#e8d400" opacity="0.94"/>
<circle cx="500.3" cy="359.9" r="1.2" fill="#e8d400" opacity="0.89"/>
<circle cx="516.0" cy="355.8" r="1.6" fill="#e8d400" opacity="0.62"/>
<circle cx="507.1" cy="357.7" r="0.9" fill="#e8d400" opacity="0.62"/>
<circle cx="397.2" cy="358.7" r="1.2" fill="#e8d400" opacity="0.59"/>
<circle cx="389.7" cy="358.7" r="1.4" fill="#e8d400" opacity="0.59"/>
<circle cx="398.1" cy="354.4" r="1.3" fill="#e8d400" opacity="0.54"/>
<circle cx="130.7" cy="359.4" r="1.1" fill="#e8d400" opacity="0.56"/>
<circle cx="130.0" cy="375.7" r="1.6" fill="#e8d400" opacity="0.79"/>
<circle cx="132.9" cy="365.7" r="1.1" fill="#e8d400" opacity="0.84"/>
<circle cx="132.8" cy="362.8" r="1.4" fill="#e8d400" opacity="0.65"/>
<circle cx="146.4" cy="371.0" r="0.8" fill="#e8d400" opacity="0.78"/>
<circle cx="133.3" cy="375.0" r="1.3" fill="#e8d400" opacity="0.62"/>
<circle cx="248.0" cy="375.5" r="1.6" fill="#e8d400" opacity="0.75"/>
<circle cx="260.3" cy="373.9" r="1.4" fill="#e8d400" opacity="0.83"/>
<circle cx="250.8" cy="379.0" r="0.9" fill="#e8d400" opacity="0.56"/>
<circle cx="299.9" cy="367.1" r="1.5" fill="#e8d400" opacity="0.69"/>
<circle cx="289.3" cy="370.4" r="1.3" fill="#e8d400" opacity="0.80"/>
<circle cx="292.5" cy="368.4" r="1.5" fill="#e8d400" opacity="0.62"/>
<circle cx="267.0" cy="373.4" r="1.5" fill="#e8d400" opacity="0.64"/>
<circle cx="271.5" cy="372.0" r="1.2" fill="#e8d400" opacity="0.63"/>
<circle cx="257.2" cy="380.7" r="0.9" fill="#e8d400" opacity="0.50"/>
<circle cx="182.6" cy="387.4" r="1.5" fill="#e8d400" opacity="0.66"/>
<circle cx="200.6" cy="385.7" r="1.5" fill="#e8d400" opacity="0.54"/>
<circle cx="199.9" cy="387.1" r="0.9" fill="#e8d400" opacity="0.73"/>
<circle cx="150.9" cy="394.0" r="1.6" fill="#e8d400" opacity="0.66"/>
<circle cx="162.0" cy="400.6" r="1.5" fill="#e8d400" opacity="0.91"/>
<circle cx="160.9" cy="400.2" r="1.5" fill="#e8d400" opacity="0.61"/>
<circle cx="112.1" cy="403.0" r="1.4" fill="#e8d400" opacity="0.65"/>
<circle cx="105.6" cy="396.8" r="1.1" fill="#e8d400" opacity="0.91"/>
<circle cx="111.4" cy="409.4" r="0.9" fill="#e8d400" opacity="0.79"/>
<circle cx="189.1" cy="419.2" r="0.9" fill="#e8d400" opacity="0.75"/>
<circle cx="188.5" cy="419.0" r="1.7" fill="#e8d400" opacity="0.78"/>
<circle cx="200.2" cy="419.8" r="1.0" fill="#e8d400" opacity="0.70"/>
<circle cx="225.4" cy="425.4" r="1.5" fill="#e8d400" opacity="0.79"/>
<circle cx="220.6" cy="429.4" r="1.0" fill="#e8d400" opacity="0.76"/>
<circle cx="231.1" cy="427.6" r="1.6" fill="#e8d400" opacity="0.62"/>
<circle cx="267.8" cy="398.3" r="1.1" fill="#e8d400" opacity="0.65"/>
<circle cx="255.5" cy="408.6" r="0.9" fill="#e8d400" opacity="0.81"/>
<circle cx="260.2" cy="403.5" r="1.3" fill="#e8d400" opacity="0.90"/>
<circle cx="290.4" cy="421.1" r="1.1" fill="#e8d400" opacity="0.85"/>
<circle cx="292.1" cy="407.3" r="1.6" fill="#e8d400" opacity="0.95"/>
<circle cx="285.5" cy="416.4" r="0.9" fill="#e8d400" opacity="0.94"/>
<circle cx="325.3" cy="412.3" r="0.9" fill="#e8d400" opacity="0.83"/>
<circle cx="318.8" cy="415.0" r="1.4" fill="#e8d400" opacity="0.54"/>
<circle cx="306.3" cy="420.1" r="1.4" fill="#e8d400" opacity="0.90"/>
<circle cx="336.8" cy="391.4" r="1.0" fill="#e8d400" opacity="0.86"/>
<circle cx="328.3" cy="387.4" r="1.3" fill="#e8d400" opacity="0.60"/>
<circle cx="324.5" cy="394.3" r="0.8" fill="#e8d400" opacity="0.95"/>
<circle cx="349.2" cy="418.6" r="0.9" fill="#e8d400" opacity="0.72"/>
<circle cx="360.1" cy="415.1" r="1.0" fill="#e8d400" opacity="0.81"/>
<circle cx="360.8" cy="416.9" r="1.3" fill="#e8d400" opacity="0.55"/>
<circle cx="374.0" cy="392.2" r="1.6" fill="#e8d400" opacity="0.66"/>
<circle cx="382.5" cy="396.1" r="1.6" fill="#e8d400" opacity="0.83"/>
<circle cx="378.7" cy="391.9" r="1.0" fill="#e8d400" opacity="0.53"/>
<circle cx="428.2" cy="382.3" r="1.2" fill="#e8d400" opacity="0.75"/>
<circle cx="415.0" cy="383.9" r="1.4" fill="#e8d400" opacity="0.79"/>
<circle cx="409.5" cy="378.1" r="1.4" fill="#e8d400" opacity="0.94"/>
<circle cx="456.2" cy="368.1" r="1.2" fill="#e8d400" opacity="0.64"/>
<circle cx="437.3" cy="379.3" r="1.1" fill="#e8d400" opacity="0.67"/>
<circle cx="442.5" cy="377.3" r="1.7" fill="#e8d400" opacity="0.50"/>
<circle cx="462.3" cy="370.0" r="1.0" fill="#e8d400" opacity="0.77"/>
<circle cx="466.5" cy="380.6" r="1.0" fill="#e8d400" opacity="0.55"/>
<circle cx="478.4" cy="368.6" r="1.6" fill="#e8d400" opacity="0.52"/>
<circle cx="396.5" cy="395.6" r="1.4" fill="#e8d400" opacity="0.75"/>
<circle cx="394.2" cy="411.2" r="0.8" fill="#e8d400" opacity="0.84"/>
<circle cx="405.1" cy="395.8" r="1.3" fill="#e8d400" opacity="0.95"/>
<circle cx="412.1" cy="425.8" r="1.5" fill="#e8d400" opacity="0.67"/>
<circle cx="409.1" cy="410.8" r="1.3" fill="#e8d400" opacity="0.78"/>
<circle cx="407.5" cy="411.6" r="1.4" fill="#e8d400" opacity="0.74"/>
<circle cx="456.1" cy="427.6" r="1.0" fill="#e8d400" opacity="0.91"/>
<circle cx="443.5" cy="421.0" r="1.3" fill="#e8d400" opacity="0.71"/>
<circle cx="455.6" cy="425.0" r="1.6" fill="#e8d400" opacity="0.74"/>
<circle cx="484.1" cy="365.3" r="1.5" fill="#e8d400" opacity="0.61"/>
<circle cx="499.2" cy="374.8" r="1.2" fill="#e8d400" opacity="0.79"/>
<circle cx="499.4" cy="357.8" r="1.6" fill="#e8d400" opacity="0.52"/>
<circle cx="508.5" cy="365.0" r="1.5" fill="#e8d400" opacity="0.56"/>
<circle cx="521.6" cy="363.7" r="0.9" fill="#e8d400" opacity="0.66"/>
<circle cx="520.4" cy="351.3" r="1.2" fill="#e8d400" opacity="0.54"/>
<circle cx="514.8" cy="341.4" r="1.4" fill="#e8d400" opacity="0.70"/>
<circle cx="513.6" cy="336.3" r="1.5" fill="#e8d400" opacity="0.57"/>
<circle cx="521.4" cy="328.8" r="1.3" fill="#e8d400" opacity="0.61"/>
<circle cx="495.7" cy="391.0" r="1.1" fill="#e8d400" opacity="0.51"/>
<circle cx="504.5" cy="393.7" r="0.9" fill="#e8d400" opacity="0.58"/>
<circle cx="499.9" cy="379.9" r="1.1" fill="#e8d400" opacity="0.61"/>
<circle cx="485.2" cy="330.5" r="1.4" fill="#e8d400" opacity="0.89"/>
<circle cx="484.5" cy="341.9" r="1.5" fill="#e8d400" opacity="0.78"/>
<circle cx="477.5" cy="338.7" r="1.2" fill="#e8d400" opacity="0.67"/>
<circle cx="100.8" cy="421.1" r="1.2" fill="#e8d400" opacity="0.79"/>
<circle cx="105.8" cy="421.1" r="1.1" fill="#e8d400" opacity="0.76"/>
<circle cx="109.2" cy="424.7" r="1.7" fill="#e8d400" opacity="0.82"/>
<circle cx="289.8" cy="433.5" r="1.1" fill="#e8d400" opacity="0.53"/>
<circle cx="297.5" cy="420.5" r="1.3" fill="#e8d400" opacity="0.72"/>
<circle cx="306.4" cy="422.1" r="0.8" fill="#e8d400" opacity="0.77"/>
</g>
<g filter="url(#bA5)" fill="#070a00" opacity="0.85">
<ellipse cx="120.4" cy="95.4" rx="33.4" ry="29.5" transform="rotate(0 120.4 95.4)"/>
<ellipse cx="124.3" cy="209.3" rx="37.3" ry="27.5" transform="rotate(-20 124.3 209.3)"/>
<ellipse cx="153.8" cy="335.0" rx="45.2" ry="23.6" transform="rotate(0 153.8 335.0)"/>
<ellipse cx="360.0" cy="103.2" rx="21.6" ry="35.4" transform="rotate(10 360.0 103.2)"/>
<ellipse cx="407.2" cy="138.6" rx="21.6" ry="19.6" transform="rotate(0 407.2 138.6)"/>
<ellipse cx="375.8" cy="168.1" rx="21.6" ry="15.7" transform="rotate(0 375.8 168.1)"/>
<ellipse cx="422.9" cy="215.2" rx="15.7" ry="23.6" transform="rotate(0 422.9 215.2)"/>
<ellipse cx="497.6" cy="103.2" rx="19.6" ry="31.4" transform="rotate(0 497.6 103.2)"/>
<ellipse cx="324.7" cy="282.0" rx="19.6" ry="13.8" transform="rotate(-30 324.7 282.0)"/>
<ellipse cx="362.0" cy="319.3" rx="21.6" ry="15.7" transform="rotate(-30 362.0 319.3)"/>
<ellipse cx="442.6" cy="352.7" rx="19.6" ry="17.7" transform="rotate(0 442.6 352.7)"/>
<ellipse cx="214.7" cy="189.7" rx="19.6" ry="11.8" transform="rotate(-40 214.7 189.7)"/>
<ellipse cx="305.0" cy="217.2" rx="13.8" ry="11.8" transform="rotate(0 305.0 217.2)"/>
</g>
<g filter="url(#bA3)">
<ellipse cx="164.8" cy="79.6" rx="7.9" ry="5.5" transform="rotate(83 164.8 79.6)" fill="#2a60f0"/>
<ellipse cx="222.5" cy="81.6" rx="8.4" ry="5.5" transform="rotate(179 222.5 81.6)" fill="#2a2ee0"/>
<ellipse cx="191.1" cy="97.3" rx="8.1" ry="4.8" transform="rotate(88 191.1 97.3)" fill="#3a3ad8"/>
<ellipse cx="143.2" cy="99.3" rx="7.3" ry="4.9" transform="rotate(42 143.2 99.3)" fill="#2a2ee0"/>
<ellipse cx="240.2" cy="101.3" rx="7.1" ry="5.4" transform="rotate(122 240.2 101.3)" fill="#3a3ad8"/>
<ellipse cx="234.3" cy="118.9" rx="6.9" ry="4.9" transform="rotate(83 234.3 118.9)" fill="#2a2ee0"/>
<ellipse cx="288.5" cy="99.3" rx="7.5" ry="6.1" transform="rotate(147 288.5 99.3)" fill="#2a2ee0"/>
<ellipse cx="299.1" cy="69.8" rx="6.5" ry="5.8" transform="rotate(39 299.1 69.8)" fill="#2a60f0"/>
<ellipse cx="305.0" cy="91.4" rx="8.3" ry="5.6" transform="rotate(128 305.0 91.4)" fill="#2a60f0"/>
<ellipse cx="336.5" cy="83.6" rx="6.7" ry="5.4" transform="rotate(135 336.5 83.6)" fill="#3a3ad8"/>
<ellipse cx="318.8" cy="118.9" rx="7.1" ry="5.1" transform="rotate(9 318.8 118.9)" fill="#2a2ee0"/>
<ellipse cx="377.7" cy="109.1" rx="8.6" ry="5.2" transform="rotate(177 377.7 109.1)" fill="#2a2ee0"/>
<ellipse cx="397.4" cy="101.3" rx="7.2" ry="5.8" transform="rotate(47 397.4 101.3)" fill="#3040e8"/>
<ellipse cx="415.1" cy="79.6" rx="7.5" ry="5.4" transform="rotate(54 415.1 79.6)" fill="#2a60f0"/>
<ellipse cx="430.8" cy="75.7" rx="6.9" ry="5.4" transform="rotate(9 430.8 75.7)" fill="#3040e8"/>
<ellipse cx="422.9" cy="111.1" rx="7.0" ry="5.1" transform="rotate(78 422.9 111.1)" fill="#3a3ad8"/>
<ellipse cx="452.4" cy="99.3" rx="7.8" ry="6.2" transform="rotate(9 452.4 99.3)" fill="#3a3ad8"/>
<ellipse cx="468.1" cy="69.8" rx="6.7" ry="6.2" transform="rotate(118 468.1 69.8)" fill="#3a3ad8"/>
<ellipse cx="477.9" cy="83.6" rx="8.4" ry="5.6" transform="rotate(62 477.9 83.6)" fill="#2a60f0"/>
<ellipse cx="529.0" cy="99.3" rx="6.4" ry="4.9" transform="rotate(9 529.0 99.3)" fill="#3040e8"/>
<ellipse cx="511.3" cy="118.9" rx="6.5" ry="5.1" transform="rotate(171 511.3 118.9)" fill="#3040e8"/>
<ellipse cx="124.3" cy="132.7" rx="8.0" ry="6.0" transform="rotate(79 124.3 132.7)" fill="#2a2ee0"/>
<ellipse cx="138.0" cy="140.6" rx="7.3" ry="5.9" transform="rotate(107 138.0 140.6)" fill="#2a60f0"/>
<ellipse cx="151.8" cy="152.3" rx="6.5" ry="5.5" transform="rotate(37 151.8 152.3)" fill="#2a2ee0"/>
<ellipse cx="179.3" cy="130.7" rx="6.7" ry="6.1" transform="rotate(115 179.3 130.7)" fill="#2a2ee0"/>
<ellipse cx="214.7" cy="128.8" rx="6.8" ry="6.2" transform="rotate(147 214.7 128.8)" fill="#2a60f0"/>
<ellipse cx="98.8" cy="156.3" rx="7.5" ry="5.8" transform="rotate(101 98.8 156.3)" fill="#2a2ee0"/>
<ellipse cx="122.3" cy="164.1" rx="8.2" ry="5.6" transform="rotate(121 122.3 164.1)" fill="#3040e8"/>
<ellipse cx="175.4" cy="168.1" rx="7.5" ry="5.5" transform="rotate(29 175.4 168.1)" fill="#2a2ee0"/>
<ellipse cx="173.4" cy="181.8" rx="8.5" ry="5.4" transform="rotate(36 173.4 181.8)" fill="#2a2ee0"/>
<ellipse cx="208.8" cy="170.0" rx="8.0" ry="5.5" transform="rotate(119 208.8 170.0)" fill="#3040e8"/>
<ellipse cx="254.0" cy="152.3" rx="8.4" ry="5.0" transform="rotate(76 254.0 152.3)" fill="#2a2ee0"/>
<ellipse cx="279.5" cy="140.6" rx="7.0" ry="5.1" transform="rotate(29 279.5 140.6)" fill="#2a60f0"/>
<ellipse cx="287.4" cy="154.3" rx="8.0" ry="5.9" transform="rotate(105 287.4 154.3)" fill="#3040e8"/>
<ellipse cx="265.7" cy="170.0" rx="7.1" ry="6.1" transform="rotate(56 265.7 170.0)" fill="#3040e8"/>
<ellipse cx="320.8" cy="158.2" rx="7.3" ry="4.8" transform="rotate(27 320.8 158.2)" fill="#2a2ee0"/>
<ellipse cx="344.3" cy="162.2" rx="6.9" ry="5.6" transform="rotate(68 344.3 162.2)" fill="#3040e8"/>
<ellipse cx="373.8" cy="138.6" rx="6.7" ry="5.1" transform="rotate(17 373.8 138.6)" fill="#2a60f0"/>
<ellipse cx="415.1" cy="142.5" rx="6.7" ry="6.0" transform="rotate(60 415.1 142.5)" fill="#2a60f0"/>
<ellipse cx="458.3" cy="128.8" rx="8.6" ry="6.2" transform="rotate(22 458.3 128.8)" fill="#2a2ee0"/>
<ellipse cx="474.0" cy="142.5" rx="7.5" ry="4.8" transform="rotate(95 474.0 142.5)" fill="#3040e8"/>
<ellipse cx="422.9" cy="170.0" rx="6.8" ry="5.2" transform="rotate(141 422.9 170.0)" fill="#2a2ee0"/>
<ellipse cx="432.7" cy="177.9" rx="7.6" ry="4.9" transform="rotate(55 432.7 177.9)" fill="#3a3ad8"/>
<ellipse cx="491.7" cy="164.1" rx="8.1" ry="5.9" transform="rotate(25 491.7 164.1)" fill="#3040e8"/>
<ellipse cx="474.0" cy="183.8" rx="8.4" ry="4.8" transform="rotate(163 474.0 183.8)" fill="#3a3ad8"/>
<ellipse cx="517.2" cy="185.7" rx="7.2" ry="6.2" transform="rotate(108 517.2 185.7)" fill="#2a2ee0"/>
<ellipse cx="181.3" cy="203.4" rx="6.8" ry="5.3" transform="rotate(118 181.3 203.4)" fill="#2a2ee0"/>
<ellipse cx="224.5" cy="211.3" rx="8.0" ry="5.1" transform="rotate(87 224.5 211.3)" fill="#3040e8"/>
<ellipse cx="244.1" cy="217.2" rx="8.2" ry="5.9" transform="rotate(142 244.1 217.2)" fill="#3040e8"/>
<ellipse cx="273.6" cy="211.3" rx="6.6" ry="5.0" transform="rotate(82 273.6 211.3)" fill="#3a3ad8"/>
<ellipse cx="293.3" cy="187.7" rx="6.5" ry="5.6" transform="rotate(71 293.3 187.7)" fill="#2a2ee0"/>
<ellipse cx="338.4" cy="189.7" rx="7.3" ry="6.1" transform="rotate(18 338.4 189.7)" fill="#2a2ee0"/>
<ellipse cx="367.9" cy="183.8" rx="7.2" ry="5.8" transform="rotate(14 367.9 183.8)" fill="#2a2ee0"/>
<ellipse cx="340.4" cy="211.3" rx="8.3" ry="6.1" transform="rotate(16 340.4 211.3)" fill="#2a2ee0"/>
<ellipse cx="389.5" cy="211.3" rx="7.0" ry="5.0" transform="rotate(86 389.5 211.3)" fill="#2a2ee0"/>
<ellipse cx="426.8" cy="207.3" rx="7.5" ry="5.6" transform="rotate(43 426.8 207.3)" fill="#2a2ee0"/>
<ellipse cx="452.4" cy="213.2" rx="6.9" ry="5.7" transform="rotate(21 452.4 213.2)" fill="#2a60f0"/>
<ellipse cx="495.6" cy="219.1" rx="7.2" ry="5.1" transform="rotate(8 495.6 219.1)" fill="#3040e8"/>
<ellipse cx="444.5" cy="230.9" rx="8.6" ry="6.2" transform="rotate(73 444.5 230.9)" fill="#2a2ee0"/>
<ellipse cx="521.1" cy="227.0" rx="7.5" ry="6.1" transform="rotate(131 521.1 227.0)" fill="#3a3ad8"/>
<ellipse cx="175.4" cy="238.8" rx="7.5" ry="6.0" transform="rotate(3 175.4 238.8)" fill="#2a2ee0"/>
<ellipse cx="198.9" cy="248.6" rx="6.6" ry="5.1" transform="rotate(103 198.9 248.6)" fill="#2a2ee0"/>
<ellipse cx="218.6" cy="250.6" rx="7.3" ry="5.7" transform="rotate(151 218.6 250.6)" fill="#2a2ee0"/>
<ellipse cx="238.2" cy="248.6" rx="8.4" ry="4.9" transform="rotate(20 238.2 248.6)" fill="#3a3ad8"/>
<ellipse cx="283.4" cy="244.7" rx="6.9" ry="6.0" transform="rotate(104 283.4 244.7)" fill="#2a2ee0"/>
<ellipse cx="314.9" cy="242.7" rx="8.2" ry="4.9" transform="rotate(92 314.9 242.7)" fill="#2a2ee0"/>
<ellipse cx="309.0" cy="264.3" rx="6.5" ry="5.7" transform="rotate(61 309.0 264.3)" fill="#2a2ee0"/>
<ellipse cx="90.9" cy="252.5" rx="7.2" ry="6.0" transform="rotate(125 90.9 252.5)" fill="#3040e8"/>
<ellipse cx="108.6" cy="270.2" rx="6.4" ry="6.2" transform="rotate(83 108.6 270.2)" fill="#2a2ee0"/>
<ellipse cx="371.8" cy="238.8" rx="6.5" ry="6.0" transform="rotate(74 371.8 238.8)" fill="#2a60f0"/>
<ellipse cx="470.1" cy="244.7" rx="7.9" ry="5.0" transform="rotate(27 470.1 244.7)" fill="#3a3ad8"/>
<ellipse cx="511.3" cy="248.6" rx="6.8" ry="6.2" transform="rotate(62 511.3 248.6)" fill="#2a2ee0"/>
<ellipse cx="424.9" cy="268.3" rx="8.6" ry="6.0" transform="rotate(123 424.9 268.3)" fill="#2a2ee0"/>
<ellipse cx="477.9" cy="272.2" rx="7.6" ry="5.3" transform="rotate(86 477.9 272.2)" fill="#2a60f0"/>
<ellipse cx="348.3" cy="272.2" rx="7.8" ry="5.1" transform="rotate(12 348.3 272.2)" fill="#3a3ad8"/>
<ellipse cx="267.7" cy="272.2" rx="8.1" ry="4.9" transform="rotate(113 267.7 272.2)" fill="#3040e8"/>
<ellipse cx="240.2" cy="272.2" rx="7.7" ry="6.0" transform="rotate(129 240.2 272.2)" fill="#3040e8"/>
<ellipse cx="163.6" cy="268.3" rx="6.7" ry="6.0" transform="rotate(89 163.6 268.3)" fill="#2a60f0"/>
<ellipse cx="185.2" cy="282.0" rx="8.0" ry="6.0" transform="rotate(169 185.2 282.0)" fill="#2a2ee0"/>
<ellipse cx="200.9" cy="285.9" rx="6.8" ry="5.4" transform="rotate(144 200.9 285.9)" fill="#3a3ad8"/>
<ellipse cx="242.2" cy="289.9" rx="7.1" ry="6.2" transform="rotate(115 242.2 289.9)" fill="#3a3ad8"/>
<ellipse cx="116.4" cy="297.7" rx="6.5" ry="6.0" transform="rotate(96 116.4 297.7)" fill="#2a2ee0"/>
<ellipse cx="138.0" cy="299.7" rx="6.9" ry="5.7" transform="rotate(144 138.0 299.7)" fill="#2a2ee0"/>
<ellipse cx="169.5" cy="301.7" rx="7.7" ry="6.2" transform="rotate(101 169.5 301.7)" fill="#2a60f0"/>
<ellipse cx="189.1" cy="303.6" rx="7.3" ry="6.0" transform="rotate(160 189.1 303.6)" fill="#2a2ee0"/>
<ellipse cx="214.7" cy="299.7" rx="8.2" ry="5.4" transform="rotate(143 214.7 299.7)" fill="#3040e8"/>
<ellipse cx="140.0" cy="311.5" rx="7.9" ry="6.2" transform="rotate(16 140.0 311.5)" fill="#3040e8"/>
<ellipse cx="100.7" cy="319.3" rx="6.4" ry="5.5" transform="rotate(77 100.7 319.3)" fill="#3040e8"/>
<ellipse cx="271.6" cy="311.5" rx="8.3" ry="5.5" transform="rotate(3 271.6 311.5)" fill="#2a2ee0"/>
<ellipse cx="293.3" cy="315.4" rx="7.4" ry="5.3" transform="rotate(74 293.3 315.4)" fill="#3040e8"/>
<ellipse cx="338.4" cy="297.7" rx="7.3" ry="5.5" transform="rotate(38 338.4 297.7)" fill="#3040e8"/>
<ellipse cx="375.8" cy="285.9" rx="6.6" ry="5.2" transform="rotate(6 375.8 285.9)" fill="#3040e8"/>
<ellipse cx="377.7" cy="319.3" rx="7.3" ry="5.6" transform="rotate(126 377.7 319.3)" fill="#2a60f0"/>
<ellipse cx="417.0" cy="323.3" rx="7.9" ry="4.9" transform="rotate(44 417.0 323.3)" fill="#2a2ee0"/>
<ellipse cx="450.4" cy="297.7" rx="7.3" ry="5.3" transform="rotate(148 450.4 297.7)" fill="#2a2ee0"/>
<ellipse cx="479.9" cy="291.8" rx="6.9" ry="6.1" transform="rotate(27 479.9 291.8)" fill="#2a2ee0"/>
<ellipse cx="405.2" cy="305.6" rx="7.1" ry="5.3" transform="rotate(110 405.2 305.6)" fill="#2a60f0"/>
<ellipse cx="521.1" cy="285.9" rx="6.8" ry="6.0" transform="rotate(158 521.1 285.9)" fill="#3a3ad8"/>
<ellipse cx="497.6" cy="311.5" rx="6.4" ry="6.1" transform="rotate(29 497.6 311.5)" fill="#3a3ad8"/>
<ellipse cx="519.2" cy="315.4" rx="7.4" ry="6.0" transform="rotate(19 519.2 315.4)" fill="#2a2ee0"/>
<ellipse cx="206.8" cy="321.3" rx="7.9" ry="6.3" transform="rotate(45 206.8 321.3)" fill="#3040e8"/>
<ellipse cx="252.0" cy="323.3" rx="7.9" ry="5.0" transform="rotate(132 252.0 323.3)" fill="#3a3ad8"/>
<ellipse cx="279.5" cy="337.0" rx="7.9" ry="4.9" transform="rotate(136 279.5 337.0)" fill="#3040e8"/>
<ellipse cx="309.0" cy="337.0" rx="7.0" ry="5.2" transform="rotate(112 309.0 337.0)" fill="#2a60f0"/>
<ellipse cx="324.7" cy="337.0" rx="8.5" ry="6.0" transform="rotate(55 324.7 337.0)" fill="#2a60f0"/>
<ellipse cx="222.5" cy="348.8" rx="7.5" ry="5.8" transform="rotate(11 222.5 348.8)" fill="#2a60f0"/>
<ellipse cx="202.9" cy="354.7" rx="7.6" ry="5.5" transform="rotate(3 202.9 354.7)" fill="#2a2ee0"/>
<ellipse cx="265.7" cy="352.7" rx="8.0" ry="5.9" transform="rotate(135 265.7 352.7)" fill="#2a2ee0"/>
<ellipse cx="236.3" cy="360.6" rx="7.5" ry="4.8" transform="rotate(6 236.3 360.6)" fill="#3040e8"/>
<ellipse cx="362.0" cy="348.8" rx="6.7" ry="5.7" transform="rotate(169 362.0 348.8)" fill="#3040e8"/>
<ellipse cx="460.2" cy="337.0" rx="8.6" ry="5.1" transform="rotate(104 460.2 337.0)" fill="#2a2ee0"/>
<ellipse cx="507.4" cy="352.7" rx="7.8" ry="5.2" transform="rotate(106 507.4 352.7)" fill="#3040e8"/>
<ellipse cx="399.3" cy="364.5" rx="7.3" ry="6.3" transform="rotate(139 399.3 364.5)" fill="#2a2ee0"/>
<ellipse cx="126.3" cy="368.4" rx="7.5" ry="6.3" transform="rotate(117 126.3 368.4)" fill="#2a60f0"/>
<ellipse cx="138.0" cy="368.4" rx="7.1" ry="6.1" transform="rotate(65 138.0 368.4)" fill="#3040e8"/>
<ellipse cx="254.0" cy="374.3" rx="8.1" ry="5.3" transform="rotate(89 254.0 374.3)" fill="#2a2ee0"/>
<ellipse cx="299.1" cy="372.4" rx="8.2" ry="4.9" transform="rotate(25 299.1 372.4)" fill="#3a3ad8"/>
<ellipse cx="269.7" cy="382.2" rx="6.8" ry="5.3" transform="rotate(55 269.7 382.2)" fill="#3a3ad8"/>
<ellipse cx="193.1" cy="386.1" rx="8.5" ry="6.0" transform="rotate(10 193.1 386.1)" fill="#3040e8"/>
<ellipse cx="157.7" cy="396.0" rx="7.0" ry="6.1" transform="rotate(65 157.7 396.0)" fill="#2a2ee0"/>
<ellipse cx="102.7" cy="403.8" rx="7.1" ry="5.5" transform="rotate(85 102.7 403.8)" fill="#3a3ad8"/>
<ellipse cx="198.9" cy="413.6" rx="7.2" ry="5.3" transform="rotate(20 198.9 413.6)" fill="#3040e8"/>
<ellipse cx="224.5" cy="419.5" rx="7.0" ry="5.1" transform="rotate(143 224.5 419.5)" fill="#2a60f0"/>
<ellipse cx="267.7" cy="407.7" rx="7.5" ry="5.4" transform="rotate(164 267.7 407.7)" fill="#2a60f0"/>
<ellipse cx="287.4" cy="411.7" rx="6.5" ry="5.2" transform="rotate(29 287.4 411.7)" fill="#3040e8"/>
<ellipse cx="312.9" cy="411.7" rx="8.3" ry="5.4" transform="rotate(96 312.9 411.7)" fill="#3a3ad8"/>
<ellipse cx="330.6" cy="392.0" rx="7.2" ry="6.2" transform="rotate(14 330.6 392.0)" fill="#2a60f0"/>
<ellipse cx="354.2" cy="409.7" rx="8.3" ry="5.0" transform="rotate(95 354.2 409.7)" fill="#3040e8"/>
<ellipse cx="379.7" cy="386.1" rx="6.5" ry="6.0" transform="rotate(81 379.7 386.1)" fill="#2a2ee0"/>
<ellipse cx="419.0" cy="380.2" rx="7.7" ry="5.3" transform="rotate(102 419.0 380.2)" fill="#3040e8"/>
<ellipse cx="448.5" cy="374.3" rx="8.3" ry="4.9" transform="rotate(176 448.5 374.3)" fill="#2a2ee0"/>
<ellipse cx="472.0" cy="376.3" rx="8.2" ry="5.9" transform="rotate(108 472.0 376.3)" fill="#2a60f0"/>
<ellipse cx="399.3" cy="401.8" rx="7.8" ry="6.3" transform="rotate(167 399.3 401.8)" fill="#2a2ee0"/>
<ellipse cx="411.1" cy="417.6" rx="8.1" ry="5.4" transform="rotate(114 411.1 417.6)" fill="#2a2ee0"/>
<ellipse cx="454.4" cy="419.5" rx="7.3" ry="5.5" transform="rotate(169 454.4 419.5)" fill="#3040e8"/>
<ellipse cx="493.6" cy="366.5" rx="8.0" ry="5.0" transform="rotate(61 493.6 366.5)" fill="#2a2ee0"/>
<ellipse cx="517.2" cy="358.6" rx="7.9" ry="6.2" transform="rotate(132 517.2 358.6)" fill="#2a60f0"/>
<ellipse cx="525.1" cy="335.0" rx="7.9" ry="6.2" transform="rotate(24 525.1 335.0)" fill="#3040e8"/>
<ellipse cx="501.5" cy="386.1" rx="8.3" ry="5.8" transform="rotate(12 501.5 386.1)" fill="#2a2ee0"/>
<ellipse cx="481.9" cy="335.0" rx="6.9" ry="5.9" transform="rotate(104 481.9 335.0)" fill="#2a60f0"/>
<ellipse cx="102.7" cy="427.4" rx="6.7" ry="5.8" transform="rotate(141 102.7 427.4)" fill="#2a2ee0"/>
<ellipse cx="297.2" cy="427.4" rx="6.7" ry="5.2" transform="rotate(136 297.2 427.4)" fill="#3a3ad8"/>
<circle cx="307.0" cy="93.4" r="2.3" fill="#30b0ff" opacity="0.9"/>
<circle cx="475.0" cy="273.4" r="2.4" fill="#30b0ff" opacity="0.9"/>
<circle cx="471.8" cy="246.3" r="2.3" fill="#30b0ff" opacity="0.9"/>
<circle cx="446.6" cy="372.6" r="1.8" fill="#30b0ff" opacity="0.9"/>
<circle cx="178.2" cy="131.1" r="2.7" fill="#30b0ff" opacity="0.9"/>
<circle cx="510.2" cy="120.1" r="1.6" fill="#30b0ff" opacity="0.9"/>
<circle cx="167.2" cy="301.4" r="2.5" fill="#30b0ff" opacity="0.9"/>
<circle cx="136.2" cy="365.8" r="2.1" fill="#30b0ff" opacity="0.9"/>
<circle cx="301.4" cy="93.4" r="1.6" fill="#30b0ff" opacity="0.9"/>
<circle cx="494.0" cy="221.8" r="2.8" fill="#30b0ff" opacity="0.9"/>
<circle cx="494.2" cy="364.8" r="2.5" fill="#30b0ff" opacity="0.9"/>
<circle cx="338.7" cy="214.1" r="2.3" fill="#30b0ff" opacity="0.9"/>
<circle cx="296.9" cy="67.9" r="2.6" fill="#30b0ff" opacity="0.9"/>
<circle cx="108.0" cy="267.6" r="2.3" fill="#30b0ff" opacity="0.9"/>
<circle cx="138.7" cy="140.0" r="2.2" fill="#30b0ff" opacity="0.9"/>
<circle cx="322.5" cy="339.2" r="2.8" fill="#30b0ff" opacity="0.9"/>
<circle cx="483.6" cy="290.8" r="2.8" fill="#30b0ff" opacity="0.9"/>
<circle cx="479.1" cy="84.0" r="2.1" fill="#30b0ff" opacity="0.9"/>
<circle cx="296.7" cy="373.1" r="1.6" fill="#30b0ff" opacity="0.9"/>
<circle cx="431.0" cy="176.0" r="2.5" fill="#30b0ff" opacity="0.9"/>
<circle cx="395.5" cy="403.5" r="2.5" fill="#30b0ff" opacity="0.9"/>
<circle cx="295.4" cy="185.9" r="2.5" fill="#30b0ff" opacity="0.9"/>
<circle cx="269.7" cy="274.9" r="2.7" fill="#30b0ff" opacity="0.9"/>
<circle cx="236.7" cy="99.5" r="1.5" fill="#30b0ff" opacity="0.9"/>
<circle cx="523.2" cy="334.2" r="1.7" fill="#30b0ff" opacity="0.9"/>
<circle cx="246.1" cy="288.7" r="1.6" fill="#30b0ff" opacity="0.9"/>
<circle cx="475.5" cy="183.3" r="1.5" fill="#30b0ff" opacity="0.9"/>
<circle cx="301.3" cy="371.4" r="2.6" fill="#30b0ff" opacity="0.9"/>
<circle cx="419.2" cy="323.1" r="2.8" fill="#30b0ff" opacity="0.9"/>
<circle cx="142.4" cy="311.3" r="2.6" fill="#30b0ff" opacity="0.9"/>
<circle cx="282.3" cy="140.7" r="1.8" fill="#30b0ff" opacity="0.9"/>
<circle cx="516.9" cy="313.9" r="1.5" fill="#30b0ff" opacity="0.9"/>
<circle cx="275.3" cy="213.9" r="2.8" fill="#30b0ff" opacity="0.9"/>
<circle cx="509.6" cy="354.1" r="1.7" fill="#30b0ff" opacity="0.9"/>
<circle cx="504.5" cy="349.8" r="1.8" fill="#30b0ff" opacity="0.9"/>
<circle cx="516.3" cy="355.7" r="2.6" fill="#30b0ff" opacity="0.9"/>
<circle cx="137.8" cy="137.8" r="2.7" fill="#30b0ff" opacity="0.9"/>
<circle cx="520.5" cy="360.8" r="1.9" fill="#30b0ff" opacity="0.9"/>
<circle cx="192.9" cy="387.0" r="1.8" fill="#30b0ff" opacity="0.9"/>
<circle cx="216.2" cy="249.7" r="2.6" fill="#30b0ff" opacity="0.9"/>
<circle cx="215.4" cy="126.5" r="1.8" fill="#30b0ff" opacity="0.9"/>
<circle cx="299.7" cy="374.9" r="2.4" fill="#30b0ff" opacity="0.9"/>
<circle cx="401.4" cy="364.9" r="2.4" fill="#30b0ff" opacity="0.9"/>
<circle cx="100.0" cy="404.7" r="2.6" fill="#30b0ff" opacity="0.9"/>
<circle cx="200.7" cy="248.4" r="2.6" fill="#30b0ff" opacity="0.9"/>
<circle cx="375.0" cy="229.6" r="2.2" fill="#6070ff" opacity="0.9"/>
<circle cx="358.7" cy="232.5" r="3.0" fill="#ffffff" opacity="0.9"/>
<circle cx="357.0" cy="240.4" r="2.6" fill="#ffffff" opacity="0.9"/>
<circle cx="375.9" cy="244.6" r="1.6" fill="#40b0ff" opacity="0.9"/>
<circle cx="384.1" cy="231.6" r="1.5" fill="#6070ff" opacity="0.9"/>
<circle cx="358.3" cy="232.6" r="2.9" fill="#ffffff" opacity="0.9"/>
<circle cx="380.1" cy="227.8" r="2.3" fill="#6070ff" opacity="0.9"/>
<circle cx="364.7" cy="230.5" r="1.5" fill="#40b0ff" opacity="0.9"/>
<circle cx="379.6" cy="248.0" r="1.6" fill="#ffffff" opacity="0.9"/>
<circle cx="381.0" cy="230.7" r="2.3" fill="#40b0ff" opacity="0.9"/>
<circle cx="372.1" cy="249.7" r="2.1" fill="#40b0ff" opacity="0.9"/>
<circle cx="359.0" cy="227.5" r="2.5" fill="#40b0ff" opacity="0.9"/>
<circle cx="371.9" cy="241.7" r="2.4" fill="#40b0ff" opacity="0.9"/>
<circle cx="474.6" cy="247.5" r="2.4" fill="#6070ff" opacity="0.9"/>
<circle cx="467.8" cy="236.0" r="2.6" fill="#40b0ff" opacity="0.9"/>
<circle cx="463.2" cy="244.8" r="2.8" fill="#ffffff" opacity="0.9"/>
<circle cx="461.8" cy="247.3" r="1.8" fill="#6070ff" opacity="0.9"/>
<circle cx="480.7" cy="246.7" r="1.6" fill="#ffe890" opacity="0.9"/>
<circle cx="474.0" cy="237.4" r="1.9" fill="#40b0ff" opacity="0.9"/>
<circle cx="461.0" cy="240.7" r="2.0" fill="#ffe890" opacity="0.9"/>
<circle cx="462.3" cy="246.5" r="3.0" fill="#ffffff" opacity="0.9"/>
<circle cx="459.2" cy="237.2" r="1.7" fill="#ffffff" opacity="0.9"/>
<circle cx="513.9" cy="361.6" r="2.1" fill="#ffffff" opacity="0.9"/>
<circle cx="525.0" cy="367.8" r="2.7" fill="#40b0ff" opacity="0.9"/>
<circle cx="522.7" cy="367.4" r="1.5" fill="#ffffff" opacity="0.9"/>
<circle cx="523.1" cy="361.0" r="2.8" fill="#ffffff" opacity="0.9"/>
<circle cx="516.6" cy="357.9" r="1.9" fill="#ffffff" opacity="0.9"/>
<circle cx="506.4" cy="358.1" r="2.0" fill="#ffe890" opacity="0.9"/>
<circle cx="510.0" cy="355.0" r="1.7" fill="#6070ff" opacity="0.9"/>
<circle cx="520.6" cy="370.1" r="3.0" fill="#ffe890" opacity="0.9"/>
<circle cx="507.0" cy="356.9" r="2.1" fill="#40b0ff" opacity="0.9"/>
<circle cx="508.8" cy="363.5" r="2.0" fill="#ffe890" opacity="0.9"/>
<circle cx="499.3" cy="368.6" r="1.9" fill="#ffe890" opacity="0.9"/>
<circle cx="521.5" cy="363.3" r="1.7" fill="#ffe890" opacity="0.9"/>
<circle cx="431.2" cy="173.3" r="1.6" fill="#40b0ff" opacity="0.9"/>
<circle cx="442.1" cy="170.5" r="2.3" fill="#ffffff" opacity="0.9"/>
<circle cx="441.5" cy="174.4" r="2.9" fill="#40b0ff" opacity="0.9"/>
<circle cx="435.7" cy="171.4" r="2.6" fill="#40b0ff" opacity="0.9"/>
<circle cx="437.0" cy="174.8" r="1.7" fill="#ffffff" opacity="0.9"/>
<circle cx="435.0" cy="177.7" r="1.7" fill="#ffe890" opacity="0.9"/>
<circle cx="437.8" cy="171.9" r="1.9" fill="#40b0ff" opacity="0.9"/>
<circle cx="424.6" cy="181.8" r="2.5" fill="#ffffff" opacity="0.9"/>
<circle cx="435.9" cy="177.5" r="2.5" fill="#ffe890" opacity="0.9"/>
<circle cx="258.1" cy="173.3" r="2.3" fill="#40b0ff" opacity="0.9"/>
<circle cx="263.3" cy="164.9" r="1.7" fill="#6070ff" opacity="0.9"/>
<circle cx="268.4" cy="170.2" r="2.8" fill="#6070ff" opacity="0.9"/>
<circle cx="259.9" cy="164.3" r="2.0" fill="#6070ff" opacity="0.9"/>
<circle cx="269.3" cy="165.3" r="3.0" fill="#40b0ff" opacity="0.9"/>
<circle cx="272.3" cy="169.5" r="2.0" fill="#ffffff" opacity="0.9"/>
<circle cx="257.3" cy="174.8" r="1.8" fill="#ffffff" opacity="0.9"/>
<circle cx="271.2" cy="172.5" r="1.9" fill="#40b0ff" opacity="0.9"/>
<circle cx="529.9" cy="224.2" r="1.6" fill="#ffe890" opacity="0.9"/>
<circle cx="527.3" cy="225.4" r="1.7" fill="#40b0ff" opacity="0.9"/>
<circle cx="529.8" cy="224.0" r="1.9" fill="#40b0ff" opacity="0.9"/>
<circle cx="526.1" cy="225.9" r="1.6" fill="#40b0ff" opacity="0.9"/>
<circle cx="521.8" cy="233.8" r="2.9" fill="#ffe890" opacity="0.9"/>
<circle cx="523.2" cy="231.5" r="1.7" fill="#ffe890" opacity="0.9"/>
<circle cx="497.7" cy="295.9" r="2.5" fill="#ffffff" opacity="0.9"/>
<circle cx="505.3" cy="295.9" r="2.6" fill="#40b0ff" opacity="0.9"/>
<circle cx="495.7" cy="296.3" r="1.8" fill="#6070ff" opacity="0.9"/>
<circle cx="504.5" cy="296.8" r="2.8" fill="#ffe890" opacity="0.9"/>
<circle cx="504.7" cy="294.7" r="2.5" fill="#ffe890" opacity="0.9"/>
<circle cx="495.8" cy="294.4" r="2.2" fill="#40b0ff" opacity="0.9"/>
</g>
<rect x="458.70" y="410.70" width="70.00" height="13.30" fill="#ffffff"/>
<rect x="460.50" y="411.60" width="66.50" height="1.40" fill="#111"/>
<text x="493.70" y="421.30" font-size="6.5" text-anchor="middle" fill="#222">50 μm</text>
</g>
<text x="637.50" y="81.80" font-size="27.5" textLength="17.5" lengthAdjust="spacingAndGlyphs">B</text>
<rect x="715.20" y="79.20" width="35.40" height="12.40" fill="#0b5a12" stroke="#222" stroke-width="0.8"/>
<rect x="715.20" y="122.20" width="35.40" height="11.60" fill="#c00000" stroke="#222" stroke-width="0.8"/>
<text x="770.30" y="93.00" font-size="21" textLength="202.4" lengthAdjust="spacingAndGlyphs">3T3 L Preadipocytes</text>
<text x="770.30" y="121.70" font-size="21" textLength="174.0" lengthAdjust="spacingAndGlyphs">3T3 Differentiated</text>
<text x="770.30" y="147.70" font-size="21" textLength="102.7" lengthAdjust="spacingAndGlyphs">adipocytes</text>
<text x="701.00" y="441.60" font-size="24.7" transform="rotate(-90 701.00 441.60)" textLength="320.6" lengthAdjust="spacingAndGlyphs">Adipogenic markers mRNA</text>
<text x="734.10" y="364.80" font-size="24.7" transform="rotate(-90 734.10 364.80)" textLength="169.5" lengthAdjust="spacingAndGlyphs">(Fold change)</text>
<line x1="781.30" y1="157.95" x2="781.30" y2="404.65" stroke="#000" stroke-width="3.3"/>
<line x1="771.80" y1="159.30" x2="781.30" y2="159.30" stroke="#000" stroke-width="2.7"/>
<text x="766.80" y="166.20" font-size="21" text-anchor="end">120</text>
<line x1="771.80" y1="240.60" x2="781.30" y2="240.60" stroke="#000" stroke-width="2.7"/>
<text x="766.80" y="247.50" font-size="21" text-anchor="end">80</text>
<line x1="771.80" y1="322.00" x2="781.30" y2="322.00" stroke="#000" stroke-width="2.7"/>
<text x="766.80" y="328.90" font-size="21" text-anchor="end">40</text>
<line x1="771.80" y1="403.30" x2="781.30" y2="403.30" stroke="#000" stroke-width="2.7"/>
<text x="766.80" y="410.20" font-size="21" text-anchor="end">0</text>
<line x1="771.80" y1="403.30" x2="953.70" y2="403.30" stroke="#000" stroke-width="2.7"/>
<line x1="823.70" y1="403.30" x2="823.70" y2="412.50" stroke="#000" stroke-width="3.1"/>
<line x1="908.70" y1="403.30" x2="908.70" y2="412.50" stroke="#000" stroke-width="3.1"/>
<line x1="797.00" y1="401.80" x2="819.00" y2="401.80" stroke="#000" stroke-width="1.6"/>
<line x1="882.00" y1="401.80" x2="904.00" y2="401.80" stroke="#000" stroke-width="1.6"/>
<line x1="840.15" y1="358.30" x2="840.15" y2="351.20" stroke="#000" stroke-width="3.0"/>
<line x1="835.40" y1="351.20" x2="844.90" y2="351.20" stroke="#000" stroke-width="2.6"/>
<rect x="830.30" y="357.70" width="19.70" height="45.60" fill="#c00000" stroke="#2a1a1a" stroke-width="0.9"/>
<line x1="925.30" y1="221.00" x2="925.30" y2="199.20" stroke="#000" stroke-width="3.0"/>
<line x1="920.05" y1="199.20" x2="930.55" y2="199.20" stroke="#000" stroke-width="2.6"/>
<rect x="915.70" y="220.40" width="19.20" height="182.90" fill="#c00000" stroke="#2a1a1a" stroke-width="0.9"/>
<line x1="813.50" y1="339.10" x2="840.30" y2="339.10" stroke="#000" stroke-width="3.0" stroke-linecap="round"/>
<text x="814.50" y="343.92" font-size="28" textLength="24.5" lengthAdjust="spacing" stroke="#000" stroke-width="0.35">**</text>
<line x1="899.75" y1="192.80" x2="926.35" y2="192.80" stroke="#000" stroke-width="2.9" stroke-linecap="round"/>
<text x="895.80" y="197.42" font-size="28" textLength="34.5" lengthAdjust="spacing" stroke="#000" stroke-width="0.35">***</text>
<text x="833.50" y="437.50" font-size="25" text-anchor="end" transform="rotate(-45 833.50 437.50)" letter-spacing="1.0">PPAR<tspan font-size="21" dx="12" dy="-3.5" font-style="italic">γ</tspan></text>
<text x="916.00" y="436.00" font-size="25" text-anchor="end" transform="rotate(-45 916.00 436.00)" textLength="80.9" lengthAdjust="spacing">FABP4</text>
<text x="273.20" y="502.30" font-size="24" textLength="311.0" lengthAdjust="spacingAndGlyphs" fill="#3a3a3a">Mouse 3T3-L1 adipocytes</text>
<text x="16.80" y="547.00" font-size="30" textLength="22.5" lengthAdjust="spacingAndGlyphs">C</text>
<text x="83.50" y="840.50" font-size="24" transform="rotate(-90 83.50 840.50)" textLength="288.0" lengthAdjust="spacingAndGlyphs">IL-6 mRNA ( Fold change )</text>
<line x1="140.30" y1="576.05" x2="140.30" y2="821.95" stroke="#000" stroke-width="3.3"/>
<line x1="130.40" y1="577.40" x2="140.30" y2="577.40" stroke="#000" stroke-width="2.7"/>
<text x="127.00" y="584.80" font-size="23.4" text-anchor="end" textLength="27.0" lengthAdjust="spacingAndGlyphs">25</text>
<line x1="130.40" y1="626.00" x2="140.30" y2="626.00" stroke="#000" stroke-width="2.7"/>
<text x="127.00" y="633.40" font-size="23.4" text-anchor="end" textLength="27.0" lengthAdjust="spacingAndGlyphs">20</text>
<line x1="130.40" y1="674.70" x2="140.30" y2="674.70" stroke="#000" stroke-width="2.7"/>
<text x="127.00" y="682.10" font-size="23.4" text-anchor="end" textLength="27.0" lengthAdjust="spacingAndGlyphs">15</text>
<line x1="130.40" y1="723.30" x2="140.30" y2="723.30" stroke="#000" stroke-width="2.7"/>
<text x="127.00" y="730.70" font-size="23.4" text-anchor="end" textLength="27.0" lengthAdjust="spacingAndGlyphs">10</text>
<line x1="130.40" y1="772.00" x2="140.30" y2="772.00" stroke="#000" stroke-width="2.7"/>
<text x="127.00" y="779.40" font-size="23.4" text-anchor="end" textLength="13.5" lengthAdjust="spacingAndGlyphs">5</text>
<line x1="130.40" y1="820.60" x2="140.30" y2="820.60" stroke="#000" stroke-width="2.7"/>
<text x="127.00" y="828.00" font-size="23.4" text-anchor="end" textLength="13.5" lengthAdjust="spacingAndGlyphs">0</text>
<line x1="130.40" y1="820.60" x2="306.00" y2="820.60" stroke="#000" stroke-width="2.7"/>
<line x1="161.00" y1="820.60" x2="161.00" y2="830.80" stroke="#000" stroke-width="3.1"/>
<line x1="202.30" y1="820.60" x2="202.30" y2="830.80" stroke="#000" stroke-width="3.1"/>
<line x1="243.70" y1="820.60" x2="243.70" y2="830.80" stroke="#000" stroke-width="3.1"/>
<line x1="285.00" y1="820.60" x2="285.00" y2="830.80" stroke="#000" stroke-width="3.1"/>
<line x1="161.30" y1="817.90" x2="161.30" y2="815.20" stroke="#000" stroke-width="3.0"/>
<line x1="154.80" y1="815.20" x2="167.80" y2="815.20" stroke="#000" stroke-width="2.6"/>
<rect x="148.40" y="817.30" width="25.80" height="3.30" fill="#0a8a50" stroke="#2a1a1a" stroke-width="0.9"/>
<line x1="202.70" y1="793.00" x2="202.70" y2="782.70" stroke="#000" stroke-width="3.0"/>
<line x1="196.05" y1="782.70" x2="209.35" y2="782.70" stroke="#000" stroke-width="2.6"/>
<rect x="189.80" y="792.40" width="25.80" height="28.20" fill="#c00000" stroke="#2a1a1a" stroke-width="0.9"/>
<line x1="244.00" y1="744.70" x2="244.00" y2="733.70" stroke="#000" stroke-width="3.0"/>
<line x1="237.35" y1="733.70" x2="250.65" y2="733.70" stroke="#000" stroke-width="2.6"/>
<rect x="231.10" y="744.10" width="25.80" height="76.50" fill="#0000c8" stroke="#2a1a1a" stroke-width="0.9"/>
<line x1="285.65" y1="610.70" x2="285.65" y2="598.00" stroke="#000" stroke-width="3.0"/>
<line x1="278.97" y1="598.00" x2="292.32" y2="598.00" stroke="#000" stroke-width="2.6"/>
<rect x="272.70" y="610.10" width="25.90" height="210.50" fill="#8b0a96" stroke="#2a1a1a" stroke-width="0.9"/>
<line x1="200.95" y1="564.20" x2="279.75" y2="564.20" stroke="#000" stroke-width="3.3" stroke-linecap="round"/>
<text x="216.80" y="566.19" font-size="26.8" textLength="45.8" lengthAdjust="spacing" style="font-family:'DejaVu Sans',sans-serif;font-weight:bold" stroke="#000" stroke-width="0.25">***</text>
<line x1="247.45" y1="592.60" x2="284.35" y2="592.60" stroke="#000" stroke-width="3.3" stroke-linecap="round"/>
<text x="241.00" y="597.59" font-size="26.8" textLength="45.8" lengthAdjust="spacing" style="font-family:'DejaVu Sans',sans-serif;font-weight:bold" stroke="#000" stroke-width="0.25">***</text>
<text x="162.40" y="857.00" font-size="24.3" text-anchor="end" transform="rotate(-45 162.40 857.00)" textLength="75.6" lengthAdjust="spacing">vehicle</text>
<text x="207.50" y="853.50" font-size="23.5" text-anchor="end" transform="rotate(-45 207.50 853.50)" textLength="54.0" lengthAdjust="spacing">IL-1β</text>
<text x="251.00" y="853.00" font-size="23.5" text-anchor="end" transform="rotate(-45 251.00 853.00)" textLength="65.2" lengthAdjust="spacing">TNFα</text>
<text x="291.00" y="854.00" font-size="23.5" text-anchor="end" transform="rotate(-45 291.00 854.00)" textLength="132.7" lengthAdjust="spacing">IL-1β+TNFα</text>
<text x="341.00" y="538.80" font-size="28.5" textLength="20.5" lengthAdjust="spacingAndGlyphs">D</text>
<text x="358.20" y="855.00" font-size="26.8" transform="rotate(-90 358.20 855.00)" textLength="305.0" lengthAdjust="spacingAndGlyphs">IL-6 secreted protein (pg/ml)</text>
<line x1="438.70" y1="581.35" x2="438.70" y2="827.65" stroke="#000" stroke-width="3.3"/>
<line x1="429.10" y1="582.70" x2="438.70" y2="582.70" stroke="#000" stroke-width="2.7"/>
<text x="424.50" y="590.30" font-size="24" text-anchor="end">1500</text>
<line x1="429.10" y1="663.90" x2="438.70" y2="663.90" stroke="#000" stroke-width="2.7"/>
<text x="424.50" y="671.50" font-size="24" text-anchor="end">1000</text>
<line x1="429.10" y1="745.10" x2="438.70" y2="745.10" stroke="#000" stroke-width="2.7"/>
<text x="424.50" y="752.70" font-size="24" text-anchor="end">500</text>
<line x1="429.10" y1="826.30" x2="438.70" y2="826.30" stroke="#000" stroke-width="2.7"/>
<text x="424.50" y="833.90" font-size="24" text-anchor="end">0</text>
<line x1="429.10" y1="826.30" x2="606.70" y2="826.30" stroke="#000" stroke-width="2.7"/>
<line x1="458.70" y1="826.30" x2="458.70" y2="836.00" stroke="#000" stroke-width="3.1"/>
<line x1="500.30" y1="826.30" x2="500.30" y2="836.00" stroke="#000" stroke-width="3.1"/>
<line x1="541.70" y1="826.30" x2="541.70" y2="836.00" stroke="#000" stroke-width="3.1"/>
<line x1="583.30" y1="826.30" x2="583.30" y2="836.00" stroke="#000" stroke-width="3.1"/>
<line x1="459.35" y1="823.00" x2="459.35" y2="820.50" stroke="#000" stroke-width="3.0"/>
<line x1="452.85" y1="820.50" x2="465.85" y2="820.50" stroke="#000" stroke-width="2.6"/>
<rect x="446.40" y="822.40" width="25.90" height="3.90" fill="#1e7a1e" stroke="#2a1a1a" stroke-width="0.9"/>
<line x1="501.00" y1="783.00" x2="501.00" y2="780.30" stroke="#000" stroke-width="3.0"/>
<line x1="494.35" y1="780.30" x2="507.65" y2="780.30" stroke="#000" stroke-width="2.6"/>
<rect x="488.10" y="782.40" width="25.80" height="43.90" fill="#c00000" stroke="#2a1a1a" stroke-width="0.9"/>
<line x1="542.65" y1="734.70" x2="542.65" y2="731.00" stroke="#000" stroke-width="3.0"/>
<line x1="535.97" y1="731.00" x2="549.33" y2="731.00" stroke="#000" stroke-width="2.6"/>
<rect x="529.70" y="734.10" width="25.90" height="92.20" fill="#0000c8" stroke="#2a1a1a" stroke-width="0.9"/>
<line x1="584.05" y1="636.20" x2="584.05" y2="633.70" stroke="#000" stroke-width="3.0"/>
<line x1="577.17" y1="633.70" x2="590.92" y2="633.70" stroke="#000" stroke-width="2.6"/>
<rect x="570.70" y="635.60" width="26.70" height="190.70" fill="#96008a" stroke="#2a1a1a" stroke-width="0.9"/>
<line x1="501.30" y1="579.30" x2="580.20" y2="579.30" stroke="#000" stroke-width="3.4" stroke-linecap="round"/>
<text x="511.80" y="582.99" font-size="26.8" textLength="62.2" lengthAdjust="spacing" style="font-family:'DejaVu Sans',sans-serif;font-weight:bold" stroke="#000" stroke-width="0.25">****</text>
<line x1="544.50" y1="624.10" x2="578.80" y2="624.10" stroke="#000" stroke-width="3.4" stroke-linecap="round"/>
<text x="530.10" y="625.99" font-size="26.8" textLength="62.1" lengthAdjust="spacing" style="font-family:'DejaVu Sans',sans-serif;font-weight:bold" stroke="#000" stroke-width="0.25">****</text>
<text x="456.30" y="866.80" font-size="24.3" text-anchor="end" transform="rotate(-45 456.30 866.80)" textLength="75.6" lengthAdjust="spacing">vehicle</text>
<text x="507.00" y="859.00" font-size="23.5" text-anchor="end" transform="rotate(-45 507.00 859.00)" textLength="54.0" lengthAdjust="spacing">IL-1β</text>
<text x="549.00" y="859.00" font-size="23.5" text-anchor="end" transform="rotate(-45 549.00 859.00)" textLength="64.0" lengthAdjust="spacing">TNFα</text>
<text x="589.50" y="860.00" font-size="23.5" text-anchor="end" transform="rotate(-45 589.50 860.00)" textLength="132.7" lengthAdjust="spacing">IL-1β+TNFα</text>
<text x="669.80" y="536.90" font-size="27" textLength="16.0" lengthAdjust="spacingAndGlyphs">E</text>
<text x="641.60" y="871.00" font-size="24.5" transform="rotate(-90 641.60 871.00)" textLength="340.0" lengthAdjust="spacingAndGlyphs">IL-6 secreted protein (pg/ml)</text>
<line x1="726.60" y1="578.05" x2="726.60" y2="824.55" stroke="#000" stroke-width="3.3"/>
<line x1="716.40" y1="579.40" x2="726.60" y2="579.40" stroke="#000" stroke-width="2.7"/>
<text x="712.60" y="587.70" font-size="23.7" text-anchor="end" textLength="54.0" lengthAdjust="spacingAndGlyphs">2000</text>
<line x1="716.40" y1="640.30" x2="726.60" y2="640.30" stroke="#000" stroke-width="2.7"/>
<text x="712.60" y="648.60" font-size="23.7" text-anchor="end" textLength="54.0" lengthAdjust="spacingAndGlyphs">1500</text>
<line x1="716.40" y1="701.20" x2="726.60" y2="701.20" stroke="#000" stroke-width="2.7"/>
<text x="712.60" y="709.50" font-size="23.7" text-anchor="end" textLength="54.0" lengthAdjust="spacingAndGlyphs">1000</text>
<line x1="716.40" y1="762.20" x2="726.60" y2="762.20" stroke="#000" stroke-width="2.7"/>
<text x="712.60" y="770.50" font-size="23.7" text-anchor="end" textLength="40.5" lengthAdjust="spacingAndGlyphs">500</text>
<line x1="716.40" y1="823.20" x2="726.60" y2="823.20" stroke="#000" stroke-width="2.7"/>
<text x="712.60" y="831.50" font-size="23.7" text-anchor="end" textLength="13.5" lengthAdjust="spacingAndGlyphs">0</text>
<line x1="716.40" y1="823.20" x2="1135.30" y2="823.20" stroke="#000" stroke-width="2.7"/>
<line x1="743.00" y1="823.20" x2="743.00" y2="833.00" stroke="#000" stroke-width="3.1"/>
<line x1="777.00" y1="823.20" x2="777.00" y2="833.00" stroke="#000" stroke-width="3.1"/>
<line x1="811.00" y1="823.20" x2="811.00" y2="833.00" stroke="#000" stroke-width="3.1"/>
<line x1="845.00" y1="823.20" x2="845.00" y2="833.00" stroke="#000" stroke-width="3.1"/>
<line x1="879.00" y1="823.20" x2="879.00" y2="833.00" stroke="#000" stroke-width="3.1"/>
<line x1="913.00" y1="823.20" x2="913.00" y2="833.00" stroke="#000" stroke-width="3.1"/>
<line x1="947.00" y1="823.20" x2="947.00" y2="833.00" stroke="#000" stroke-width="3.1"/>
<line x1="981.00" y1="823.20" x2="981.00" y2="833.00" stroke="#000" stroke-width="3.1"/>
<line x1="1015.00" y1="823.20" x2="1015.00" y2="833.00" stroke="#000" stroke-width="3.1"/>
<line x1="1049.00" y1="823.20" x2="1049.00" y2="833.00" stroke="#000" stroke-width="3.1"/>
<line x1="1083.00" y1="823.20" x2="1083.00" y2="833.00" stroke="#000" stroke-width="3.1"/>
<line x1="1117.00" y1="823.20" x2="1117.00" y2="833.00" stroke="#000" stroke-width="3.1"/>
<line x1="743.00" y1="810.70" x2="743.00" y2="807.00" stroke="#000" stroke-width="3.0"/>
<line x1="737.50" y1="807.00" x2="748.50" y2="807.00" stroke="#000" stroke-width="2.6"/>
<rect x="732.40" y="810.10" width="21.20" height="13.10" fill="#111111" stroke="#2a1a1a" stroke-width="0.9"/>
<line x1="777.00" y1="767.30" x2="777.00" y2="763.00" stroke="#000" stroke-width="3.0"/>
<line x1="771.50" y1="763.00" x2="782.50" y2="763.00" stroke="#000" stroke-width="2.6"/>
<rect x="766.40" y="766.70" width="21.20" height="56.50" fill="#b80000" stroke="#2a1a1a" stroke-width="0.9"/>
<line x1="811.00" y1="730.30" x2="811.00" y2="727.00" stroke="#000" stroke-width="3.0"/>
<line x1="805.50" y1="727.00" x2="816.50" y2="727.00" stroke="#000" stroke-width="2.6"/>
<rect x="800.40" y="729.70" width="21.20" height="93.50" fill="#0000c0" stroke="#2a1a1a" stroke-width="0.9"/>
<line x1="845.00" y1="635.70" x2="845.00" y2="630.30" stroke="#000" stroke-width="3.0"/>
<line x1="839.50" y1="630.30" x2="850.50" y2="630.30" stroke="#000" stroke-width="2.6"/>
<rect x="834.40" y="635.10" width="21.20" height="188.10" fill="#960080" stroke="#2a1a1a" stroke-width="0.9"/>
<line x1="879.00" y1="818.30" x2="879.00" y2="815.30" stroke="#000" stroke-width="3.0"/>
<line x1="873.50" y1="815.30" x2="884.50" y2="815.30" stroke="#000" stroke-width="2.6"/>
<rect x="868.40" y="817.70" width="21.20" height="5.50" fill="#146b3c" stroke="#2a1a1a" stroke-width="0.9"/>
<line x1="913.00" y1="783.70" x2="913.00" y2="779.70" stroke="#000" stroke-width="3.0"/>
<line x1="907.50" y1="779.70" x2="918.50" y2="779.70" stroke="#000" stroke-width="2.6"/>
<rect x="902.40" y="783.10" width="21.20" height="40.10" fill="#ff0000" stroke="#2a1a1a" stroke-width="0.9"/>
<line x1="947.00" y1="748.00" x2="947.00" y2="744.30" stroke="#000" stroke-width="3.0"/>
<line x1="941.50" y1="744.30" x2="952.50" y2="744.30" stroke="#000" stroke-width="2.6"/>
<rect x="936.40" y="747.40" width="21.20" height="75.80" fill="#0000ff" stroke="#2a1a1a" stroke-width="0.9"/>
<line x1="981.00" y1="670.70" x2="981.00" y2="659.30" stroke="#000" stroke-width="3.0"/>
<line x1="975.50" y1="659.30" x2="986.50" y2="659.30" stroke="#000" stroke-width="2.6"/>
<rect x="970.40" y="670.10" width="21.20" height="153.10" fill="#e000c0" stroke="#2a1a1a" stroke-width="0.9"/>
<line x1="1015.00" y1="823.30" x2="1015.00" y2="821.60" stroke="#000" stroke-width="3.0"/>
<line x1="1009.50" y1="821.60" x2="1020.50" y2="821.60" stroke="#000" stroke-width="2.6"/>
<rect x="1004.40" y="822.70" width="21.20" height="0.50" fill="#000" stroke="#2a1a1a" stroke-width="0.9"/>
<line x1="1049.00" y1="807.30" x2="1049.00" y2="803.30" stroke="#000" stroke-width="3.0"/>
<line x1="1043.50" y1="803.30" x2="1054.50" y2="803.30" stroke="#000" stroke-width="2.6"/>
<rect x="1038.40" y="806.70" width="21.20" height="16.50" fill="#ff4040" stroke="#2a1a1a" stroke-width="0.9"/>
<line x1="1083.00" y1="754.70" x2="1083.00" y2="750.70" stroke="#000" stroke-width="3.0"/>
<line x1="1077.50" y1="750.70" x2="1088.50" y2="750.70" stroke="#000" stroke-width="2.6"/>
<rect x="1072.40" y="754.10" width="21.20" height="69.10" fill="#5a5aff" stroke="#2a1a1a" stroke-width="0.9"/>
<line x1="1117.00" y1="710.00" x2="1117.00" y2="705.30" stroke="#000" stroke-width="3.0"/>
<line x1="1111.50" y1="705.30" x2="1122.50" y2="705.30" stroke="#000" stroke-width="2.6"/>
<rect x="1106.40" y="709.40" width="21.20" height="113.80" fill="#c800e8" stroke="#2a1a1a" stroke-width="0.9"/>
<text x="814.30" y="631.64" font-size="26" textLength="57.5" lengthAdjust="spacing" style="font-family:'DejaVu Sans',sans-serif;font-weight:bold" stroke="#000" stroke-width="0.25">****</text>
<text x="951.00" y="665.34" font-size="26" textLength="57.5" lengthAdjust="spacing" style="font-family:'DejaVu Sans',sans-serif;font-weight:bold" stroke="#000" stroke-width="0.25">****</text>
<text x="1087.70" y="705.04" font-size="26" textLength="57.1" lengthAdjust="spacing" style="font-family:'DejaVu Sans',sans-serif;font-weight:bold" stroke="#000" stroke-width="0.25">****</text>
<text x="745.00" y="861.50" font-size="24.2" text-anchor="end" transform="rotate(-45 745.00 861.50)" textLength="78.0" lengthAdjust="spacing">Vehicle</text>
<text x="783.50" y="855.00" font-size="23.5" text-anchor="end" transform="rotate(-45 783.50 855.00)" textLength="54.0" lengthAdjust="spacing">IL-1β</text>
<text x="817.50" y="855.00" font-size="23.5" text-anchor="end" transform="rotate(-45 817.50 855.00)" textLength="64.0" lengthAdjust="spacing">TNFα</text>
<text x="851.50" y="856.50" font-size="23.5" text-anchor="end" transform="rotate(-45 851.50 856.50)" textLength="130.8" lengthAdjust="spacing">IL-1β+TNFα</text>
<text x="881.00" y="861.50" font-size="24.2" text-anchor="end" transform="rotate(-45 881.00 861.50)" textLength="78.0" lengthAdjust="spacing">Vehicle</text>
<text x="919.50" y="855.00" font-size="23.5" text-anchor="end" transform="rotate(-45 919.50 855.00)" textLength="54.0" lengthAdjust="spacing">IL-1β</text>
<text x="953.50" y="855.00" font-size="23.5" text-anchor="end" transform="rotate(-45 953.50 855.00)" textLength="64.0" lengthAdjust="spacing">TNFα</text>
<text x="987.50" y="856.50" font-size="23.5" text-anchor="end" transform="rotate(-45 987.50 856.50)" textLength="130.8" lengthAdjust="spacing">IL-1β+TNFα</text>
<text x="1017.00" y="861.50" font-size="24.2" text-anchor="end" transform="rotate(-45 1017.00 861.50)" textLength="78.0" lengthAdjust="spacing">Vehicle</text>
<text x="1055.50" y="855.00" font-size="23.5" text-anchor="end" transform="rotate(-45 1055.50 855.00)" textLength="54.0" lengthAdjust="spacing">IL-1β</text>
<text x="1089.50" y="855.00" font-size="23.5" text-anchor="end" transform="rotate(-45 1089.50 855.00)" textLength="64.0" lengthAdjust="spacing">TNFα</text>
<text x="1123.50" y="856.50" font-size="23.5" text-anchor="end" transform="rotate(-45 1123.50 856.50)" textLength="130.8" lengthAdjust="spacing">IL-1β+TNFα</text>
<line x1="736.80" y1="951.50" x2="833.30" y2="951.50" stroke="#000" stroke-width="3.2" stroke-linecap="round"/>
<text x="745.80" y="974.70" font-size="23" textLength="85.6" lengthAdjust="spacingAndGlyphs">1 million</text>
<line x1="870.30" y1="951.50" x2="968.70" y2="951.50" stroke="#000" stroke-width="3.2" stroke-linecap="round"/>
<text x="865.30" y="974.70" font-size="23" textLength="105.7" lengthAdjust="spacingAndGlyphs">0.5 million</text>
<line x1="1009.60" y1="951.50" x2="1112.10" y2="951.50" stroke="#000" stroke-width="3.2" stroke-linecap="round"/>
<text x="995.30" y="975.00" font-size="23" textLength="119.4" lengthAdjust="spacingAndGlyphs">0.25 million</text>
<text x="717.00" y="1096.30" font-size="29" textLength="22.0" lengthAdjust="spacingAndGlyphs">G</text>
<text x="736.10" y="1428.30" font-size="21" transform="rotate(-90 736.10 1428.30)" textLength="270.0" lengthAdjust="spacingAndGlyphs">IL-6 (Fluorescence Intesity)</text>
<line x1="845.20" y1="1169.75" x2="845.20" y2="1416.75" stroke="#000" stroke-width="3.3"/>
<line x1="831.20" y1="1171.10" x2="845.20" y2="1171.10" stroke="#000" stroke-width="2.7"/>
<text x="827.30" y="1177.30" font-size="21" text-anchor="end" textLength="61.5" lengthAdjust="spacingAndGlyphs">80000</text>
<line x1="831.20" y1="1232.20" x2="845.20" y2="1232.20" stroke="#000" stroke-width="2.7"/>
<text x="827.30" y="1238.40" font-size="21" text-anchor="end" textLength="61.5" lengthAdjust="spacingAndGlyphs">60000</text>
<line x1="831.20" y1="1293.30" x2="845.20" y2="1293.30" stroke="#000" stroke-width="2.7"/>
<text x="827.30" y="1299.50" font-size="21" text-anchor="end" textLength="61.5" lengthAdjust="spacingAndGlyphs">40000</text>
<line x1="831.20" y1="1354.30" x2="845.20" y2="1354.30" stroke="#000" stroke-width="2.7"/>
<text x="827.30" y="1360.50" font-size="21" text-anchor="end" textLength="61.5" lengthAdjust="spacingAndGlyphs">20000</text>
<line x1="831.20" y1="1415.40" x2="845.20" y2="1415.40" stroke="#000" stroke-width="2.7"/>
<text x="827.30" y="1421.60" font-size="21" text-anchor="end" textLength="12.3" lengthAdjust="spacingAndGlyphs">0</text>
<line x1="831.20" y1="1415.40" x2="1017.70" y2="1415.40" stroke="#000" stroke-width="2.7"/>
<line x1="867.20" y1="1415.40" x2="867.20" y2="1429.00" stroke="#000" stroke-width="3.1"/>
<line x1="909.50" y1="1415.40" x2="909.50" y2="1429.00" stroke="#000" stroke-width="3.1"/>
<line x1="952.00" y1="1415.40" x2="952.00" y2="1429.00" stroke="#000" stroke-width="3.1"/>
<line x1="994.40" y1="1415.40" x2="994.40" y2="1429.00" stroke="#000" stroke-width="3.1"/>
<line x1="867.35" y1="1366.70" x2="867.35" y2="1360.00" stroke="#000" stroke-width="3.0"/>
<line x1="860.78" y1="1360.00" x2="873.92" y2="1360.00" stroke="#000" stroke-width="2.6"/>
<rect x="854.60" y="1366.10" width="25.50" height="49.30" fill="#005a00" stroke="#2a1a1a" stroke-width="0.9"/>
<line x1="910.00" y1="1290.00" x2="910.00" y2="1284.70" stroke="#000" stroke-width="3.0"/>
<line x1="903.15" y1="1284.70" x2="916.85" y2="1284.70" stroke="#000" stroke-width="2.6"/>
<rect x="896.70" y="1289.40" width="26.60" height="126.00" fill="#c00000" stroke="#2a1a1a" stroke-width="0.9"/>
<line x1="952.80" y1="1240.30" x2="952.80" y2="1231.70" stroke="#000" stroke-width="3.0"/>
<line x1="946.05" y1="1231.70" x2="959.55" y2="1231.70" stroke="#000" stroke-width="2.6"/>
<rect x="939.70" y="1239.70" width="26.20" height="175.70" fill="#0000c8" stroke="#2a1a1a" stroke-width="0.9"/>
<line x1="994.75" y1="1188.70" x2="994.75" y2="1186.00" stroke="#000" stroke-width="3.0"/>
<line x1="987.77" y1="1186.00" x2="1001.73" y2="1186.00" stroke="#000" stroke-width="2.6"/>
<rect x="981.20" y="1188.10" width="27.10" height="227.30" fill="#990088" stroke="#2a1a1a" stroke-width="0.9"/>
<line x1="900.10" y1="1155.10" x2="990.20" y2="1155.10" stroke="#000" stroke-width="3.4" stroke-linecap="round"/>
<text x="923.00" y="1159.02" font-size="28" textLength="46.3" lengthAdjust="spacing" stroke="#000" stroke-width="0.35">****</text>
<line x1="963.20" y1="1179.20" x2="999.80" y2="1179.20" stroke="#000" stroke-width="3.4" stroke-linecap="round"/>
<text x="965.80" y="1182.82" font-size="28" textLength="33.9" lengthAdjust="spacing" stroke="#000" stroke-width="0.35">***</text>
<text x="871.50" y="1450.00" font-size="21.5" text-anchor="end" transform="rotate(-45 871.50 1450.00)" textLength="69.3" lengthAdjust="spacing">Control</text>
<text x="914.00" y="1455.00" font-size="21.5" text-anchor="end" transform="rotate(-45 914.00 1455.00)" textLength="49.4" lengthAdjust="spacing">IL-1β</text>
<text x="957.00" y="1455.00" font-size="21.5" text-anchor="end" transform="rotate(-45 957.00 1455.00)" textLength="54.2" lengthAdjust="spacing">TNFα</text>
<text x="998.00" y="1455.00" font-size="21.5" text-anchor="end" transform="rotate(-45 998.00 1455.00)" textLength="128.1" lengthAdjust="spacing">TNFα + IL-1β</text>
<text x="35.00" y="960.80" font-size="31" textLength="16.5" lengthAdjust="spacingAndGlyphs">F</text>
<text x="112.70" y="957.70" font-size="17.3" textLength="76.6" lengthAdjust="spacingAndGlyphs" fill="#222">CONTROL</text>
<text x="278.70" y="953.90" font-size="15.5" textLength="40.3" lengthAdjust="spacingAndGlyphs" fill="#333">IL-1β</text>
<text x="425.30" y="954.70" font-size="15.5" textLength="41.7" lengthAdjust="spacingAndGlyphs" fill="#333">TNFα</text>
<text x="542.70" y="954.70" font-size="15.5" textLength="95.6" lengthAdjust="spacingAndGlyphs" fill="#333">TNFα+ IL-1β</text>
<text x="72.00" y="1082.00" font-size="17.5" transform="rotate(-90 72.00 1082.00)" textLength="102.3" lengthAdjust="spacingAndGlyphs" fill="#222">DAPI-NUCLEUS</text>
<text x="50.00" y="1247.30" font-size="18.5" transform="rotate(-90 50.00 1247.30)" textLength="43.3" lengthAdjust="spacingAndGlyphs" fill="#222">ANTI-</text>
<text x="71.70" y="1247.30" font-size="18.5" transform="rotate(-90 71.70 1247.30)" textLength="133.3" lengthAdjust="spacingAndGlyphs" fill="#222">TUBULINI AF 647</text>
<text x="50.50" y="1388.30" font-size="18.5" transform="rotate(-90 50.50 1388.30)" textLength="86.0" lengthAdjust="spacingAndGlyphs" fill="#222">ANTI-IL-1β</text>
<text x="74.00" y="1388.30" font-size="18.5" transform="rotate(-90 74.00 1388.30)" textLength="54.3" lengthAdjust="spacingAndGlyphs" fill="#222">AF 488</text>
<text x="74.00" y="1516.70" font-size="18.5" transform="rotate(-90 74.00 1516.70)" textLength="89.4" lengthAdjust="spacingAndGlyphs" fill="#222">COMBINED</text>
<defs><filter id="bF" x="-5%" y="-5%" width="110%" height="110%"><feTurbulence type="fractalNoise" baseFrequency="0.28 0.5" numOctaves="2" seed="5" result="n"/><feColorMatrix in="n" type="matrix" values="0 0 0 0 0 0 0 0 0 0 0 0 0 0 0 2.0 0 0 0 -0.22" result="a"/><feComposite in="SourceGraphic" in2="a" operator="in"/><feGaussianBlur stdDeviation="0.7"/></filter><filter id="bF2" x="-10%" y="-10%" width="120%" height="120%"><feGaussianBlur stdDeviation="0.5"/></filter></defs>
<rect x="76.80" y="959.80" width="588.60" height="146.60" fill="#ececec"/>
<rect x="76.80" y="1106.40" width="588.60" height="147.20" fill="#ececec"/>
<rect x="77.80" y="1253.60" width="588.60" height="147.50" fill="#ececec"/>
<rect x="78.50" y="1401.10" width="588.60" height="146.30" fill="#ececec"/>
<clipPath id="cf00"><rect x="77.3" y="960.6" width="146.0" height="144.6"/></clipPath>
<g clip-path="url(#cf00)">
<rect x="77.30" y="960.60" width="146.00" height="144.60" fill="#020202"/>
<g filter="url(#bF2)" fill="#0a14ff">
<ellipse cx="92.8" cy="1017.1" rx="5.5" ry="4.5" transform="rotate(0 92.8 1017.1)"/>
<ellipse cx="108.3" cy="1024.1" rx="8" ry="8" transform="rotate(0 108.3 1024.1)"/>
<ellipse cx="136.6" cy="1025.4" rx="8" ry="5.5" transform="rotate(25 136.6 1025.4)"/>
<ellipse cx="163.3" cy="1013.6" rx="7.5" ry="4.5" transform="rotate(-25 163.3 1013.6)"/>
<ellipse cx="177.3" cy="1020.2" rx="12" ry="8" transform="rotate(-10 177.3 1020.2)"/>
<ellipse cx="129.6" cy="1042.2" rx="7" ry="5" transform="rotate(35 129.6 1042.2)"/>
<ellipse cx="151.7" cy="1047.4" rx="8" ry="5" transform="rotate(20 151.7 1047.4)"/>
<ellipse cx="90.8" cy="1065.6" rx="7" ry="4" transform="rotate(15 90.8 1065.6)"/>
<ellipse cx="91.3" cy="1076.6" rx="6" ry="4.5" transform="rotate(0 91.3 1076.6)"/>
<ellipse cx="150.9" cy="1087.6" rx="7" ry="4" transform="rotate(30 150.9 1087.6)"/>
</g>
<text x="82.60" y="973.80" font-size="12.3" textLength="32.5" lengthAdjust="spacingAndGlyphs" fill="#dcdcdc" stroke="#dcdcdc" stroke-width="0.15">20μm</text>
<text x="219.10" y="1104.60" font-size="12.5" text-anchor="end" textLength="20.6" lengthAdjust="spacingAndGlyphs" fill="#d8d8d8">40x</text>
</g>
<clipPath id="cf01"><rect x="226.0" y="960.6" width="144.5" height="144.6"/></clipPath>
<g clip-path="url(#cf01)">
<rect x="226.00" y="960.60" width="144.50" height="144.60" fill="#020202"/>
<g filter="url(#bF2)" fill="#0a14ff">
<ellipse cx="238.4" cy="981.3" rx="7.5" ry="4.5" transform="rotate(20 238.4 981.3)"/>
<ellipse cx="271.3" cy="989.1" rx="6" ry="4" transform="rotate(0 271.3 989.1)"/>
<ellipse cx="281.7" cy="989.6" rx="6.5" ry="4" transform="rotate(0 281.7 989.6)"/>
<ellipse cx="300.6" cy="994.3" rx="6.5" ry="4.5" transform="rotate(-30 300.6 994.3)"/>
<ellipse cx="257.0" cy="1018.9" rx="8.5" ry="4.5" transform="rotate(-30 257.0 1018.9)"/>
<ellipse cx="252.0" cy="1037.6" rx="11.5" ry="4.5" transform="rotate(5 252.0 1037.6)"/>
<ellipse cx="328.8" cy="1023.3" rx="8.5" ry="5.5" transform="rotate(-50 328.8 1023.3)"/>
<ellipse cx="321.3" cy="1061.1" rx="6.5" ry="4" transform="rotate(40 321.3 1061.1)"/>
<ellipse cx="299.3" cy="1101.6" rx="8" ry="4" transform="rotate(0 299.3 1101.6)"/>
</g>
<text x="232.70" y="973.80" font-size="12.3" textLength="32.5" lengthAdjust="spacingAndGlyphs" fill="#dcdcdc" stroke="#dcdcdc" stroke-width="0.15">20μm</text>
<text x="366.30" y="1104.60" font-size="12.5" text-anchor="end" textLength="20.6" lengthAdjust="spacingAndGlyphs" fill="#d8d8d8">40x</text>
</g>
<clipPath id="cf02"><rect x="372.0" y="960.6" width="145.2" height="144.6"/></clipPath>
<g clip-path="url(#cf02)">
<rect x="372.00" y="960.60" width="145.20" height="144.60" fill="#020202"/>
<g filter="url(#bF2)" fill="#0a14ff">
<ellipse cx="378.0" cy="961.4" rx="7" ry="2.5" transform="rotate(0 378.0 961.4)"/>
<ellipse cx="391.0" cy="976.1" rx="10" ry="4.5" transform="rotate(-5 391.0 976.1)"/>
<ellipse cx="454.4" cy="963.2" rx="9" ry="4" transform="rotate(-10 454.4 963.2)"/>
<ellipse cx="407.0" cy="1005.9" rx="6.5" ry="6" transform="rotate(0 407.0 1005.9)"/>
<ellipse cx="409.0" cy="1020.2" rx="9" ry="6" transform="rotate(-40 409.0 1020.2)"/>
<ellipse cx="438.8" cy="1012.4" rx="9" ry="5" transform="rotate(10 438.8 1012.4)"/>
<ellipse cx="448.0" cy="1047.4" rx="10" ry="8" transform="rotate(0 448.0 1047.4)"/>
<ellipse cx="511.4" cy="1046.1" rx="8" ry="9" transform="rotate(0 511.4 1046.1)"/>
<ellipse cx="444.8" cy="1078.5" rx="12.5" ry="5" transform="rotate(12 444.8 1078.5)"/>
</g>
<text x="384.00" y="973.80" font-size="12.3" textLength="32.5" lengthAdjust="spacingAndGlyphs" fill="#dcdcdc" stroke="#dcdcdc" stroke-width="0.15">20μm</text>
<text x="513.00" y="1104.60" font-size="12.5" text-anchor="end" textLength="20.6" lengthAdjust="spacingAndGlyphs" fill="#d8d8d8">40x</text>
</g>
<clipPath id="cf03"><rect x="520.0" y="960.6" width="144.8" height="144.6"/></clipPath>
<g clip-path="url(#cf03)">
<rect x="520.00" y="960.60" width="144.80" height="144.60" fill="#020202"/>
<g filter="url(#bF2)" fill="#0a14ff">
<ellipse cx="637.9" cy="963.2" rx="10" ry="4" transform="rotate(0 637.9 963.2)"/>
<ellipse cx="611.2" cy="986.6" rx="11" ry="6.5" transform="rotate(0 611.2 986.6)"/>
<ellipse cx="562.2" cy="993.8" rx="7.5" ry="5.5" transform="rotate(-25 562.2 993.8)"/>
<ellipse cx="647.0" cy="1009.8" rx="12" ry="6.5" transform="rotate(0 647.0 1009.8)"/>
<ellipse cx="547.2" cy="1022.8" rx="6" ry="4.5" transform="rotate(0 547.2 1022.8)"/>
<ellipse cx="542.0" cy="1031.8" rx="7" ry="5" transform="rotate(-35 542.0 1031.8)"/>
<ellipse cx="592.5" cy="1033.1" rx="11" ry="6" transform="rotate(0 592.5 1033.1)"/>
<ellipse cx="564.6" cy="1047.4" rx="6" ry="8" transform="rotate(0 564.6 1047.4)"/>
<ellipse cx="657.3" cy="1062.9" rx="9" ry="7" transform="rotate(0 657.3 1062.9)"/>
<ellipse cx="591.8" cy="1070.6" rx="8" ry="6" transform="rotate(0 591.8 1070.6)"/>
</g>
<text x="522.80" y="973.80" font-size="12.3" textLength="32.5" lengthAdjust="spacingAndGlyphs" fill="#dcdcdc" stroke="#dcdcdc" stroke-width="0.15">20μm</text>
<text x="660.60" y="1104.60" font-size="12.5" text-anchor="end" textLength="20.6" lengthAdjust="spacingAndGlyphs" fill="#d8d8d8">40x</text>
</g>
<clipPath id="cf10"><rect x="77.3" y="1107.6" width="146.0" height="144.6"/></clipPath>
<g clip-path="url(#cf10)">
<rect x="77.30" y="1107.60" width="146.00" height="144.60" fill="#020202"/>
<g filter="url(#bF)">
<path d="M-39.0 0Q0 -16.0 39.0 0Q0 16.0 -39.0 0Z" transform="translate(186.6 1166.6) rotate(-22)" fill="#cc1111" opacity="0.92"/>
<path d="M-27.3 0Q0 -8.8 27.3 0Q0 8.8 -27.3 0Z" transform="translate(186.6 1166.6) rotate(-22)" fill="#ff2121" opacity="0.92"/>
<path d="M-18.0 0Q0 -14.0 18.0 0Q0 14.0 -18.0 0Z" transform="translate(159.3 1159.4) rotate(5)" fill="#b60f0f" opacity="0.92"/>
<path d="M-12.6 0Q0 -7.7 12.6 0Q0 7.7 -12.6 0Z" transform="translate(159.3 1159.4) rotate(5)" fill="#ef1e1e" opacity="0.92"/>
<path d="M-22.0 0Q0 -18.0 22.0 0Q0 18.0 -22.0 0Z" transform="translate(102.3 1169.3) rotate(50)" fill="#bc0f0f" opacity="0.92"/>
<path d="M-15.4 0Q0 -9.9 15.4 0Q0 9.9 -15.4 0Z" transform="translate(102.3 1169.3) rotate(50)" fill="#f71e1e" opacity="0.92"/>
<path d="M-19.0 0Q0 -16.0 19.0 0Q0 16.0 -19.0 0Z" transform="translate(133.3 1174.4) rotate(25)" fill="#c11010" opacity="0.92"/>
<path d="M-13.3 0Q0 -8.8 13.3 0Q0 8.8 -13.3 0Z" transform="translate(133.3 1174.4) rotate(25)" fill="#fd2020" opacity="0.92"/>
<path d="M-12.5 0Q0 -14.0 12.5 0Q0 14.0 -12.5 0Z" transform="translate(130.1 1191.8) rotate(0)" fill="#c11010" opacity="0.92"/>
<path d="M-8.8 0Q0 -7.7 8.8 0Q0 7.7 -8.8 0Z" transform="translate(130.1 1191.8) rotate(0)" fill="#fd2020" opacity="0.92"/>
<path d="M-16.0 0Q0 -13.0 16.0 0Q0 13.0 -16.0 0Z" transform="translate(158.1 1193.4) rotate(5)" fill="#c61010" opacity="0.92"/>
<path d="M-11.2 0Q0 -7.2 11.2 0Q0 7.2 -11.2 0Z" transform="translate(158.1 1193.4) rotate(5)" fill="#ff2020" opacity="0.92"/>
<path d="M-19.0 0Q0 -8.0 19.0 0Q0 8.0 -19.0 0Z" transform="translate(96.0 1212.6) rotate(-10)" fill="#ac0e0e" opacity="0.92"/>
<path d="M-13.3 0Q0 -4.4 13.3 0Q0 4.4 -13.3 0Z" transform="translate(96.0 1212.6) rotate(-10)" fill="#e31d1d" opacity="0.92"/>
<path d="M-18.0 0Q0 -12.0 18.0 0Q0 12.0 -18.0 0Z" transform="translate(96.0 1225.6) rotate(5)" fill="#b60f0f" opacity="0.92"/>
<path d="M-12.6 0Q0 -6.6 12.6 0Q0 6.6 -12.6 0Z" transform="translate(96.0 1225.6) rotate(5)" fill="#ef1e1e" opacity="0.92"/>
<path d="M-16.0 0Q0 -8.0 16.0 0Q0 8.0 -16.0 0Z" transform="translate(151.3 1237.6) rotate(50)" fill="#810a0a" opacity="0.92"/>
<path d="M-11.2 0Q0 -4.4 11.2 0Q0 4.4 -11.2 0Z" transform="translate(151.3 1237.6) rotate(50)" fill="#ad1818" opacity="0.92"/>
<path d="M-10.0 0Q0 -6.0 10.0 0Q0 6.0 -10.0 0Z" transform="translate(108.9 1109.6) rotate(0)" fill="#960c0c" opacity="0.92"/>
<path d="M-7.0 0Q0 -3.3 7.0 0Q0 3.3 -7.0 0Z" transform="translate(108.9 1109.6) rotate(0)" fill="#c71b1b" opacity="0.92"/>
</g>
<text x="82.60" y="1120.80" font-size="12.3" textLength="32.5" lengthAdjust="spacingAndGlyphs" fill="#dcdcdc" stroke="#dcdcdc" stroke-width="0.15">20μm</text>
<text x="219.10" y="1251.60" font-size="12.5" text-anchor="end" textLength="20.6" lengthAdjust="spacingAndGlyphs" fill="#d8d8d8">40x</text>
</g>
<clipPath id="cf11"><rect x="226.0" y="1107.6" width="144.5" height="144.6"/></clipPath>
<g clip-path="url(#cf11)">
<rect x="226.00" y="1107.60" width="144.50" height="144.60" fill="#020202"/>
<g filter="url(#bF)">
<path d="M-13.0 0Q0 -14.0 13.0 0Q0 14.0 -13.0 0Z" transform="translate(238.0 1130.9) rotate(20)" fill="#b60f0f" opacity="0.92"/>
<path d="M-9.1 0Q0 -7.7 9.1 0Q0 7.7 -9.1 0Z" transform="translate(238.0 1130.9) rotate(20)" fill="#ef1e1e" opacity="0.92"/>
<path d="M-15.0 0Q0 -11.0 15.0 0Q0 11.0 -15.0 0Z" transform="translate(278.3 1134.3) rotate(5)" fill="#c61010" opacity="0.92"/>
<path d="M-10.5 0Q0 -6.1 10.5 0Q0 6.1 -10.5 0Z" transform="translate(278.3 1134.3) rotate(5)" fill="#ff2020" opacity="0.92"/>
<ellipse cx="302.0" cy="1140.0" rx="9.0" ry="7.0" transform="rotate(0 302.0 1140.0)" fill="#960c0c" opacity="0.92"/>
<ellipse cx="302.0" cy="1140.0" rx="6.3" ry="3.9" transform="rotate(0 302.0 1140.0)" fill="#c71b1b" opacity="0.92"/>
<path d="M-21.0 0Q0 -12.0 21.0 0Q0 12.0 -21.0 0Z" transform="translate(256.8 1169.6) rotate(-35)" fill="#bc0f0f" opacity="0.92"/>
<path d="M-14.7 0Q0 -6.6 14.7 0Q0 6.6 -14.7 0Z" transform="translate(256.8 1169.6) rotate(-35)" fill="#f71e1e" opacity="0.92"/>
<path d="M-19.0 0Q0 -10.0 19.0 0Q0 10.0 -19.0 0Z" transform="translate(247.0 1188.6) rotate(5)" fill="#bc0f0f" opacity="0.92"/>
<path d="M-13.3 0Q0 -5.5 13.3 0Q0 5.5 -13.3 0Z" transform="translate(247.0 1188.6) rotate(5)" fill="#f71e1e" opacity="0.92"/>
<path d="M-25.0 0Q0 -16.0 25.0 0Q0 16.0 -25.0 0Z" transform="translate(330.0 1170.6) rotate(-58)" fill="#c11010" opacity="0.92"/>
<path d="M-17.5 0Q0 -8.8 17.5 0Q0 8.8 -17.5 0Z" transform="translate(330.0 1170.6) rotate(-58)" fill="#fd2020" opacity="0.92"/>
<path d="M-17.0 0Q0 -14.0 17.0 0Q0 14.0 -17.0 0Z" transform="translate(323.7 1204.2) rotate(25)" fill="#c11010" opacity="0.92"/>
<path d="M-11.9 0Q0 -7.7 11.9 0Q0 7.7 -11.9 0Z" transform="translate(323.7 1204.2) rotate(25)" fill="#fd2020" opacity="0.92"/>
<ellipse cx="228.3" cy="1218.5" rx="6.0" ry="4.0" transform="rotate(0 228.3 1218.5)" fill="#b60f0f" opacity="0.92"/>
<ellipse cx="228.3" cy="1218.5" rx="4.2" ry="2.2" transform="rotate(0 228.3 1218.5)" fill="#ef1e1e" opacity="0.92"/>
<ellipse cx="295.0" cy="1244.4" rx="12.0" ry="8.0" transform="rotate(40 295.0 1244.4)" fill="#a10d0d" opacity="0.92"/>
<ellipse cx="295.0" cy="1244.4" rx="8.4" ry="4.4" transform="rotate(40 295.0 1244.4)" fill="#d51c1c" opacity="0.92"/>
</g>
<text x="232.70" y="1120.80" font-size="12.3" textLength="32.5" lengthAdjust="spacingAndGlyphs" fill="#dcdcdc" stroke="#dcdcdc" stroke-width="0.15">20μm</text>
<text x="366.30" y="1251.60" font-size="12.5" text-anchor="end" textLength="20.6" lengthAdjust="spacingAndGlyphs" fill="#d8d8d8">40x</text>
</g>
<clipPath id="cf12"><rect x="372.0" y="1107.6" width="145.2" height="144.6"/></clipPath>
<g clip-path="url(#cf12)">
<rect x="372.00" y="1107.60" width="145.20" height="144.60" fill="#020202"/>
<g filter="url(#bF)">
<polygon points="372.0,1109.2 382.7,1108.5 420.2,1117.2 400.1,1123.9 372.0,1136.6 372.0,1127.9" fill="#bc0f0f" opacity="0.92" stroke="#bc0f0f" stroke-width="1.5" stroke-linejoin="round"/>
<polygon points="378.5,1114.3 384.4,1113.9 405.0,1118.7 394.0,1122.4 378.5,1129.4 378.5,1124.6" fill="#f71e1e" opacity="0.92" stroke="#f71e1e" stroke-width="0.8" stroke-linejoin="round"/>
<polygon points="425.5,1125.9 447.0,1110.5 470.4,1107.9 469.7,1112.6 447.0,1119.9" fill="#ac0e0e" opacity="0.92" stroke="#ac0e0e" stroke-width="1.5" stroke-linejoin="round"/>
<polygon points="437.4,1121.2 449.2,1112.7 462.1,1111.3 461.7,1113.8 449.2,1117.9" fill="#e31d1d" opacity="0.92" stroke="#e31d1d" stroke-width="0.8" stroke-linejoin="round"/>
<polygon points="392.1,1196.9 406.8,1168.1 440.9,1130.0 429.6,1152.0 420.2,1168.1" fill="#cc1111" opacity="0.92" stroke="#cc1111" stroke-width="1.5" stroke-linejoin="round"/>
<polygon points="403.7,1181.7 411.8,1165.8 430.6,1144.9 424.3,1157.0 419.2,1165.8" fill="#ff2121" opacity="0.92" stroke="#ff2121" stroke-width="0.8" stroke-linejoin="round"/>
<polygon points="381.4,1147.4 410.8,1149.4 413.5,1156.1 404.1,1164.1 386.7,1164.1 382.0,1157.4" fill="#9b0d0d" opacity="0.92" stroke="#9b0d0d" stroke-width="1.5" stroke-linejoin="round"/>
<polygon points="388.2,1151.5 404.3,1152.6 405.8,1156.2 400.6,1160.6 391.1,1160.6 388.5,1157.0" fill="#cd1c1c" opacity="0.92" stroke="#cd1c1c" stroke-width="0.8" stroke-linejoin="round"/>
<polygon points="425.5,1158.7 443.0,1157.4 451.7,1162.8 445.6,1168.8 433.6,1169.4" fill="#a10d0d" opacity="0.92" stroke="#a10d0d" stroke-width="1.5" stroke-linejoin="round"/>
<polygon points="432.0,1160.8 441.6,1160.1 446.4,1163.1 443.0,1166.4 436.4,1166.7" fill="#d51c1c" opacity="0.92" stroke="#d51c1c" stroke-width="0.8" stroke-linejoin="round"/>
<polygon points="422.2,1176.1 430.9,1170.8 441.6,1186.9 447.0,1186.9 447.0,1170.8 453.7,1176.1 466.4,1209.6 460.4,1215.0 438.9,1213.6 429.6,1192.2" fill="#b60f0f" opacity="0.92" stroke="#b60f0f" stroke-width="1.5" stroke-linejoin="round"/>
<polygon points="431.9,1182.3 436.7,1179.3 442.6,1188.2 445.5,1188.2 445.5,1179.3 449.2,1182.3 456.2,1200.7 452.9,1203.7 441.1,1202.9 436.0,1191.1" fill="#ef1e1e" opacity="0.92" stroke="#ef1e1e" stroke-width="0.8" stroke-linejoin="round"/>
<polygon points="471.1,1178.8 499.2,1168.1 517.2,1181.5 517.2,1213.6 495.2,1213.6 479.1,1200.2" fill="#8d0b0b" opacity="0.92" stroke="#8d0b0b" stroke-width="1.5" stroke-linejoin="round"/>
<polygon points="482.5,1185.0 498.0,1179.1 507.9,1186.5 507.9,1204.2 495.8,1204.2 486.9,1196.8" fill="#bc1919" opacity="0.92" stroke="#bc1919" stroke-width="0.8" stroke-linejoin="round"/>
<polygon points="402.1,1221.0 433.6,1222.3 477.8,1233.7 460.4,1237.1 430.9,1231.7" fill="#cc1111" opacity="0.92" stroke="#cc1111" stroke-width="1.5" stroke-linejoin="round"/>
<polygon points="419.6,1224.7 436.9,1225.4 461.2,1231.7 451.7,1233.5 435.4,1230.6" fill="#ff2121" opacity="0.92" stroke="#ff2121" stroke-width="0.8" stroke-linejoin="round"/>
</g>
<text x="384.00" y="1120.80" font-size="12.3" textLength="32.5" lengthAdjust="spacingAndGlyphs" fill="#dcdcdc" stroke="#dcdcdc" stroke-width="0.15">20μm</text>
<text x="513.00" y="1251.60" font-size="12.5" text-anchor="end" textLength="20.6" lengthAdjust="spacingAndGlyphs" fill="#d8d8d8">40x</text>
</g>
<clipPath id="cf13"><rect x="520.0" y="1107.6" width="144.8" height="144.6"/></clipPath>
<g clip-path="url(#cf13)">
<rect x="520.00" y="1107.60" width="144.80" height="144.60" fill="#020202"/>
<g filter="url(#bF)">
<polygon points="599.3,1113.6 616.7,1108.3 664.2,1108.3 664.2,1112.3 626.0,1119.0" fill="#bc0f0f" opacity="0.92" stroke="#bc0f0f" stroke-width="1.5" stroke-linejoin="round"/>
<polygon points="615.0,1113.0 624.5,1110.1 650.6,1110.1 650.6,1112.3 629.6,1116.0" fill="#f71e1e" opacity="0.92" stroke="#f71e1e" stroke-width="0.8" stroke-linejoin="round"/>
<polygon points="541.0,1151.8 572.5,1123.0 583.2,1132.4 559.1,1150.4 545.7,1154.5" fill="#b10e0e" opacity="0.92" stroke="#b10e0e" stroke-width="1.5" stroke-linejoin="round"/>
<polygon points="549.7,1147.6 567.0,1131.7 572.9,1136.9 559.6,1146.8 552.3,1149.1" fill="#e91d1d" opacity="0.92" stroke="#e91d1d" stroke-width="0.8" stroke-linejoin="round"/>
<polygon points="582.5,1127.0 595.2,1117.0 647.4,1140.4 634.1,1145.1 608.6,1146.4 597.9,1155.8 593.9,1150.4" fill="#bc0f0f" opacity="0.92" stroke="#bc0f0f" stroke-width="1.5" stroke-linejoin="round"/>
<polygon points="594.2,1133.0 601.2,1127.5 629.9,1140.4 622.6,1142.9 608.6,1143.7 602.7,1148.8 600.5,1145.9" fill="#f71e1e" opacity="0.92" stroke="#f71e1e" stroke-width="0.8" stroke-linejoin="round"/>
<polygon points="615.3,1156.5 647.4,1139.7 664.2,1138.4 664.2,1167.8 650.1,1163.8 644.8,1193.3 635.4,1167.8" fill="#bc0f0f" opacity="0.92" stroke="#bc0f0f" stroke-width="1.5" stroke-linejoin="round"/>
<polygon points="629.1,1158.5 646.7,1149.3 656.0,1148.6 656.0,1164.8 648.2,1162.6 645.3,1178.8 640.1,1164.8" fill="#f71e1e" opacity="0.92" stroke="#f71e1e" stroke-width="0.8" stroke-linejoin="round"/>
<polygon points="521.6,1199.3 545.7,1154.5 563.1,1151.1 559.1,1163.8 535.0,1202.6 527.0,1204.7" fill="#c61010" opacity="0.92" stroke="#c61010" stroke-width="1.5" stroke-linejoin="round"/>
<polygon points="530.7,1190.3 544.0,1165.7 553.6,1163.8 551.4,1170.8 538.1,1192.1 533.7,1193.3" fill="#ff2020" opacity="0.92" stroke="#ff2020" stroke-width="0.8" stroke-linejoin="round"/>
<polygon points="567.8,1169.8 573.8,1186.6 573.8,1214.7 565.8,1209.3 553.1,1208.0" fill="#c11010" opacity="0.92" stroke="#c11010" stroke-width="1.5" stroke-linejoin="round"/>
<polygon points="567.4,1182.3 570.7,1191.6 570.7,1207.0 566.3,1204.1 559.3,1203.4" fill="#fd2020" opacity="0.92" stroke="#fd2020" stroke-width="0.8" stroke-linejoin="round"/>
<polygon points="607.3,1244.8 619.3,1226.7 664.2,1187.9 664.2,1225.4 647.4,1234.8 612.6,1247.5" fill="#b40f0f" opacity="0.92" stroke="#b40f0f" stroke-width="1.5" stroke-linejoin="round"/>
<polygon points="620.1,1237.2 626.7,1227.2 651.4,1205.9 651.4,1226.5 642.2,1231.7 623.1,1238.7" fill="#ed1e1e" opacity="0.92" stroke="#ed1e1e" stroke-width="0.8" stroke-linejoin="round"/>
<polygon points="540.3,1249.5 545.7,1245.5 553.7,1252.2" fill="#ac0e0e" opacity="0.92" stroke="#ac0e0e" stroke-width="1.5" stroke-linejoin="round"/>
<polygon points="543.1,1249.3 546.1,1247.1 550.5,1250.8" fill="#e31d1d" opacity="0.92" stroke="#e31d1d" stroke-width="0.8" stroke-linejoin="round"/>
<ellipse cx="590.5" cy="1181.2" rx="12.0" ry="14.7" transform="rotate(0 590.5 1181.2)" fill="#bc0f0f" opacity="0.92"/>
<ellipse cx="590.5" cy="1181.2" rx="8.4" ry="8.1" transform="rotate(0 590.5 1181.2)" fill="#f71e1e" opacity="0.92"/>
<ellipse cx="592.6" cy="1220.0" rx="13.4" ry="15.4" transform="rotate(0 592.6 1220.0)" fill="#c61010" opacity="0.92"/>
<ellipse cx="592.6" cy="1220.0" rx="9.4" ry="8.5" transform="rotate(0 592.6 1220.0)" fill="#ff2020" opacity="0.92"/>
</g>
<text x="522.80" y="1120.80" font-size="12.3" textLength="32.5" lengthAdjust="spacingAndGlyphs" fill="#dcdcdc" stroke="#dcdcdc" stroke-width="0.15">20μm</text>
<text x="660.60" y="1251.60" font-size="12.5" text-anchor="end" textLength="20.6" lengthAdjust="spacingAndGlyphs" fill="#d8d8d8">40x</text>
</g>
<clipPath id="cf20"><rect x="78.3" y="1255.3" width="146.0" height="144.4"/></clipPath>
<g clip-path="url(#cf20)">
<rect x="78.30" y="1255.30" width="146.00" height="144.40" fill="#020202"/>
<g filter="url(#bF)">
<ellipse cx="187.6" cy="1314.3" rx="9" ry="6.5" transform="rotate(-22 187.6 1314.3)" fill="#093d0c" opacity="0.9"/>
<ellipse cx="160.3" cy="1307.1" rx="9" ry="6.5" transform="rotate(5 160.3 1307.1)" fill="#08380b" opacity="0.9"/>
<ellipse cx="103.3" cy="1317.0" rx="9" ry="6.5" transform="rotate(50 103.3 1317.0)" fill="#08390b" opacity="0.9"/>
<ellipse cx="134.3" cy="1322.1" rx="9" ry="6.5" transform="rotate(25 134.3 1322.1)" fill="#083a0b" opacity="0.9"/>
<ellipse cx="131.1" cy="1339.5" rx="9" ry="6.5" transform="rotate(0 131.1 1339.5)" fill="#083a0b" opacity="0.9"/>
<ellipse cx="159.1" cy="1341.1" rx="9" ry="6.5" transform="rotate(5 159.1 1341.1)" fill="#093c0c" opacity="0.9"/>
<ellipse cx="97.0" cy="1360.3" rx="9" ry="4" transform="rotate(-10 97.0 1360.3)" fill="#07350a" opacity="0.9"/>
<ellipse cx="97.0" cy="1373.3" rx="9" ry="6" transform="rotate(5 97.0 1373.3)" fill="#08380b" opacity="0.9"/>
<ellipse cx="152.3" cy="1385.3" rx="9" ry="4" transform="rotate(50 152.3 1385.3)" fill="#062a08" opacity="0.9"/>
<ellipse cx="109.9" cy="1257.3" rx="9" ry="3" transform="rotate(0 109.9 1257.3)" fill="#072f09" opacity="0.9"/>
</g>
<text x="83.60" y="1268.50" font-size="12.3" textLength="32.5" lengthAdjust="spacingAndGlyphs" fill="#dcdcdc" stroke="#dcdcdc" stroke-width="0.15">20μm</text>
<text x="220.10" y="1399.10" font-size="12.5" text-anchor="end" textLength="20.6" lengthAdjust="spacingAndGlyphs" fill="#d8d8d8">40x</text>
</g>
<clipPath id="cf21"><rect x="227.0" y="1255.3" width="144.5" height="144.4"/></clipPath>
<g clip-path="url(#cf21)">
<rect x="227.00" y="1255.30" width="144.50" height="144.40" fill="#020202"/>
<g filter="url(#bF)">
<ellipse cx="239.0" cy="1278.6" rx="9" ry="6.5" transform="rotate(20 239.0 1278.6)" fill="#0b4c0f" opacity="0.9"/>
<ellipse cx="279.3" cy="1282.0" rx="9" ry="5.5" transform="rotate(5 279.3 1282.0)" fill="#0c5110" opacity="0.9"/>
<ellipse cx="303.0" cy="1287.7" rx="9" ry="6.5" transform="rotate(0 303.0 1287.7)" fill="#09400c" opacity="0.9"/>
<ellipse cx="257.8" cy="1317.3" rx="9" ry="6" transform="rotate(-35 257.8 1317.3)" fill="#0b4d0f" opacity="0.9"/>
<ellipse cx="248.0" cy="1336.3" rx="9" ry="5" transform="rotate(5 248.0 1336.3)" fill="#0b4d0f" opacity="0.9"/>
<ellipse cx="331.0" cy="1318.3" rx="9" ry="6.5" transform="rotate(-58 331.0 1318.3)" fill="#0b4f0f" opacity="0.9"/>
<ellipse cx="324.7" cy="1351.9" rx="9" ry="6.5" transform="rotate(25 324.7 1351.9)" fill="#0b4f0f" opacity="0.9"/>
<ellipse cx="229.3" cy="1366.2" rx="6" ry="4" transform="rotate(0 229.3 1366.2)" fill="#0b4c0f" opacity="0.9"/>
<ellipse cx="296.0" cy="1392.1" rx="9" ry="6.5" transform="rotate(40 296.0 1392.1)" fill="#0a440d" opacity="0.9"/>
</g>
<text x="233.70" y="1268.50" font-size="12.3" textLength="32.5" lengthAdjust="spacingAndGlyphs" fill="#dcdcdc" stroke="#dcdcdc" stroke-width="0.15">20μm</text>
<text x="367.30" y="1399.10" font-size="12.5" text-anchor="end" textLength="20.6" lengthAdjust="spacingAndGlyphs" fill="#d8d8d8">40x</text>
</g>
<clipPath id="cf22"><rect x="373.0" y="1255.3" width="145.2" height="144.4"/></clipPath>
<g clip-path="url(#cf22)">
<rect x="373.00" y="1255.30" width="145.20" height="144.40" fill="#020202"/>
<g filter="url(#bF)">
<polygon points="373.0,1256.9 383.7,1256.2 421.2,1264.9 401.1,1271.6 373.0,1284.3 373.0,1275.6" fill="#105614" opacity="0.92" stroke="#105614" stroke-width="1.5" stroke-linejoin="round"/>
<polygon points="379.5,1262.0 385.4,1261.6 406.0,1266.4 395.0,1270.1 379.5,1277.1 379.5,1272.3" fill="#207725" opacity="0.92" stroke="#207725" stroke-width="0.8" stroke-linejoin="round"/>
<polygon points="426.5,1273.6 448.0,1258.2 471.4,1255.6 470.7,1260.3 448.0,1267.6" fill="#020d03" opacity="0.92" stroke="#020d03" stroke-width="1.5" stroke-linejoin="round"/>
<polygon points="438.4,1268.9 450.2,1260.4 463.1,1259.0 462.7,1261.5 450.2,1265.6" fill="#0e1c0f" opacity="0.92" stroke="#0e1c0f" stroke-width="0.8" stroke-linejoin="round"/>
<polygon points="393.1,1344.6 407.8,1315.8 441.9,1277.7 430.6,1299.7 421.2,1315.8" fill="#1b9222" opacity="0.92" stroke="#1b9222" stroke-width="1.5" stroke-linejoin="round"/>
<polygon points="404.7,1329.4 412.8,1313.5 431.6,1292.6 425.3,1304.7 420.2,1313.5" fill="#2dc236" opacity="0.92" stroke="#2dc236" stroke-width="0.8" stroke-linejoin="round"/>
<polygon points="382.4,1295.1 411.8,1297.1 414.5,1303.8 405.1,1311.8 387.7,1311.8 383.0,1305.1" fill="#0a380d" opacity="0.92" stroke="#0a380d" stroke-width="1.5" stroke-linejoin="round"/>
<polygon points="389.2,1299.2 405.3,1300.3 406.8,1303.9 401.6,1308.3 392.1,1308.3 389.5,1304.7" fill="#18521c" opacity="0.92" stroke="#18521c" stroke-width="0.8" stroke-linejoin="round"/>
<polygon points="426.5,1306.4 444.0,1305.1 452.7,1310.5 446.6,1316.5 434.6,1317.1" fill="#0a380d" opacity="0.92" stroke="#0a380d" stroke-width="1.5" stroke-linejoin="round"/>
<polygon points="433.0,1308.5 442.6,1307.8 447.4,1310.8 444.0,1314.1 437.4,1314.4" fill="#18521c" opacity="0.92" stroke="#18521c" stroke-width="0.8" stroke-linejoin="round"/>
<polygon points="423.2,1323.8 431.9,1318.5 442.6,1334.6 448.0,1334.6 448.0,1318.5 454.7,1323.8 467.4,1357.3 461.4,1362.7 439.9,1361.3 430.6,1339.9" fill="#0d4810" opacity="0.92" stroke="#0d4810" stroke-width="1.5" stroke-linejoin="round"/>
<polygon points="432.9,1330.0 437.7,1327.0 443.6,1335.9 446.5,1335.9 446.5,1327.0 450.2,1330.0 457.2,1348.4 453.9,1351.4 442.1,1350.6 437.0,1338.8" fill="#1c6620" opacity="0.92" stroke="#1c6620" stroke-width="0.8" stroke-linejoin="round"/>
<polygon points="472.1,1326.5 500.2,1315.8 518.2,1329.2 518.2,1361.3 496.2,1361.3 480.1,1347.9" fill="#031104" opacity="0.92" stroke="#031104" stroke-width="1.5" stroke-linejoin="round"/>
<polygon points="483.5,1332.7 499.0,1326.8 508.9,1334.2 508.9,1351.9 496.8,1351.9 487.9,1344.5" fill="#0f2111" opacity="0.92" stroke="#0f2111" stroke-width="0.8" stroke-linejoin="round"/>
<polygon points="403.1,1368.7 434.6,1370.0 478.8,1381.4 461.4,1384.8 431.9,1379.4" fill="#1ea326" opacity="0.92" stroke="#1ea326" stroke-width="1.5" stroke-linejoin="round"/>
<polygon points="420.6,1372.4 437.9,1373.1 462.2,1379.4 452.7,1381.2 436.4,1378.3" fill="#31d73b" opacity="0.92" stroke="#31d73b" stroke-width="0.8" stroke-linejoin="round"/>
</g>
<text x="385.00" y="1268.50" font-size="12.3" textLength="32.5" lengthAdjust="spacingAndGlyphs" fill="#dcdcdc" stroke="#dcdcdc" stroke-width="0.15">20μm</text>
<text x="514.00" y="1399.10" font-size="12.5" text-anchor="end" textLength="20.6" lengthAdjust="spacingAndGlyphs" fill="#d8d8d8">40x</text>
</g>
<clipPath id="cf23"><rect x="521.0" y="1255.3" width="144.8" height="144.4"/></clipPath>
<g clip-path="url(#cf23)">
<rect x="521.00" y="1255.30" width="144.80" height="144.40" fill="#020202"/>
<g filter="url(#bF)">
<polygon points="600.3,1261.3 617.7,1256.0 665.2,1256.0 665.2,1260.0 627.0,1266.7" fill="#1c9823" opacity="0.92" stroke="#1c9823" stroke-width="1.5" stroke-linejoin="round"/>
<polygon points="616.0,1260.7 625.5,1257.8 651.6,1257.8 651.6,1260.0 630.6,1263.7" fill="#2fca37" opacity="0.92" stroke="#2fca37" stroke-width="0.8" stroke-linejoin="round"/>
<polygon points="542.0,1299.5 573.5,1270.7 584.2,1280.1 560.1,1298.1 546.7,1302.2" fill="#1a8e21" opacity="0.92" stroke="#1a8e21" stroke-width="1.5" stroke-linejoin="round"/>
<polygon points="550.7,1295.3 568.0,1279.4 573.9,1284.6 560.6,1294.5 553.3,1296.8" fill="#2cbd35" opacity="0.92" stroke="#2cbd35" stroke-width="0.8" stroke-linejoin="round"/>
<polygon points="583.5,1274.7 596.2,1264.7 648.4,1288.1 635.1,1292.8 609.6,1294.1 598.9,1303.5 594.9,1298.1" fill="#1c9823" opacity="0.92" stroke="#1c9823" stroke-width="1.5" stroke-linejoin="round"/>
<polygon points="595.2,1280.7 602.2,1275.2 630.9,1288.1 623.6,1290.6 609.6,1291.4 603.7,1296.5 601.5,1293.6" fill="#2fca37" opacity="0.92" stroke="#2fca37" stroke-width="0.8" stroke-linejoin="round"/>
<polygon points="616.3,1304.2 648.4,1287.4 665.2,1286.1 665.2,1315.5 651.1,1311.5 645.8,1341.0 636.4,1315.5" fill="#1c9823" opacity="0.92" stroke="#1c9823" stroke-width="1.5" stroke-linejoin="round"/>
<polygon points="630.1,1306.2 647.7,1297.0 657.0,1296.3 657.0,1312.5 649.2,1310.3 646.3,1326.5 641.1,1312.5" fill="#2fca37" opacity="0.92" stroke="#2fca37" stroke-width="0.8" stroke-linejoin="round"/>
<polygon points="522.6,1347.0 546.7,1302.2 564.1,1298.8 560.1,1311.5 536.0,1350.3 528.0,1352.4" fill="#1da125" opacity="0.92" stroke="#1da125" stroke-width="1.5" stroke-linejoin="round"/>
<polygon points="531.7,1338.0 545.0,1313.4 554.6,1311.5 552.4,1318.5 539.1,1339.8 534.7,1341.0" fill="#30d53a" opacity="0.92" stroke="#30d53a" stroke-width="0.8" stroke-linejoin="round"/>
<polygon points="568.8,1317.5 574.8,1334.3 574.8,1362.4 566.8,1357.0 554.1,1355.7" fill="#1d9c24" opacity="0.92" stroke="#1d9c24" stroke-width="1.5" stroke-linejoin="round"/>
<polygon points="568.4,1330.0 571.7,1339.3 571.7,1354.7 567.3,1351.8 560.3,1351.1" fill="#30cf39" opacity="0.92" stroke="#30cf39" stroke-width="0.8" stroke-linejoin="round"/>
<polygon points="608.3,1392.5 620.3,1374.4 665.2,1335.6 665.2,1373.1 648.4,1382.5 613.6,1395.2" fill="#1b9121" opacity="0.92" stroke="#1b9121" stroke-width="1.5" stroke-linejoin="round"/>
<polygon points="621.1,1384.9 627.7,1374.9 652.4,1353.6 652.4,1374.2 643.2,1379.4 624.1,1386.4" fill="#2dc135" opacity="0.92" stroke="#2dc135" stroke-width="0.8" stroke-linejoin="round"/>
<polygon points="541.3,1397.2 546.7,1393.2 554.7,1399.9" fill="#198a20" opacity="0.92" stroke="#198a20" stroke-width="1.5" stroke-linejoin="round"/>
<polygon points="544.1,1397.0 547.1,1394.8 551.5,1398.5" fill="#2bb834" opacity="0.92" stroke="#2bb834" stroke-width="0.8" stroke-linejoin="round"/>
<ellipse cx="591.5" cy="1328.9" rx="12.0" ry="14.7" transform="rotate(0 591.5 1328.9)" fill="#1c9823" opacity="0.92"/>
<ellipse cx="591.5" cy="1328.9" rx="8.4" ry="8.1" transform="rotate(0 591.5 1328.9)" fill="#2fca37" opacity="0.92"/>
<ellipse cx="593.6" cy="1367.7" rx="13.4" ry="15.4" transform="rotate(0 593.6 1367.7)" fill="#1da125" opacity="0.92"/>
<ellipse cx="593.6" cy="1367.7" rx="9.4" ry="8.5" transform="rotate(0 593.6 1367.7)" fill="#30d53a" opacity="0.92"/>
</g>
<text x="523.80" y="1268.50" font-size="12.3" textLength="32.5" lengthAdjust="spacingAndGlyphs" fill="#dcdcdc" stroke="#dcdcdc" stroke-width="0.15">20μm</text>
<text x="661.60" y="1399.10" font-size="12.5" text-anchor="end" textLength="20.6" lengthAdjust="spacingAndGlyphs" fill="#d8d8d8">40x</text>
</g>
<clipPath id="cf30"><rect x="79.0" y="1402.5" width="146.0" height="144.3"/></clipPath>
<g clip-path="url(#cf30)">
<rect x="79.00" y="1402.50" width="146.00" height="144.30" fill="#020202"/>
<g filter="url(#bF)">
<path d="M-39.0 0Q0 -16.0 39.0 0Q0 16.0 -39.0 0Z" transform="translate(188.3 1461.5) rotate(-22)" fill="#ae1111" opacity="0.95"/>
<path d="M-27.3 0Q0 -8.8 27.3 0Q0 8.8 -27.3 0Z" transform="translate(188.3 1461.5) rotate(-22)" fill="#e52121" opacity="0.95"/>
<path d="M-18.0 0Q0 -14.0 18.0 0Q0 14.0 -18.0 0Z" transform="translate(161.0 1454.3) rotate(5)" fill="#9c0f0f" opacity="0.95"/>
<path d="M-12.6 0Q0 -7.7 12.6 0Q0 7.7 -12.6 0Z" transform="translate(161.0 1454.3) rotate(5)" fill="#cf1e1e" opacity="0.95"/>
<path d="M-22.0 0Q0 -18.0 22.0 0Q0 18.0 -22.0 0Z" transform="translate(104.0 1464.2) rotate(50)" fill="#a01010" opacity="0.95"/>
<path d="M-15.4 0Q0 -9.9 15.4 0Q0 9.9 -15.4 0Z" transform="translate(104.0 1464.2) rotate(50)" fill="#d42020" opacity="0.95"/>
<path d="M-19.0 0Q0 -16.0 19.0 0Q0 16.0 -19.0 0Z" transform="translate(135.0 1469.3) rotate(25)" fill="#a51010" opacity="0.95"/>
<path d="M-13.3 0Q0 -8.8 13.3 0Q0 8.8 -13.3 0Z" transform="translate(135.0 1469.3) rotate(25)" fill="#da2020" opacity="0.95"/>
<path d="M-12.5 0Q0 -14.0 12.5 0Q0 14.0 -12.5 0Z" transform="translate(131.8 1486.7) rotate(0)" fill="#a51010" opacity="0.95"/>
<path d="M-8.8 0Q0 -7.7 8.8 0Q0 7.7 -8.8 0Z" transform="translate(131.8 1486.7) rotate(0)" fill="#da2020" opacity="0.95"/>
<path d="M-16.0 0Q0 -13.0 16.0 0Q0 13.0 -16.0 0Z" transform="translate(159.8 1488.3) rotate(5)" fill="#a91010" opacity="0.95"/>
<path d="M-11.2 0Q0 -7.2 11.2 0Q0 7.2 -11.2 0Z" transform="translate(159.8 1488.3) rotate(5)" fill="#df2020" opacity="0.95"/>
<path d="M-19.0 0Q0 -8.0 19.0 0Q0 8.0 -19.0 0Z" transform="translate(97.7 1507.5) rotate(-10)" fill="#930e0e" opacity="0.95"/>
<path d="M-13.3 0Q0 -4.4 13.3 0Q0 4.4 -13.3 0Z" transform="translate(97.7 1507.5) rotate(-10)" fill="#c31d1d" opacity="0.95"/>
<path d="M-18.0 0Q0 -12.0 18.0 0Q0 12.0 -18.0 0Z" transform="translate(97.7 1520.5) rotate(5)" fill="#9c0f0f" opacity="0.95"/>
<path d="M-12.6 0Q0 -6.6 12.6 0Q0 6.6 -12.6 0Z" transform="translate(97.7 1520.5) rotate(5)" fill="#cf1e1e" opacity="0.95"/>
<path d="M-16.0 0Q0 -8.0 16.0 0Q0 8.0 -16.0 0Z" transform="translate(153.0 1532.5) rotate(50)" fill="#6e0b0b" opacity="0.95"/>
<path d="M-11.2 0Q0 -4.4 11.2 0Q0 4.4 -11.2 0Z" transform="translate(153.0 1532.5) rotate(50)" fill="#951919" opacity="0.95"/>
<path d="M-10.0 0Q0 -6.0 10.0 0Q0 6.0 -10.0 0Z" transform="translate(110.6 1404.5) rotate(0)" fill="#810c0c" opacity="0.95"/>
<path d="M-7.0 0Q0 -3.3 7.0 0Q0 3.3 -7.0 0Z" transform="translate(110.6 1404.5) rotate(0)" fill="#ad1b1b" opacity="0.95"/>
</g>
<g filter="url(#bF2)" fill="#5a46f0">
<ellipse cx="94.5" cy="1459.0" rx="5.1" ry="4.1" transform="rotate(0 94.5 1459.0)"/>
<ellipse cx="110.0" cy="1466.0" rx="7.4" ry="7.4" transform="rotate(0 110.0 1466.0)"/>
<ellipse cx="138.3" cy="1467.3" rx="7.4" ry="5.1" transform="rotate(25 138.3 1467.3)"/>
<ellipse cx="165.0" cy="1455.5" rx="6.9" ry="4.1" transform="rotate(-25 165.0 1455.5)"/>
<ellipse cx="179.0" cy="1462.1" rx="11.0" ry="7.4" transform="rotate(-10 179.0 1462.1)"/>
<ellipse cx="131.3" cy="1484.1" rx="6.4" ry="4.6" transform="rotate(35 131.3 1484.1)"/>
<ellipse cx="153.4" cy="1489.3" rx="7.4" ry="4.6" transform="rotate(20 153.4 1489.3)"/>
<ellipse cx="92.5" cy="1507.5" rx="6.4" ry="3.7" transform="rotate(15 92.5 1507.5)"/>
<ellipse cx="93.0" cy="1518.5" rx="5.5" ry="4.1" transform="rotate(0 93.0 1518.5)"/>
<ellipse cx="152.6" cy="1529.5" rx="6.4" ry="3.7" transform="rotate(30 152.6 1529.5)"/>
</g>
<text x="84.30" y="1415.70" font-size="12.3" textLength="32.5" lengthAdjust="spacingAndGlyphs" fill="#dcdcdc" stroke="#dcdcdc" stroke-width="0.15">20μm</text>
<text x="220.80" y="1546.20" font-size="12.5" text-anchor="end" textLength="20.6" lengthAdjust="spacingAndGlyphs" fill="#d8d8d8">40x</text>
</g>
<clipPath id="cf31"><rect x="227.7" y="1402.5" width="144.5" height="144.3"/></clipPath>
<g clip-path="url(#cf31)">
<rect x="227.70" y="1402.50" width="144.50" height="144.30" fill="#020202"/>
<g filter="url(#bF)">
<path d="M-13.0 0Q0 -14.0 13.0 0Q0 14.0 -13.0 0Z" transform="translate(239.7 1425.8) rotate(20)" fill="#981a0b" opacity="0.95"/>
<path d="M-9.1 0Q0 -7.7 9.1 0Q0 7.7 -9.1 0Z" transform="translate(239.7 1425.8) rotate(20)" fill="#ca2c19" opacity="0.95"/>
<path d="M-15.0 0Q0 -11.0 15.0 0Q0 11.0 -15.0 0Z" transform="translate(280.0 1429.2) rotate(5)" fill="#a51c0c" opacity="0.95"/>
<path d="M-10.5 0Q0 -6.1 10.5 0Q0 6.1 -10.5 0Z" transform="translate(280.0 1429.2) rotate(5)" fill="#da2f1b" opacity="0.95"/>
<ellipse cx="303.7" cy="1434.9" rx="9.0" ry="7.0" transform="rotate(0 303.7 1434.9)" fill="#7d1509" opacity="0.95"/>
<ellipse cx="303.7" cy="1434.9" rx="6.3" ry="3.9" transform="rotate(0 303.7 1434.9)" fill="#a82617" opacity="0.95"/>
<path d="M-21.0 0Q0 -12.0 21.0 0Q0 12.0 -21.0 0Z" transform="translate(258.5 1464.5) rotate(-35)" fill="#9c1b0b" opacity="0.95"/>
<path d="M-14.7 0Q0 -6.6 14.7 0Q0 6.6 -14.7 0Z" transform="translate(258.5 1464.5) rotate(-35)" fill="#cf2d19" opacity="0.95"/>
<path d="M-19.0 0Q0 -10.0 19.0 0Q0 10.0 -19.0 0Z" transform="translate(248.7 1483.5) rotate(5)" fill="#9c1b0b" opacity="0.95"/>
<path d="M-13.3 0Q0 -5.5 13.3 0Q0 5.5 -13.3 0Z" transform="translate(248.7 1483.5) rotate(5)" fill="#cf2d19" opacity="0.95"/>
<path d="M-25.0 0Q0 -16.0 25.0 0Q0 16.0 -25.0 0Z" transform="translate(331.7 1465.5) rotate(-58)" fill="#a11c0c" opacity="0.95"/>
<path d="M-17.5 0Q0 -8.8 17.5 0Q0 8.8 -17.5 0Z" transform="translate(331.7 1465.5) rotate(-58)" fill="#d52f1b" opacity="0.95"/>
<path d="M-17.0 0Q0 -14.0 17.0 0Q0 14.0 -17.0 0Z" transform="translate(325.4 1499.1) rotate(25)" fill="#a11c0c" opacity="0.95"/>
<path d="M-11.9 0Q0 -7.7 11.9 0Q0 7.7 -11.9 0Z" transform="translate(325.4 1499.1) rotate(25)" fill="#d52f1b" opacity="0.95"/>
<ellipse cx="230.0" cy="1513.4" rx="6.0" ry="4.0" transform="rotate(0 230.0 1513.4)" fill="#981a0b" opacity="0.95"/>
<ellipse cx="230.0" cy="1513.4" rx="4.2" ry="2.2" transform="rotate(0 230.0 1513.4)" fill="#ca2c19" opacity="0.95"/>
<ellipse cx="296.7" cy="1539.3" rx="12.0" ry="8.0" transform="rotate(40 296.7 1539.3)" fill="#86170a" opacity="0.95"/>
<ellipse cx="296.7" cy="1539.3" rx="8.4" ry="4.4" transform="rotate(40 296.7 1539.3)" fill="#b32818" opacity="0.95"/>
</g>
<g filter="url(#bF2)" fill="#5a46f0">
<ellipse cx="240.1" cy="1423.2" rx="6.9" ry="4.1" transform="rotate(20 240.1 1423.2)"/>
<ellipse cx="273.0" cy="1431.0" rx="5.5" ry="3.7" transform="rotate(0 273.0 1431.0)"/>
<ellipse cx="283.4" cy="1431.5" rx="6.0" ry="3.7" transform="rotate(0 283.4 1431.5)"/>
<ellipse cx="302.3" cy="1436.2" rx="6.0" ry="4.1" transform="rotate(-30 302.3 1436.2)"/>
<ellipse cx="258.7" cy="1460.8" rx="7.8" ry="4.1" transform="rotate(-30 258.7 1460.8)"/>
<ellipse cx="253.7" cy="1479.5" rx="10.6" ry="4.1" transform="rotate(5 253.7 1479.5)"/>
<ellipse cx="330.5" cy="1465.2" rx="7.8" ry="5.1" transform="rotate(-50 330.5 1465.2)"/>
<ellipse cx="323.0" cy="1503.0" rx="6.0" ry="3.7" transform="rotate(40 323.0 1503.0)"/>
<ellipse cx="301.0" cy="1543.5" rx="7.4" ry="3.7" transform="rotate(0 301.0 1543.5)"/>
</g>
<text x="234.40" y="1415.70" font-size="12.3" textLength="32.5" lengthAdjust="spacingAndGlyphs" fill="#dcdcdc" stroke="#dcdcdc" stroke-width="0.15">20μm</text>
<text x="368.00" y="1546.20" font-size="12.5" text-anchor="end" textLength="20.6" lengthAdjust="spacingAndGlyphs" fill="#d8d8d8">40x</text>
</g>
<clipPath id="cf32"><rect x="373.7" y="1402.5" width="145.2" height="144.3"/></clipPath>
<g clip-path="url(#cf32)">
<rect x="373.70" y="1402.50" width="145.20" height="144.30" fill="#020202"/>
<g filter="url(#bF)">
<polygon points="373.7,1404.1 384.4,1403.4 421.9,1412.1 401.8,1418.8 373.7,1431.5 373.7,1422.8" fill="#a22908" opacity="0.95" stroke="#a22908" stroke-width="1.5" stroke-linejoin="round"/>
<polygon points="380.2,1409.2 386.1,1408.8 406.7,1413.6 395.7,1417.3 380.2,1424.3 380.2,1419.5" fill="#d63f16" opacity="0.95" stroke="#d63f16" stroke-width="0.8" stroke-linejoin="round"/>
<polygon points="427.2,1420.8 448.7,1405.4 472.1,1402.8 471.4,1407.5 448.7,1414.8" fill="#952607" opacity="0.95" stroke="#952607" stroke-width="1.5" stroke-linejoin="round"/>
<polygon points="439.1,1416.1 450.9,1407.6 463.8,1406.2 463.4,1408.7 450.9,1412.8" fill="#c63b14" opacity="0.95" stroke="#c63b14" stroke-width="0.8" stroke-linejoin="round"/>
<polygon points="393.8,1491.8 408.5,1463.0 442.6,1424.9 431.3,1446.9 421.9,1463.0" fill="#af2d09" opacity="0.95" stroke="#af2d09" stroke-width="1.5" stroke-linejoin="round"/>
<polygon points="405.4,1476.6 413.5,1460.7 432.3,1439.8 426.0,1451.9 420.9,1460.7" fill="#e64417" opacity="0.95" stroke="#e64417" stroke-width="0.8" stroke-linejoin="round"/>
<polygon points="383.1,1442.3 412.5,1444.3 415.2,1451.0 405.8,1459.0 388.4,1459.0 383.7,1452.3" fill="#882206" opacity="0.95" stroke="#882206" stroke-width="1.5" stroke-linejoin="round"/>
<polygon points="389.9,1446.4 406.0,1447.5 407.5,1451.1 402.3,1455.5 392.8,1455.5 390.2,1451.9" fill="#b63613" opacity="0.95" stroke="#b63613" stroke-width="0.8" stroke-linejoin="round"/>
<polygon points="427.2,1453.6 444.7,1452.3 453.4,1457.7 447.3,1463.7 435.3,1464.3" fill="#8c2407" opacity="0.95" stroke="#8c2407" stroke-width="1.5" stroke-linejoin="round"/>
<polygon points="433.7,1455.7 443.3,1455.0 448.1,1458.0 444.7,1461.3 438.1,1461.6" fill="#bb3914" opacity="0.95" stroke="#bb3914" stroke-width="0.8" stroke-linejoin="round"/>
<polygon points="423.9,1471.0 432.6,1465.7 443.3,1481.8 448.7,1481.8 448.7,1465.7 455.4,1471.0 468.1,1504.5 462.1,1509.9 440.6,1508.5 431.3,1487.1" fill="#9d2808" opacity="0.95" stroke="#9d2808" stroke-width="1.5" stroke-linejoin="round"/>
<polygon points="433.6,1477.2 438.4,1474.2 444.3,1483.1 447.2,1483.1 447.2,1474.2 450.9,1477.2 457.9,1495.6 454.6,1498.6 442.8,1497.8 437.7,1486.0" fill="#d03e16" opacity="0.95" stroke="#d03e16" stroke-width="0.8" stroke-linejoin="round"/>
<polygon points="472.8,1473.7 500.9,1463.0 518.9,1476.4 518.9,1508.5 496.9,1508.5 480.8,1495.1" fill="#7c1f06" opacity="0.95" stroke="#7c1f06" stroke-width="1.5" stroke-linejoin="round"/>
<polygon points="484.2,1479.9 499.7,1474.0 509.6,1481.4 509.6,1499.1 497.5,1499.1 488.6,1491.7" fill="#a73213" opacity="0.95" stroke="#a73213" stroke-width="0.8" stroke-linejoin="round"/>
<polygon points="403.8,1515.9 435.3,1517.2 479.5,1528.6 462.1,1532.0 432.6,1526.6" fill="#af2d09" opacity="0.95" stroke="#af2d09" stroke-width="1.5" stroke-linejoin="round"/>
<polygon points="421.3,1519.6 438.6,1520.3 462.9,1526.6 453.4,1528.4 437.1,1525.5" fill="#e64417" opacity="0.95" stroke="#e64417" stroke-width="0.8" stroke-linejoin="round"/>
</g>
<g filter="url(#bF2)" fill="#5a46f0">
<ellipse cx="379.7" cy="1403.3" rx="6.4" ry="2.3" transform="rotate(0 379.7 1403.3)"/>
<ellipse cx="392.7" cy="1418.0" rx="9.2" ry="4.1" transform="rotate(-5 392.7 1418.0)"/>
<ellipse cx="456.1" cy="1405.1" rx="8.3" ry="3.7" transform="rotate(-10 456.1 1405.1)"/>
<ellipse cx="408.7" cy="1447.8" rx="6.0" ry="5.5" transform="rotate(0 408.7 1447.8)"/>
<ellipse cx="410.7" cy="1462.1" rx="8.3" ry="5.5" transform="rotate(-40 410.7 1462.1)"/>
<ellipse cx="440.5" cy="1454.3" rx="8.3" ry="4.6" transform="rotate(10 440.5 1454.3)"/>
<ellipse cx="449.7" cy="1489.3" rx="9.2" ry="7.4" transform="rotate(0 449.7 1489.3)"/>
<ellipse cx="513.1" cy="1488.0" rx="7.4" ry="8.3" transform="rotate(0 513.1 1488.0)"/>
<ellipse cx="446.5" cy="1520.4" rx="11.5" ry="4.6" transform="rotate(12 446.5 1520.4)"/>
</g>
<text x="385.70" y="1415.70" font-size="12.3" textLength="32.5" lengthAdjust="spacingAndGlyphs" fill="#dcdcdc" stroke="#dcdcdc" stroke-width="0.15">20μm</text>
<text x="514.70" y="1546.20" font-size="12.5" text-anchor="end" textLength="20.6" lengthAdjust="spacingAndGlyphs" fill="#d8d8d8">40x</text>
</g>
<clipPath id="cf33"><rect x="521.7" y="1402.5" width="144.8" height="144.3"/></clipPath>
<g clip-path="url(#cf33)">
<rect x="521.70" y="1402.50" width="144.80" height="144.30" fill="#020202"/>
<g filter="url(#bF)">
<polygon points="601.0,1408.5 618.4,1403.2 665.9,1403.2 665.9,1407.2 627.7,1413.9" fill="#a35c0a" opacity="0.95" stroke="#a35c0a" stroke-width="1.5" stroke-linejoin="round"/>
<polygon points="616.7,1407.9 626.2,1405.0 652.3,1405.0 652.3,1407.2 631.3,1410.9" fill="#d77f18" opacity="0.95" stroke="#d77f18" stroke-width="0.8" stroke-linejoin="round"/>
<polygon points="542.7,1446.7 574.2,1417.9 584.9,1427.3 560.8,1445.3 547.4,1449.4" fill="#9a570a" opacity="0.95" stroke="#9a570a" stroke-width="1.5" stroke-linejoin="round"/>
<polygon points="551.4,1442.5 568.7,1426.6 574.6,1431.8 561.3,1441.7 554.0,1444.0" fill="#cc7818" opacity="0.95" stroke="#cc7818" stroke-width="0.8" stroke-linejoin="round"/>
<polygon points="584.2,1421.9 596.9,1411.9 649.1,1435.3 635.8,1440.0 610.3,1441.3 599.6,1450.7 595.6,1445.3" fill="#a35c0a" opacity="0.95" stroke="#a35c0a" stroke-width="1.5" stroke-linejoin="round"/>
<polygon points="595.9,1427.9 602.9,1422.4 631.6,1435.3 624.3,1437.8 610.3,1438.6 604.4,1443.7 602.2,1440.8" fill="#d77f18" opacity="0.95" stroke="#d77f18" stroke-width="0.8" stroke-linejoin="round"/>
<polygon points="617.0,1451.4 649.1,1434.6 665.9,1433.3 665.9,1462.7 651.8,1458.7 646.5,1488.2 637.1,1462.7" fill="#a35c0a" opacity="0.95" stroke="#a35c0a" stroke-width="1.5" stroke-linejoin="round"/>
<polygon points="630.8,1453.4 648.4,1444.2 657.7,1443.5 657.7,1459.7 649.9,1457.5 647.0,1473.7 641.8,1459.7" fill="#d77f18" opacity="0.95" stroke="#d77f18" stroke-width="0.8" stroke-linejoin="round"/>
<polygon points="523.3,1494.2 547.4,1449.4 564.8,1446.0 560.8,1458.7 536.7,1497.5 528.7,1499.6" fill="#ab610b" opacity="0.95" stroke="#ab610b" stroke-width="1.5" stroke-linejoin="round"/>
<polygon points="532.4,1485.2 545.7,1460.6 555.3,1458.7 553.1,1465.7 539.8,1487.0 535.4,1488.2" fill="#e18519" opacity="0.95" stroke="#e18519" stroke-width="0.8" stroke-linejoin="round"/>
<polygon points="569.5,1464.7 575.5,1481.5 575.5,1509.6 567.5,1504.2 554.8,1502.9" fill="#a75f0a" opacity="0.95" stroke="#a75f0a" stroke-width="1.5" stroke-linejoin="round"/>
<polygon points="569.1,1477.2 572.4,1486.5 572.4,1501.9 568.0,1499.0 561.0,1498.3" fill="#dc8218" opacity="0.95" stroke="#dc8218" stroke-width="0.8" stroke-linejoin="round"/>
<polygon points="609.0,1539.7 621.0,1521.6 665.9,1482.8 665.9,1520.3 649.1,1529.7 614.3,1542.4" fill="#9d590a" opacity="0.95" stroke="#9d590a" stroke-width="1.5" stroke-linejoin="round"/>
<polygon points="621.8,1532.1 628.4,1522.1 653.1,1500.8 653.1,1521.4 643.9,1526.6 624.8,1533.6" fill="#d07b18" opacity="0.95" stroke="#d07b18" stroke-width="0.8" stroke-linejoin="round"/>
<polygon points="542.0,1544.4 547.4,1540.4 555.4,1547.1" fill="#965509" opacity="0.95" stroke="#965509" stroke-width="1.5" stroke-linejoin="round"/>
<polygon points="544.8,1544.2 547.8,1542.0 552.2,1545.7" fill="#c77617" opacity="0.95" stroke="#c77617" stroke-width="0.8" stroke-linejoin="round"/>
<ellipse cx="592.2" cy="1476.1" rx="12.0" ry="14.7" transform="rotate(0 592.2 1476.1)" fill="#a35c0a" opacity="0.95"/>
<ellipse cx="592.2" cy="1476.1" rx="8.4" ry="8.1" transform="rotate(0 592.2 1476.1)" fill="#d77f18" opacity="0.95"/>
<ellipse cx="594.3" cy="1514.9" rx="13.4" ry="15.4" transform="rotate(0 594.3 1514.9)" fill="#ab610b" opacity="0.95"/>
<ellipse cx="594.3" cy="1514.9" rx="9.4" ry="8.5" transform="rotate(0 594.3 1514.9)" fill="#e18519" opacity="0.95"/>
</g>
<g filter="url(#bF2)" fill="#5a46f0">
<ellipse cx="639.6" cy="1405.1" rx="9.2" ry="3.7" transform="rotate(0 639.6 1405.1)"/>
<ellipse cx="612.9" cy="1428.5" rx="10.1" ry="6.0" transform="rotate(0 612.9 1428.5)"/>
<ellipse cx="563.9" cy="1435.7" rx="6.9" ry="5.1" transform="rotate(-25 563.9 1435.7)"/>
<ellipse cx="648.7" cy="1451.7" rx="11.0" ry="6.0" transform="rotate(0 648.7 1451.7)"/>
<ellipse cx="548.9" cy="1464.7" rx="5.5" ry="4.1" transform="rotate(0 548.9 1464.7)"/>
<ellipse cx="543.7" cy="1473.7" rx="6.4" ry="4.6" transform="rotate(-35 543.7 1473.7)"/>
<ellipse cx="594.2" cy="1475.0" rx="10.1" ry="5.5" transform="rotate(0 594.2 1475.0)"/>
<ellipse cx="566.3" cy="1489.3" rx="5.5" ry="7.4" transform="rotate(0 566.3 1489.3)"/>
<ellipse cx="659.0" cy="1504.8" rx="8.3" ry="6.4" transform="rotate(0 659.0 1504.8)"/>
<ellipse cx="593.5" cy="1512.5" rx="7.4" ry="5.5" transform="rotate(0 593.5 1512.5)"/>
</g>
<text x="524.50" y="1415.70" font-size="12.3" textLength="32.5" lengthAdjust="spacingAndGlyphs" fill="#dcdcdc" stroke="#dcdcdc" stroke-width="0.15">20μm</text>
<text x="662.30" y="1546.20" font-size="12.5" text-anchor="end" textLength="20.6" lengthAdjust="spacingAndGlyphs" fill="#d8d8d8">40x</text>
</g>
<rect x="176.70" y="1402.30" width="49.30" height="40.00" fill="#050505" stroke="#dcd000" stroke-width="1.7"/>
<g filter="url(#bF)"><ellipse cx="201.3" cy="1423.3" rx="18.7" ry="12.0" transform="rotate(0 201.3 1422.3)" fill="#d02828"/><ellipse cx="201.3" cy="1422.3" rx="9.9" ry="8.0" transform="rotate(0 201.3 1422.3)" fill="#6a50f0"/></g>
<rect x="319.00" y="1402.30" width="54.00" height="40.00" fill="#050505" stroke="#dcd000" stroke-width="1.7"/>
<g filter="url(#bF)"><ellipse cx="346.0" cy="1423.3" rx="20.5" ry="12.0" transform="rotate(-25 346.0 1422.3)" fill="#d86018"/><ellipse cx="346.0" cy="1422.3" rx="10.8" ry="8.0" transform="rotate(-25 346.0 1422.3)" fill="#6050f0"/></g>
<rect x="471.10" y="1402.30" width="49.70" height="40.60" fill="#050505" stroke="#dcd000" stroke-width="1.7"/>
<g filter="url(#bF)"><ellipse cx="495.9" cy="1423.6" rx="18.9" ry="12.2" transform="rotate(20 495.9 1422.6)" fill="#e0a010"/><ellipse cx="495.9" cy="1422.6" rx="9.9" ry="8.1" transform="rotate(20 495.9 1422.6)" fill="#6a60f0"/></g>
<rect x="612.80" y="1402.30" width="54.40" height="39.90" fill="#050505" stroke="#dcd000" stroke-width="1.7"/>
<g filter="url(#bF)"><ellipse cx="640.0" cy="1423.2" rx="20.7" ry="12.0" transform="rotate(0 640.0 1422.2)" fill="#e8d818"/><ellipse cx="640.0" cy="1422.2" rx="10.9" ry="8.0" transform="rotate(0 640.0 1422.2)" fill="#7a80ff"/></g>
</svg>
</body></html>
